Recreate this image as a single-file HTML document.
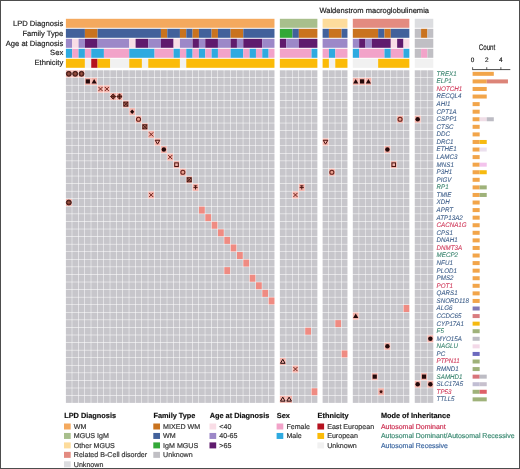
<!DOCTYPE html><html><head><meta charset="utf-8"><style>html,body{margin:0;padding:0;background:#fff;}svg{display:block;will-change:transform;}text{font-family:"Liberation Sans", sans-serif;text-rendering:geometricPrecision;}</style></head><body>
<svg width="520" height="469" viewBox="0 0 520 469">
<rect x="0" y="0" width="520" height="469" fill="#fff"/>
<rect x="65.90" y="18.80" width="208.58" height="9.0" fill="#f4a95e"/>
<rect x="279.85" y="18.80" width="37.53" height="9.0" fill="#a8bf8c"/>
<rect x="322.60" y="18.80" width="24.86" height="9.0" fill="#fddc9c"/>
<rect x="352.80" y="18.80" width="56.54" height="9.0" fill="#e38b80"/>
<rect x="414.75" y="18.80" width="18.53" height="9.0" fill="#dcdde0"/>
<text x="63.2" y="25.8" font-size="7.6" text-anchor="end" fill="#1e1e1e" stroke="#1e1e1e" stroke-width="0.18">LPD Diagnosis</text>
<rect x="65.90" y="28.80" width="19.00" height="9.0" fill="#42619b"/>
<rect x="84.91" y="28.80" width="12.67" height="9.0" fill="#c9731f"/>
<rect x="97.58" y="28.80" width="63.35" height="9.0" fill="#42619b"/>
<rect x="160.93" y="28.80" width="6.33" height="9.0" fill="#c9731f"/>
<rect x="167.26" y="28.80" width="12.67" height="9.0" fill="#42619b"/>
<rect x="179.93" y="28.80" width="6.33" height="9.0" fill="#c9731f"/>
<rect x="186.26" y="28.80" width="6.34" height="9.0" fill="#42619b"/>
<rect x="192.60" y="28.80" width="6.33" height="9.0" fill="#c9731f"/>
<rect x="198.94" y="28.80" width="12.67" height="9.0" fill="#42619b"/>
<rect x="211.61" y="28.80" width="6.33" height="9.0" fill="#c9731f"/>
<rect x="217.94" y="28.80" width="12.67" height="9.0" fill="#42619b"/>
<rect x="230.61" y="28.80" width="12.67" height="9.0" fill="#c9731f"/>
<rect x="243.28" y="28.80" width="31.20" height="9.0" fill="#42619b"/>
<rect x="279.85" y="28.80" width="12.67" height="9.0" fill="#33a838"/>
<rect x="292.52" y="28.80" width="6.33" height="9.0" fill="#42619b"/>
<rect x="298.86" y="28.80" width="18.53" height="9.0" fill="#c9731f"/>
<rect x="322.60" y="28.80" width="6.33" height="9.0" fill="#42619b"/>
<rect x="328.94" y="28.80" width="12.67" height="9.0" fill="#c9731f"/>
<rect x="341.61" y="28.80" width="5.86" height="9.0" fill="#42619b"/>
<rect x="352.80" y="28.80" width="25.34" height="9.0" fill="#c9731f"/>
<rect x="378.14" y="28.80" width="6.34" height="9.0" fill="#42619b"/>
<rect x="384.48" y="28.80" width="6.33" height="9.0" fill="#c9731f"/>
<rect x="390.81" y="28.80" width="18.53" height="9.0" fill="#42619b"/>
<rect x="414.75" y="28.80" width="6.33" height="9.0" fill="#c0bfc4"/>
<rect x="421.08" y="28.80" width="6.34" height="9.0" fill="#c9731f"/>
<rect x="427.42" y="28.80" width="5.86" height="9.0" fill="#c0bfc4"/>
<text x="63.2" y="35.6" font-size="7.6" text-anchor="end" fill="#1e1e1e" stroke="#1e1e1e" stroke-width="0.18">Family Type</text>
<rect x="65.90" y="38.80" width="6.33" height="9.0" fill="#9c88c8"/>
<rect x="72.23" y="38.80" width="6.34" height="9.0" fill="#f9dde6"/>
<rect x="78.57" y="38.80" width="6.33" height="9.0" fill="#9c88c8"/>
<rect x="84.91" y="38.80" width="12.67" height="9.0" fill="#5f1b6d"/>
<rect x="97.58" y="38.80" width="31.67" height="9.0" fill="#9c88c8"/>
<rect x="129.25" y="38.80" width="6.34" height="9.0" fill="#f9dde6"/>
<rect x="135.59" y="38.80" width="12.67" height="9.0" fill="#5f1b6d"/>
<rect x="148.25" y="38.80" width="12.67" height="9.0" fill="#9c88c8"/>
<rect x="160.93" y="38.80" width="12.67" height="9.0" fill="#5f1b6d"/>
<rect x="173.59" y="38.80" width="6.34" height="9.0" fill="#f9dde6"/>
<rect x="179.93" y="38.80" width="12.67" height="9.0" fill="#9c88c8"/>
<rect x="192.60" y="38.80" width="6.33" height="9.0" fill="#5f1b6d"/>
<rect x="198.94" y="38.80" width="6.34" height="9.0" fill="#9c88c8"/>
<rect x="205.27" y="38.80" width="12.67" height="9.0" fill="#5f1b6d"/>
<rect x="217.94" y="38.80" width="12.67" height="9.0" fill="#9c88c8"/>
<rect x="230.61" y="38.80" width="6.33" height="9.0" fill="#5f1b6d"/>
<rect x="236.94" y="38.80" width="6.34" height="9.0" fill="#9c88c8"/>
<rect x="243.28" y="38.80" width="19.00" height="9.0" fill="#5f1b6d"/>
<rect x="262.28" y="38.80" width="12.19" height="9.0" fill="#9c88c8"/>
<rect x="279.85" y="38.80" width="6.33" height="9.0" fill="#5f1b6d"/>
<rect x="286.19" y="38.80" width="12.67" height="9.0" fill="#9c88c8"/>
<rect x="298.86" y="38.80" width="18.53" height="9.0" fill="#5f1b6d"/>
<rect x="322.60" y="38.80" width="24.86" height="9.0" fill="#9c88c8"/>
<rect x="352.80" y="38.80" width="6.33" height="9.0" fill="#9c88c8"/>
<rect x="359.13" y="38.80" width="6.34" height="9.0" fill="#5f1b6d"/>
<rect x="365.47" y="38.80" width="6.33" height="9.0" fill="#9c88c8"/>
<rect x="371.81" y="38.80" width="19.00" height="9.0" fill="#5f1b6d"/>
<rect x="390.81" y="38.80" width="6.33" height="9.0" fill="#f9dde6"/>
<rect x="397.14" y="38.80" width="6.34" height="9.0" fill="#5f1b6d"/>
<rect x="403.48" y="38.80" width="5.86" height="9.0" fill="#f9dde6"/>
<rect x="414.75" y="38.80" width="18.53" height="9.0" fill="#c0bfc4"/>
<text x="63.2" y="45.5" font-size="7.6" text-anchor="end" fill="#1e1e1e" stroke="#1e1e1e" stroke-width="0.18">Age at Diagnosis</text>
<rect x="65.90" y="48.80" width="6.33" height="9.0" fill="#2eaae0"/>
<rect x="72.23" y="48.80" width="6.34" height="9.0" fill="#f2a3c9"/>
<rect x="78.57" y="48.80" width="6.33" height="9.0" fill="#2eaae0"/>
<rect x="84.91" y="48.80" width="6.34" height="9.0" fill="#f2a3c9"/>
<rect x="91.24" y="48.80" width="12.67" height="9.0" fill="#2eaae0"/>
<rect x="103.91" y="48.80" width="25.34" height="9.0" fill="#f2a3c9"/>
<rect x="129.25" y="48.80" width="25.34" height="9.0" fill="#2eaae0"/>
<rect x="154.59" y="48.80" width="19.00" height="9.0" fill="#f2a3c9"/>
<rect x="173.59" y="48.80" width="6.34" height="9.0" fill="#2eaae0"/>
<rect x="179.93" y="48.80" width="6.33" height="9.0" fill="#f2a3c9"/>
<rect x="186.26" y="48.80" width="6.34" height="9.0" fill="#2eaae0"/>
<rect x="192.60" y="48.80" width="6.33" height="9.0" fill="#f2a3c9"/>
<rect x="198.94" y="48.80" width="6.34" height="9.0" fill="#2eaae0"/>
<rect x="205.27" y="48.80" width="6.34" height="9.0" fill="#f2a3c9"/>
<rect x="211.61" y="48.80" width="6.33" height="9.0" fill="#2eaae0"/>
<rect x="217.94" y="48.80" width="12.67" height="9.0" fill="#f2a3c9"/>
<rect x="230.61" y="48.80" width="12.67" height="9.0" fill="#2eaae0"/>
<rect x="243.28" y="48.80" width="6.34" height="9.0" fill="#f2a3c9"/>
<rect x="249.62" y="48.80" width="6.34" height="9.0" fill="#2eaae0"/>
<rect x="255.95" y="48.80" width="6.33" height="9.0" fill="#f2a3c9"/>
<rect x="262.28" y="48.80" width="6.34" height="9.0" fill="#2eaae0"/>
<rect x="268.62" y="48.80" width="5.86" height="9.0" fill="#f2a3c9"/>
<rect x="279.85" y="48.80" width="31.68" height="9.0" fill="#f2a3c9"/>
<rect x="311.53" y="48.80" width="5.86" height="9.0" fill="#2eaae0"/>
<rect x="322.60" y="48.80" width="6.33" height="9.0" fill="#f2a3c9"/>
<rect x="328.94" y="48.80" width="6.34" height="9.0" fill="#2eaae0"/>
<rect x="335.27" y="48.80" width="12.19" height="9.0" fill="#f2a3c9"/>
<rect x="352.80" y="48.80" width="6.33" height="9.0" fill="#2eaae0"/>
<rect x="359.13" y="48.80" width="25.34" height="9.0" fill="#f2a3c9"/>
<rect x="384.48" y="48.80" width="6.33" height="9.0" fill="#2eaae0"/>
<rect x="390.81" y="48.80" width="12.67" height="9.0" fill="#f2a3c9"/>
<rect x="403.48" y="48.80" width="5.86" height="9.0" fill="#2eaae0"/>
<rect x="414.75" y="48.80" width="6.33" height="9.0" fill="#c0bfc4"/>
<rect x="421.08" y="48.80" width="6.34" height="9.0" fill="#f2a3c9"/>
<rect x="427.42" y="48.80" width="5.86" height="9.0" fill="#c0bfc4"/>
<text x="63.2" y="55.4" font-size="7.6" text-anchor="end" fill="#1e1e1e" stroke="#1e1e1e" stroke-width="0.18">Sex</text>
<rect x="65.90" y="58.80" width="19.00" height="9.0" fill="#fbbb08"/>
<rect x="84.91" y="58.80" width="6.34" height="9.0" fill="#f1f1f1"/>
<rect x="91.24" y="58.80" width="6.33" height="9.0" fill="#b5121f"/>
<rect x="97.58" y="58.80" width="12.67" height="9.0" fill="#fbbb08"/>
<rect x="110.25" y="58.80" width="19.00" height="9.0" fill="#f1f1f1"/>
<rect x="129.25" y="58.80" width="12.67" height="9.0" fill="#fbbb08"/>
<rect x="141.92" y="58.80" width="6.33" height="9.0" fill="#f1f1f1"/>
<rect x="148.25" y="58.80" width="31.68" height="9.0" fill="#fbbb08"/>
<rect x="179.93" y="58.80" width="6.33" height="9.0" fill="#f1f1f1"/>
<rect x="186.26" y="58.80" width="88.21" height="9.0" fill="#fbbb08"/>
<rect x="279.85" y="58.80" width="37.53" height="9.0" fill="#fbbb08"/>
<rect x="322.60" y="58.80" width="6.33" height="9.0" fill="#fbbb08"/>
<rect x="328.94" y="58.80" width="6.34" height="9.0" fill="#f1f1f1"/>
<rect x="335.27" y="58.80" width="12.19" height="9.0" fill="#fbbb08"/>
<rect x="352.80" y="58.80" width="25.34" height="9.0" fill="#f1f1f1"/>
<rect x="378.14" y="58.80" width="31.20" height="9.0" fill="#fbbb08"/>
<rect x="414.75" y="58.80" width="18.53" height="9.0" fill="#f1f1f1"/>
<text x="63.2" y="65.2" font-size="7.6" text-anchor="end" fill="#1e1e1e" stroke="#1e1e1e" stroke-width="0.18">Ethnicity</text>
<rect x="65.90" y="70.30" width="5.86" height="7.07" fill="#f2b2aa"/>
<rect x="65.90" y="77.87" width="5.86" height="7.07" fill="#c7c6cb"/>
<rect x="65.90" y="85.44" width="5.86" height="7.07" fill="#c7c6cb"/>
<rect x="65.90" y="93.01" width="5.86" height="7.07" fill="#c7c6cb"/>
<rect x="65.90" y="100.58" width="5.86" height="7.07" fill="#c7c6cb"/>
<rect x="65.90" y="108.15" width="5.86" height="7.07" fill="#c7c6cb"/>
<rect x="65.90" y="115.72" width="5.86" height="7.07" fill="#c7c6cb"/>
<rect x="65.90" y="123.29" width="5.86" height="7.07" fill="#c7c6cb"/>
<rect x="65.90" y="130.86" width="5.86" height="7.07" fill="#c7c6cb"/>
<rect x="65.90" y="138.43" width="5.86" height="7.07" fill="#c7c6cb"/>
<rect x="65.90" y="146.00" width="5.86" height="7.07" fill="#c7c6cb"/>
<rect x="65.90" y="153.57" width="5.86" height="7.07" fill="#c7c6cb"/>
<rect x="65.90" y="161.14" width="5.86" height="7.07" fill="#c7c6cb"/>
<rect x="65.90" y="168.71" width="5.86" height="7.07" fill="#c7c6cb"/>
<rect x="65.90" y="176.28" width="5.86" height="7.07" fill="#c7c6cb"/>
<rect x="65.90" y="183.85" width="5.86" height="7.07" fill="#c7c6cb"/>
<rect x="65.90" y="191.42" width="5.86" height="7.07" fill="#c7c6cb"/>
<rect x="65.90" y="198.99" width="5.86" height="7.07" fill="#f2b2aa"/>
<rect x="65.90" y="206.56" width="5.86" height="7.07" fill="#c7c6cb"/>
<rect x="65.90" y="214.13" width="5.86" height="7.07" fill="#c7c6cb"/>
<rect x="65.90" y="221.70" width="5.86" height="7.07" fill="#c7c6cb"/>
<rect x="65.90" y="229.27" width="5.86" height="7.07" fill="#c7c6cb"/>
<rect x="65.90" y="236.84" width="5.86" height="7.07" fill="#c7c6cb"/>
<rect x="65.90" y="244.41" width="5.86" height="7.07" fill="#c7c6cb"/>
<rect x="65.90" y="251.98" width="5.86" height="7.07" fill="#c7c6cb"/>
<rect x="65.90" y="259.55" width="5.86" height="7.07" fill="#c7c6cb"/>
<rect x="65.90" y="267.12" width="5.86" height="7.07" fill="#c7c6cb"/>
<rect x="65.90" y="274.69" width="5.86" height="7.07" fill="#c7c6cb"/>
<rect x="65.90" y="282.26" width="5.86" height="7.07" fill="#c7c6cb"/>
<rect x="65.90" y="289.83" width="5.86" height="7.07" fill="#c7c6cb"/>
<rect x="65.90" y="297.40" width="5.86" height="7.07" fill="#c7c6cb"/>
<rect x="65.90" y="304.97" width="5.86" height="7.07" fill="#c7c6cb"/>
<rect x="65.90" y="312.54" width="5.86" height="7.07" fill="#c7c6cb"/>
<rect x="65.90" y="320.11" width="5.86" height="7.07" fill="#c7c6cb"/>
<rect x="65.90" y="327.68" width="5.86" height="7.07" fill="#c7c6cb"/>
<rect x="65.90" y="335.25" width="5.86" height="7.07" fill="#c7c6cb"/>
<rect x="65.90" y="342.82" width="5.86" height="7.07" fill="#c7c6cb"/>
<rect x="65.90" y="350.39" width="5.86" height="7.07" fill="#c7c6cb"/>
<rect x="65.90" y="357.96" width="5.86" height="7.07" fill="#c7c6cb"/>
<rect x="65.90" y="365.53" width="5.86" height="7.07" fill="#c7c6cb"/>
<rect x="65.90" y="373.10" width="5.86" height="7.07" fill="#c7c6cb"/>
<rect x="65.90" y="380.67" width="5.86" height="7.07" fill="#c7c6cb"/>
<rect x="65.90" y="388.24" width="5.86" height="7.07" fill="#c7c6cb"/>
<rect x="65.90" y="395.81" width="5.86" height="7.07" fill="#c7c6cb"/>
<rect x="72.23" y="70.30" width="5.86" height="7.07" fill="#f2b2aa"/>
<rect x="72.23" y="77.87" width="5.86" height="7.07" fill="#c7c6cb"/>
<rect x="72.23" y="85.44" width="5.86" height="7.07" fill="#c7c6cb"/>
<rect x="72.23" y="93.01" width="5.86" height="7.07" fill="#c7c6cb"/>
<rect x="72.23" y="100.58" width="5.86" height="7.07" fill="#c7c6cb"/>
<rect x="72.23" y="108.15" width="5.86" height="7.07" fill="#c7c6cb"/>
<rect x="72.23" y="115.72" width="5.86" height="7.07" fill="#c7c6cb"/>
<rect x="72.23" y="123.29" width="5.86" height="7.07" fill="#c7c6cb"/>
<rect x="72.23" y="130.86" width="5.86" height="7.07" fill="#c7c6cb"/>
<rect x="72.23" y="138.43" width="5.86" height="7.07" fill="#c7c6cb"/>
<rect x="72.23" y="146.00" width="5.86" height="7.07" fill="#c7c6cb"/>
<rect x="72.23" y="153.57" width="5.86" height="7.07" fill="#c7c6cb"/>
<rect x="72.23" y="161.14" width="5.86" height="7.07" fill="#c7c6cb"/>
<rect x="72.23" y="168.71" width="5.86" height="7.07" fill="#c7c6cb"/>
<rect x="72.23" y="176.28" width="5.86" height="7.07" fill="#c7c6cb"/>
<rect x="72.23" y="183.85" width="5.86" height="7.07" fill="#c7c6cb"/>
<rect x="72.23" y="191.42" width="5.86" height="7.07" fill="#c7c6cb"/>
<rect x="72.23" y="198.99" width="5.86" height="7.07" fill="#c7c6cb"/>
<rect x="72.23" y="206.56" width="5.86" height="7.07" fill="#c7c6cb"/>
<rect x="72.23" y="214.13" width="5.86" height="7.07" fill="#c7c6cb"/>
<rect x="72.23" y="221.70" width="5.86" height="7.07" fill="#c7c6cb"/>
<rect x="72.23" y="229.27" width="5.86" height="7.07" fill="#c7c6cb"/>
<rect x="72.23" y="236.84" width="5.86" height="7.07" fill="#c7c6cb"/>
<rect x="72.23" y="244.41" width="5.86" height="7.07" fill="#c7c6cb"/>
<rect x="72.23" y="251.98" width="5.86" height="7.07" fill="#c7c6cb"/>
<rect x="72.23" y="259.55" width="5.86" height="7.07" fill="#c7c6cb"/>
<rect x="72.23" y="267.12" width="5.86" height="7.07" fill="#c7c6cb"/>
<rect x="72.23" y="274.69" width="5.86" height="7.07" fill="#c7c6cb"/>
<rect x="72.23" y="282.26" width="5.86" height="7.07" fill="#c7c6cb"/>
<rect x="72.23" y="289.83" width="5.86" height="7.07" fill="#c7c6cb"/>
<rect x="72.23" y="297.40" width="5.86" height="7.07" fill="#c7c6cb"/>
<rect x="72.23" y="304.97" width="5.86" height="7.07" fill="#c7c6cb"/>
<rect x="72.23" y="312.54" width="5.86" height="7.07" fill="#c7c6cb"/>
<rect x="72.23" y="320.11" width="5.86" height="7.07" fill="#c7c6cb"/>
<rect x="72.23" y="327.68" width="5.86" height="7.07" fill="#c7c6cb"/>
<rect x="72.23" y="335.25" width="5.86" height="7.07" fill="#c7c6cb"/>
<rect x="72.23" y="342.82" width="5.86" height="7.07" fill="#c7c6cb"/>
<rect x="72.23" y="350.39" width="5.86" height="7.07" fill="#c7c6cb"/>
<rect x="72.23" y="357.96" width="5.86" height="7.07" fill="#c7c6cb"/>
<rect x="72.23" y="365.53" width="5.86" height="7.07" fill="#c7c6cb"/>
<rect x="72.23" y="373.10" width="5.86" height="7.07" fill="#c7c6cb"/>
<rect x="72.23" y="380.67" width="5.86" height="7.07" fill="#c7c6cb"/>
<rect x="72.23" y="388.24" width="5.86" height="7.07" fill="#c7c6cb"/>
<rect x="72.23" y="395.81" width="5.86" height="7.07" fill="#c7c6cb"/>
<rect x="78.57" y="70.30" width="5.86" height="7.07" fill="#f2b2aa"/>
<rect x="78.57" y="77.87" width="5.86" height="7.07" fill="#c7c6cb"/>
<rect x="78.57" y="85.44" width="5.86" height="7.07" fill="#c7c6cb"/>
<rect x="78.57" y="93.01" width="5.86" height="7.07" fill="#c7c6cb"/>
<rect x="78.57" y="100.58" width="5.86" height="7.07" fill="#c7c6cb"/>
<rect x="78.57" y="108.15" width="5.86" height="7.07" fill="#c7c6cb"/>
<rect x="78.57" y="115.72" width="5.86" height="7.07" fill="#c7c6cb"/>
<rect x="78.57" y="123.29" width="5.86" height="7.07" fill="#c7c6cb"/>
<rect x="78.57" y="130.86" width="5.86" height="7.07" fill="#c7c6cb"/>
<rect x="78.57" y="138.43" width="5.86" height="7.07" fill="#c7c6cb"/>
<rect x="78.57" y="146.00" width="5.86" height="7.07" fill="#c7c6cb"/>
<rect x="78.57" y="153.57" width="5.86" height="7.07" fill="#c7c6cb"/>
<rect x="78.57" y="161.14" width="5.86" height="7.07" fill="#c7c6cb"/>
<rect x="78.57" y="168.71" width="5.86" height="7.07" fill="#c7c6cb"/>
<rect x="78.57" y="176.28" width="5.86" height="7.07" fill="#c7c6cb"/>
<rect x="78.57" y="183.85" width="5.86" height="7.07" fill="#c7c6cb"/>
<rect x="78.57" y="191.42" width="5.86" height="7.07" fill="#c7c6cb"/>
<rect x="78.57" y="198.99" width="5.86" height="7.07" fill="#c7c6cb"/>
<rect x="78.57" y="206.56" width="5.86" height="7.07" fill="#c7c6cb"/>
<rect x="78.57" y="214.13" width="5.86" height="7.07" fill="#c7c6cb"/>
<rect x="78.57" y="221.70" width="5.86" height="7.07" fill="#c7c6cb"/>
<rect x="78.57" y="229.27" width="5.86" height="7.07" fill="#c7c6cb"/>
<rect x="78.57" y="236.84" width="5.86" height="7.07" fill="#c7c6cb"/>
<rect x="78.57" y="244.41" width="5.86" height="7.07" fill="#c7c6cb"/>
<rect x="78.57" y="251.98" width="5.86" height="7.07" fill="#c7c6cb"/>
<rect x="78.57" y="259.55" width="5.86" height="7.07" fill="#c7c6cb"/>
<rect x="78.57" y="267.12" width="5.86" height="7.07" fill="#c7c6cb"/>
<rect x="78.57" y="274.69" width="5.86" height="7.07" fill="#c7c6cb"/>
<rect x="78.57" y="282.26" width="5.86" height="7.07" fill="#c7c6cb"/>
<rect x="78.57" y="289.83" width="5.86" height="7.07" fill="#c7c6cb"/>
<rect x="78.57" y="297.40" width="5.86" height="7.07" fill="#c7c6cb"/>
<rect x="78.57" y="304.97" width="5.86" height="7.07" fill="#c7c6cb"/>
<rect x="78.57" y="312.54" width="5.86" height="7.07" fill="#c7c6cb"/>
<rect x="78.57" y="320.11" width="5.86" height="7.07" fill="#c7c6cb"/>
<rect x="78.57" y="327.68" width="5.86" height="7.07" fill="#c7c6cb"/>
<rect x="78.57" y="335.25" width="5.86" height="7.07" fill="#c7c6cb"/>
<rect x="78.57" y="342.82" width="5.86" height="7.07" fill="#c7c6cb"/>
<rect x="78.57" y="350.39" width="5.86" height="7.07" fill="#c7c6cb"/>
<rect x="78.57" y="357.96" width="5.86" height="7.07" fill="#c7c6cb"/>
<rect x="78.57" y="365.53" width="5.86" height="7.07" fill="#c7c6cb"/>
<rect x="78.57" y="373.10" width="5.86" height="7.07" fill="#c7c6cb"/>
<rect x="78.57" y="380.67" width="5.86" height="7.07" fill="#c7c6cb"/>
<rect x="78.57" y="388.24" width="5.86" height="7.07" fill="#c7c6cb"/>
<rect x="78.57" y="395.81" width="5.86" height="7.07" fill="#c7c6cb"/>
<rect x="84.91" y="70.30" width="5.86" height="7.07" fill="#c7c6cb"/>
<rect x="84.91" y="77.87" width="5.86" height="7.07" fill="#f2b2aa"/>
<rect x="84.91" y="85.44" width="5.86" height="7.07" fill="#c7c6cb"/>
<rect x="84.91" y="93.01" width="5.86" height="7.07" fill="#c7c6cb"/>
<rect x="84.91" y="100.58" width="5.86" height="7.07" fill="#c7c6cb"/>
<rect x="84.91" y="108.15" width="5.86" height="7.07" fill="#c7c6cb"/>
<rect x="84.91" y="115.72" width="5.86" height="7.07" fill="#c7c6cb"/>
<rect x="84.91" y="123.29" width="5.86" height="7.07" fill="#c7c6cb"/>
<rect x="84.91" y="130.86" width="5.86" height="7.07" fill="#c7c6cb"/>
<rect x="84.91" y="138.43" width="5.86" height="7.07" fill="#c7c6cb"/>
<rect x="84.91" y="146.00" width="5.86" height="7.07" fill="#c7c6cb"/>
<rect x="84.91" y="153.57" width="5.86" height="7.07" fill="#c7c6cb"/>
<rect x="84.91" y="161.14" width="5.86" height="7.07" fill="#c7c6cb"/>
<rect x="84.91" y="168.71" width="5.86" height="7.07" fill="#c7c6cb"/>
<rect x="84.91" y="176.28" width="5.86" height="7.07" fill="#c7c6cb"/>
<rect x="84.91" y="183.85" width="5.86" height="7.07" fill="#c7c6cb"/>
<rect x="84.91" y="191.42" width="5.86" height="7.07" fill="#c7c6cb"/>
<rect x="84.91" y="198.99" width="5.86" height="7.07" fill="#c7c6cb"/>
<rect x="84.91" y="206.56" width="5.86" height="7.07" fill="#c7c6cb"/>
<rect x="84.91" y="214.13" width="5.86" height="7.07" fill="#c7c6cb"/>
<rect x="84.91" y="221.70" width="5.86" height="7.07" fill="#c7c6cb"/>
<rect x="84.91" y="229.27" width="5.86" height="7.07" fill="#c7c6cb"/>
<rect x="84.91" y="236.84" width="5.86" height="7.07" fill="#c7c6cb"/>
<rect x="84.91" y="244.41" width="5.86" height="7.07" fill="#c7c6cb"/>
<rect x="84.91" y="251.98" width="5.86" height="7.07" fill="#c7c6cb"/>
<rect x="84.91" y="259.55" width="5.86" height="7.07" fill="#c7c6cb"/>
<rect x="84.91" y="267.12" width="5.86" height="7.07" fill="#c7c6cb"/>
<rect x="84.91" y="274.69" width="5.86" height="7.07" fill="#c7c6cb"/>
<rect x="84.91" y="282.26" width="5.86" height="7.07" fill="#c7c6cb"/>
<rect x="84.91" y="289.83" width="5.86" height="7.07" fill="#c7c6cb"/>
<rect x="84.91" y="297.40" width="5.86" height="7.07" fill="#c7c6cb"/>
<rect x="84.91" y="304.97" width="5.86" height="7.07" fill="#c7c6cb"/>
<rect x="84.91" y="312.54" width="5.86" height="7.07" fill="#c7c6cb"/>
<rect x="84.91" y="320.11" width="5.86" height="7.07" fill="#c7c6cb"/>
<rect x="84.91" y="327.68" width="5.86" height="7.07" fill="#c7c6cb"/>
<rect x="84.91" y="335.25" width="5.86" height="7.07" fill="#c7c6cb"/>
<rect x="84.91" y="342.82" width="5.86" height="7.07" fill="#c7c6cb"/>
<rect x="84.91" y="350.39" width="5.86" height="7.07" fill="#c7c6cb"/>
<rect x="84.91" y="357.96" width="5.86" height="7.07" fill="#c7c6cb"/>
<rect x="84.91" y="365.53" width="5.86" height="7.07" fill="#c7c6cb"/>
<rect x="84.91" y="373.10" width="5.86" height="7.07" fill="#c7c6cb"/>
<rect x="84.91" y="380.67" width="5.86" height="7.07" fill="#c7c6cb"/>
<rect x="84.91" y="388.24" width="5.86" height="7.07" fill="#c7c6cb"/>
<rect x="84.91" y="395.81" width="5.86" height="7.07" fill="#c7c6cb"/>
<rect x="91.24" y="70.30" width="5.86" height="7.07" fill="#c7c6cb"/>
<rect x="91.24" y="77.87" width="5.86" height="7.07" fill="#f2b2aa"/>
<rect x="91.24" y="85.44" width="5.86" height="7.07" fill="#c7c6cb"/>
<rect x="91.24" y="93.01" width="5.86" height="7.07" fill="#c7c6cb"/>
<rect x="91.24" y="100.58" width="5.86" height="7.07" fill="#c7c6cb"/>
<rect x="91.24" y="108.15" width="5.86" height="7.07" fill="#c7c6cb"/>
<rect x="91.24" y="115.72" width="5.86" height="7.07" fill="#c7c6cb"/>
<rect x="91.24" y="123.29" width="5.86" height="7.07" fill="#c7c6cb"/>
<rect x="91.24" y="130.86" width="5.86" height="7.07" fill="#c7c6cb"/>
<rect x="91.24" y="138.43" width="5.86" height="7.07" fill="#c7c6cb"/>
<rect x="91.24" y="146.00" width="5.86" height="7.07" fill="#c7c6cb"/>
<rect x="91.24" y="153.57" width="5.86" height="7.07" fill="#c7c6cb"/>
<rect x="91.24" y="161.14" width="5.86" height="7.07" fill="#c7c6cb"/>
<rect x="91.24" y="168.71" width="5.86" height="7.07" fill="#c7c6cb"/>
<rect x="91.24" y="176.28" width="5.86" height="7.07" fill="#c7c6cb"/>
<rect x="91.24" y="183.85" width="5.86" height="7.07" fill="#c7c6cb"/>
<rect x="91.24" y="191.42" width="5.86" height="7.07" fill="#c7c6cb"/>
<rect x="91.24" y="198.99" width="5.86" height="7.07" fill="#c7c6cb"/>
<rect x="91.24" y="206.56" width="5.86" height="7.07" fill="#c7c6cb"/>
<rect x="91.24" y="214.13" width="5.86" height="7.07" fill="#c7c6cb"/>
<rect x="91.24" y="221.70" width="5.86" height="7.07" fill="#c7c6cb"/>
<rect x="91.24" y="229.27" width="5.86" height="7.07" fill="#c7c6cb"/>
<rect x="91.24" y="236.84" width="5.86" height="7.07" fill="#c7c6cb"/>
<rect x="91.24" y="244.41" width="5.86" height="7.07" fill="#c7c6cb"/>
<rect x="91.24" y="251.98" width="5.86" height="7.07" fill="#c7c6cb"/>
<rect x="91.24" y="259.55" width="5.86" height="7.07" fill="#c7c6cb"/>
<rect x="91.24" y="267.12" width="5.86" height="7.07" fill="#c7c6cb"/>
<rect x="91.24" y="274.69" width="5.86" height="7.07" fill="#c7c6cb"/>
<rect x="91.24" y="282.26" width="5.86" height="7.07" fill="#c7c6cb"/>
<rect x="91.24" y="289.83" width="5.86" height="7.07" fill="#c7c6cb"/>
<rect x="91.24" y="297.40" width="5.86" height="7.07" fill="#c7c6cb"/>
<rect x="91.24" y="304.97" width="5.86" height="7.07" fill="#c7c6cb"/>
<rect x="91.24" y="312.54" width="5.86" height="7.07" fill="#c7c6cb"/>
<rect x="91.24" y="320.11" width="5.86" height="7.07" fill="#c7c6cb"/>
<rect x="91.24" y="327.68" width="5.86" height="7.07" fill="#c7c6cb"/>
<rect x="91.24" y="335.25" width="5.86" height="7.07" fill="#c7c6cb"/>
<rect x="91.24" y="342.82" width="5.86" height="7.07" fill="#c7c6cb"/>
<rect x="91.24" y="350.39" width="5.86" height="7.07" fill="#c7c6cb"/>
<rect x="91.24" y="357.96" width="5.86" height="7.07" fill="#c7c6cb"/>
<rect x="91.24" y="365.53" width="5.86" height="7.07" fill="#c7c6cb"/>
<rect x="91.24" y="373.10" width="5.86" height="7.07" fill="#c7c6cb"/>
<rect x="91.24" y="380.67" width="5.86" height="7.07" fill="#c7c6cb"/>
<rect x="91.24" y="388.24" width="5.86" height="7.07" fill="#c7c6cb"/>
<rect x="91.24" y="395.81" width="5.86" height="7.07" fill="#c7c6cb"/>
<rect x="97.58" y="70.30" width="5.86" height="7.07" fill="#c7c6cb"/>
<rect x="97.58" y="77.87" width="5.86" height="7.07" fill="#c7c6cb"/>
<rect x="97.58" y="85.44" width="5.86" height="7.07" fill="#f2b2aa"/>
<rect x="97.58" y="93.01" width="5.86" height="7.07" fill="#c7c6cb"/>
<rect x="97.58" y="100.58" width="5.86" height="7.07" fill="#c7c6cb"/>
<rect x="97.58" y="108.15" width="5.86" height="7.07" fill="#c7c6cb"/>
<rect x="97.58" y="115.72" width="5.86" height="7.07" fill="#c7c6cb"/>
<rect x="97.58" y="123.29" width="5.86" height="7.07" fill="#c7c6cb"/>
<rect x="97.58" y="130.86" width="5.86" height="7.07" fill="#c7c6cb"/>
<rect x="97.58" y="138.43" width="5.86" height="7.07" fill="#c7c6cb"/>
<rect x="97.58" y="146.00" width="5.86" height="7.07" fill="#c7c6cb"/>
<rect x="97.58" y="153.57" width="5.86" height="7.07" fill="#c7c6cb"/>
<rect x="97.58" y="161.14" width="5.86" height="7.07" fill="#c7c6cb"/>
<rect x="97.58" y="168.71" width="5.86" height="7.07" fill="#c7c6cb"/>
<rect x="97.58" y="176.28" width="5.86" height="7.07" fill="#c7c6cb"/>
<rect x="97.58" y="183.85" width="5.86" height="7.07" fill="#c7c6cb"/>
<rect x="97.58" y="191.42" width="5.86" height="7.07" fill="#c7c6cb"/>
<rect x="97.58" y="198.99" width="5.86" height="7.07" fill="#c7c6cb"/>
<rect x="97.58" y="206.56" width="5.86" height="7.07" fill="#c7c6cb"/>
<rect x="97.58" y="214.13" width="5.86" height="7.07" fill="#c7c6cb"/>
<rect x="97.58" y="221.70" width="5.86" height="7.07" fill="#c7c6cb"/>
<rect x="97.58" y="229.27" width="5.86" height="7.07" fill="#c7c6cb"/>
<rect x="97.58" y="236.84" width="5.86" height="7.07" fill="#c7c6cb"/>
<rect x="97.58" y="244.41" width="5.86" height="7.07" fill="#c7c6cb"/>
<rect x="97.58" y="251.98" width="5.86" height="7.07" fill="#c7c6cb"/>
<rect x="97.58" y="259.55" width="5.86" height="7.07" fill="#c7c6cb"/>
<rect x="97.58" y="267.12" width="5.86" height="7.07" fill="#c7c6cb"/>
<rect x="97.58" y="274.69" width="5.86" height="7.07" fill="#c7c6cb"/>
<rect x="97.58" y="282.26" width="5.86" height="7.07" fill="#c7c6cb"/>
<rect x="97.58" y="289.83" width="5.86" height="7.07" fill="#c7c6cb"/>
<rect x="97.58" y="297.40" width="5.86" height="7.07" fill="#c7c6cb"/>
<rect x="97.58" y="304.97" width="5.86" height="7.07" fill="#c7c6cb"/>
<rect x="97.58" y="312.54" width="5.86" height="7.07" fill="#c7c6cb"/>
<rect x="97.58" y="320.11" width="5.86" height="7.07" fill="#c7c6cb"/>
<rect x="97.58" y="327.68" width="5.86" height="7.07" fill="#c7c6cb"/>
<rect x="97.58" y="335.25" width="5.86" height="7.07" fill="#c7c6cb"/>
<rect x="97.58" y="342.82" width="5.86" height="7.07" fill="#c7c6cb"/>
<rect x="97.58" y="350.39" width="5.86" height="7.07" fill="#c7c6cb"/>
<rect x="97.58" y="357.96" width="5.86" height="7.07" fill="#c7c6cb"/>
<rect x="97.58" y="365.53" width="5.86" height="7.07" fill="#c7c6cb"/>
<rect x="97.58" y="373.10" width="5.86" height="7.07" fill="#c7c6cb"/>
<rect x="97.58" y="380.67" width="5.86" height="7.07" fill="#c7c6cb"/>
<rect x="97.58" y="388.24" width="5.86" height="7.07" fill="#c7c6cb"/>
<rect x="97.58" y="395.81" width="5.86" height="7.07" fill="#c7c6cb"/>
<rect x="103.91" y="70.30" width="5.86" height="7.07" fill="#c7c6cb"/>
<rect x="103.91" y="77.87" width="5.86" height="7.07" fill="#c7c6cb"/>
<rect x="103.91" y="85.44" width="5.86" height="7.07" fill="#f2b2aa"/>
<rect x="103.91" y="93.01" width="5.86" height="7.07" fill="#c7c6cb"/>
<rect x="103.91" y="100.58" width="5.86" height="7.07" fill="#c7c6cb"/>
<rect x="103.91" y="108.15" width="5.86" height="7.07" fill="#c7c6cb"/>
<rect x="103.91" y="115.72" width="5.86" height="7.07" fill="#c7c6cb"/>
<rect x="103.91" y="123.29" width="5.86" height="7.07" fill="#c7c6cb"/>
<rect x="103.91" y="130.86" width="5.86" height="7.07" fill="#c7c6cb"/>
<rect x="103.91" y="138.43" width="5.86" height="7.07" fill="#c7c6cb"/>
<rect x="103.91" y="146.00" width="5.86" height="7.07" fill="#c7c6cb"/>
<rect x="103.91" y="153.57" width="5.86" height="7.07" fill="#c7c6cb"/>
<rect x="103.91" y="161.14" width="5.86" height="7.07" fill="#c7c6cb"/>
<rect x="103.91" y="168.71" width="5.86" height="7.07" fill="#c7c6cb"/>
<rect x="103.91" y="176.28" width="5.86" height="7.07" fill="#c7c6cb"/>
<rect x="103.91" y="183.85" width="5.86" height="7.07" fill="#c7c6cb"/>
<rect x="103.91" y="191.42" width="5.86" height="7.07" fill="#c7c6cb"/>
<rect x="103.91" y="198.99" width="5.86" height="7.07" fill="#c7c6cb"/>
<rect x="103.91" y="206.56" width="5.86" height="7.07" fill="#c7c6cb"/>
<rect x="103.91" y="214.13" width="5.86" height="7.07" fill="#c7c6cb"/>
<rect x="103.91" y="221.70" width="5.86" height="7.07" fill="#c7c6cb"/>
<rect x="103.91" y="229.27" width="5.86" height="7.07" fill="#c7c6cb"/>
<rect x="103.91" y="236.84" width="5.86" height="7.07" fill="#c7c6cb"/>
<rect x="103.91" y="244.41" width="5.86" height="7.07" fill="#c7c6cb"/>
<rect x="103.91" y="251.98" width="5.86" height="7.07" fill="#c7c6cb"/>
<rect x="103.91" y="259.55" width="5.86" height="7.07" fill="#c7c6cb"/>
<rect x="103.91" y="267.12" width="5.86" height="7.07" fill="#c7c6cb"/>
<rect x="103.91" y="274.69" width="5.86" height="7.07" fill="#c7c6cb"/>
<rect x="103.91" y="282.26" width="5.86" height="7.07" fill="#c7c6cb"/>
<rect x="103.91" y="289.83" width="5.86" height="7.07" fill="#c7c6cb"/>
<rect x="103.91" y="297.40" width="5.86" height="7.07" fill="#c7c6cb"/>
<rect x="103.91" y="304.97" width="5.86" height="7.07" fill="#c7c6cb"/>
<rect x="103.91" y="312.54" width="5.86" height="7.07" fill="#c7c6cb"/>
<rect x="103.91" y="320.11" width="5.86" height="7.07" fill="#c7c6cb"/>
<rect x="103.91" y="327.68" width="5.86" height="7.07" fill="#c7c6cb"/>
<rect x="103.91" y="335.25" width="5.86" height="7.07" fill="#c7c6cb"/>
<rect x="103.91" y="342.82" width="5.86" height="7.07" fill="#c7c6cb"/>
<rect x="103.91" y="350.39" width="5.86" height="7.07" fill="#c7c6cb"/>
<rect x="103.91" y="357.96" width="5.86" height="7.07" fill="#c7c6cb"/>
<rect x="103.91" y="365.53" width="5.86" height="7.07" fill="#c7c6cb"/>
<rect x="103.91" y="373.10" width="5.86" height="7.07" fill="#c7c6cb"/>
<rect x="103.91" y="380.67" width="5.86" height="7.07" fill="#c7c6cb"/>
<rect x="103.91" y="388.24" width="5.86" height="7.07" fill="#c7c6cb"/>
<rect x="103.91" y="395.81" width="5.86" height="7.07" fill="#c7c6cb"/>
<rect x="110.25" y="70.30" width="5.86" height="7.07" fill="#c7c6cb"/>
<rect x="110.25" y="77.87" width="5.86" height="7.07" fill="#c7c6cb"/>
<rect x="110.25" y="85.44" width="5.86" height="7.07" fill="#c7c6cb"/>
<rect x="110.25" y="93.01" width="5.86" height="7.07" fill="#f2b2aa"/>
<rect x="110.25" y="100.58" width="5.86" height="7.07" fill="#c7c6cb"/>
<rect x="110.25" y="108.15" width="5.86" height="7.07" fill="#c7c6cb"/>
<rect x="110.25" y="115.72" width="5.86" height="7.07" fill="#c7c6cb"/>
<rect x="110.25" y="123.29" width="5.86" height="7.07" fill="#c7c6cb"/>
<rect x="110.25" y="130.86" width="5.86" height="7.07" fill="#c7c6cb"/>
<rect x="110.25" y="138.43" width="5.86" height="7.07" fill="#c7c6cb"/>
<rect x="110.25" y="146.00" width="5.86" height="7.07" fill="#c7c6cb"/>
<rect x="110.25" y="153.57" width="5.86" height="7.07" fill="#c7c6cb"/>
<rect x="110.25" y="161.14" width="5.86" height="7.07" fill="#c7c6cb"/>
<rect x="110.25" y="168.71" width="5.86" height="7.07" fill="#c7c6cb"/>
<rect x="110.25" y="176.28" width="5.86" height="7.07" fill="#c7c6cb"/>
<rect x="110.25" y="183.85" width="5.86" height="7.07" fill="#c7c6cb"/>
<rect x="110.25" y="191.42" width="5.86" height="7.07" fill="#c7c6cb"/>
<rect x="110.25" y="198.99" width="5.86" height="7.07" fill="#c7c6cb"/>
<rect x="110.25" y="206.56" width="5.86" height="7.07" fill="#c7c6cb"/>
<rect x="110.25" y="214.13" width="5.86" height="7.07" fill="#c7c6cb"/>
<rect x="110.25" y="221.70" width="5.86" height="7.07" fill="#c7c6cb"/>
<rect x="110.25" y="229.27" width="5.86" height="7.07" fill="#c7c6cb"/>
<rect x="110.25" y="236.84" width="5.86" height="7.07" fill="#c7c6cb"/>
<rect x="110.25" y="244.41" width="5.86" height="7.07" fill="#c7c6cb"/>
<rect x="110.25" y="251.98" width="5.86" height="7.07" fill="#c7c6cb"/>
<rect x="110.25" y="259.55" width="5.86" height="7.07" fill="#c7c6cb"/>
<rect x="110.25" y="267.12" width="5.86" height="7.07" fill="#c7c6cb"/>
<rect x="110.25" y="274.69" width="5.86" height="7.07" fill="#c7c6cb"/>
<rect x="110.25" y="282.26" width="5.86" height="7.07" fill="#c7c6cb"/>
<rect x="110.25" y="289.83" width="5.86" height="7.07" fill="#c7c6cb"/>
<rect x="110.25" y="297.40" width="5.86" height="7.07" fill="#c7c6cb"/>
<rect x="110.25" y="304.97" width="5.86" height="7.07" fill="#c7c6cb"/>
<rect x="110.25" y="312.54" width="5.86" height="7.07" fill="#c7c6cb"/>
<rect x="110.25" y="320.11" width="5.86" height="7.07" fill="#c7c6cb"/>
<rect x="110.25" y="327.68" width="5.86" height="7.07" fill="#c7c6cb"/>
<rect x="110.25" y="335.25" width="5.86" height="7.07" fill="#c7c6cb"/>
<rect x="110.25" y="342.82" width="5.86" height="7.07" fill="#c7c6cb"/>
<rect x="110.25" y="350.39" width="5.86" height="7.07" fill="#c7c6cb"/>
<rect x="110.25" y="357.96" width="5.86" height="7.07" fill="#c7c6cb"/>
<rect x="110.25" y="365.53" width="5.86" height="7.07" fill="#c7c6cb"/>
<rect x="110.25" y="373.10" width="5.86" height="7.07" fill="#c7c6cb"/>
<rect x="110.25" y="380.67" width="5.86" height="7.07" fill="#c7c6cb"/>
<rect x="110.25" y="388.24" width="5.86" height="7.07" fill="#c7c6cb"/>
<rect x="110.25" y="395.81" width="5.86" height="7.07" fill="#c7c6cb"/>
<rect x="116.58" y="70.30" width="5.86" height="7.07" fill="#c7c6cb"/>
<rect x="116.58" y="77.87" width="5.86" height="7.07" fill="#c7c6cb"/>
<rect x="116.58" y="85.44" width="5.86" height="7.07" fill="#c7c6cb"/>
<rect x="116.58" y="93.01" width="5.86" height="7.07" fill="#f2b2aa"/>
<rect x="116.58" y="100.58" width="5.86" height="7.07" fill="#c7c6cb"/>
<rect x="116.58" y="108.15" width="5.86" height="7.07" fill="#c7c6cb"/>
<rect x="116.58" y="115.72" width="5.86" height="7.07" fill="#c7c6cb"/>
<rect x="116.58" y="123.29" width="5.86" height="7.07" fill="#c7c6cb"/>
<rect x="116.58" y="130.86" width="5.86" height="7.07" fill="#c7c6cb"/>
<rect x="116.58" y="138.43" width="5.86" height="7.07" fill="#c7c6cb"/>
<rect x="116.58" y="146.00" width="5.86" height="7.07" fill="#c7c6cb"/>
<rect x="116.58" y="153.57" width="5.86" height="7.07" fill="#c7c6cb"/>
<rect x="116.58" y="161.14" width="5.86" height="7.07" fill="#c7c6cb"/>
<rect x="116.58" y="168.71" width="5.86" height="7.07" fill="#c7c6cb"/>
<rect x="116.58" y="176.28" width="5.86" height="7.07" fill="#c7c6cb"/>
<rect x="116.58" y="183.85" width="5.86" height="7.07" fill="#c7c6cb"/>
<rect x="116.58" y="191.42" width="5.86" height="7.07" fill="#c7c6cb"/>
<rect x="116.58" y="198.99" width="5.86" height="7.07" fill="#c7c6cb"/>
<rect x="116.58" y="206.56" width="5.86" height="7.07" fill="#c7c6cb"/>
<rect x="116.58" y="214.13" width="5.86" height="7.07" fill="#c7c6cb"/>
<rect x="116.58" y="221.70" width="5.86" height="7.07" fill="#c7c6cb"/>
<rect x="116.58" y="229.27" width="5.86" height="7.07" fill="#c7c6cb"/>
<rect x="116.58" y="236.84" width="5.86" height="7.07" fill="#c7c6cb"/>
<rect x="116.58" y="244.41" width="5.86" height="7.07" fill="#c7c6cb"/>
<rect x="116.58" y="251.98" width="5.86" height="7.07" fill="#c7c6cb"/>
<rect x="116.58" y="259.55" width="5.86" height="7.07" fill="#c7c6cb"/>
<rect x="116.58" y="267.12" width="5.86" height="7.07" fill="#c7c6cb"/>
<rect x="116.58" y="274.69" width="5.86" height="7.07" fill="#c7c6cb"/>
<rect x="116.58" y="282.26" width="5.86" height="7.07" fill="#c7c6cb"/>
<rect x="116.58" y="289.83" width="5.86" height="7.07" fill="#c7c6cb"/>
<rect x="116.58" y="297.40" width="5.86" height="7.07" fill="#c7c6cb"/>
<rect x="116.58" y="304.97" width="5.86" height="7.07" fill="#c7c6cb"/>
<rect x="116.58" y="312.54" width="5.86" height="7.07" fill="#c7c6cb"/>
<rect x="116.58" y="320.11" width="5.86" height="7.07" fill="#c7c6cb"/>
<rect x="116.58" y="327.68" width="5.86" height="7.07" fill="#c7c6cb"/>
<rect x="116.58" y="335.25" width="5.86" height="7.07" fill="#c7c6cb"/>
<rect x="116.58" y="342.82" width="5.86" height="7.07" fill="#c7c6cb"/>
<rect x="116.58" y="350.39" width="5.86" height="7.07" fill="#c7c6cb"/>
<rect x="116.58" y="357.96" width="5.86" height="7.07" fill="#c7c6cb"/>
<rect x="116.58" y="365.53" width="5.86" height="7.07" fill="#c7c6cb"/>
<rect x="116.58" y="373.10" width="5.86" height="7.07" fill="#c7c6cb"/>
<rect x="116.58" y="380.67" width="5.86" height="7.07" fill="#c7c6cb"/>
<rect x="116.58" y="388.24" width="5.86" height="7.07" fill="#c7c6cb"/>
<rect x="116.58" y="395.81" width="5.86" height="7.07" fill="#c7c6cb"/>
<rect x="122.92" y="70.30" width="5.86" height="7.07" fill="#c7c6cb"/>
<rect x="122.92" y="77.87" width="5.86" height="7.07" fill="#c7c6cb"/>
<rect x="122.92" y="85.44" width="5.86" height="7.07" fill="#c7c6cb"/>
<rect x="122.92" y="93.01" width="5.86" height="7.07" fill="#c7c6cb"/>
<rect x="122.92" y="100.58" width="5.86" height="7.07" fill="#f2b2aa"/>
<rect x="122.92" y="108.15" width="5.86" height="7.07" fill="#c7c6cb"/>
<rect x="122.92" y="115.72" width="5.86" height="7.07" fill="#c7c6cb"/>
<rect x="122.92" y="123.29" width="5.86" height="7.07" fill="#c7c6cb"/>
<rect x="122.92" y="130.86" width="5.86" height="7.07" fill="#c7c6cb"/>
<rect x="122.92" y="138.43" width="5.86" height="7.07" fill="#c7c6cb"/>
<rect x="122.92" y="146.00" width="5.86" height="7.07" fill="#c7c6cb"/>
<rect x="122.92" y="153.57" width="5.86" height="7.07" fill="#c7c6cb"/>
<rect x="122.92" y="161.14" width="5.86" height="7.07" fill="#c7c6cb"/>
<rect x="122.92" y="168.71" width="5.86" height="7.07" fill="#c7c6cb"/>
<rect x="122.92" y="176.28" width="5.86" height="7.07" fill="#c7c6cb"/>
<rect x="122.92" y="183.85" width="5.86" height="7.07" fill="#c7c6cb"/>
<rect x="122.92" y="191.42" width="5.86" height="7.07" fill="#c7c6cb"/>
<rect x="122.92" y="198.99" width="5.86" height="7.07" fill="#c7c6cb"/>
<rect x="122.92" y="206.56" width="5.86" height="7.07" fill="#c7c6cb"/>
<rect x="122.92" y="214.13" width="5.86" height="7.07" fill="#c7c6cb"/>
<rect x="122.92" y="221.70" width="5.86" height="7.07" fill="#c7c6cb"/>
<rect x="122.92" y="229.27" width="5.86" height="7.07" fill="#c7c6cb"/>
<rect x="122.92" y="236.84" width="5.86" height="7.07" fill="#c7c6cb"/>
<rect x="122.92" y="244.41" width="5.86" height="7.07" fill="#c7c6cb"/>
<rect x="122.92" y="251.98" width="5.86" height="7.07" fill="#c7c6cb"/>
<rect x="122.92" y="259.55" width="5.86" height="7.07" fill="#c7c6cb"/>
<rect x="122.92" y="267.12" width="5.86" height="7.07" fill="#c7c6cb"/>
<rect x="122.92" y="274.69" width="5.86" height="7.07" fill="#c7c6cb"/>
<rect x="122.92" y="282.26" width="5.86" height="7.07" fill="#c7c6cb"/>
<rect x="122.92" y="289.83" width="5.86" height="7.07" fill="#c7c6cb"/>
<rect x="122.92" y="297.40" width="5.86" height="7.07" fill="#c7c6cb"/>
<rect x="122.92" y="304.97" width="5.86" height="7.07" fill="#c7c6cb"/>
<rect x="122.92" y="312.54" width="5.86" height="7.07" fill="#c7c6cb"/>
<rect x="122.92" y="320.11" width="5.86" height="7.07" fill="#c7c6cb"/>
<rect x="122.92" y="327.68" width="5.86" height="7.07" fill="#c7c6cb"/>
<rect x="122.92" y="335.25" width="5.86" height="7.07" fill="#c7c6cb"/>
<rect x="122.92" y="342.82" width="5.86" height="7.07" fill="#c7c6cb"/>
<rect x="122.92" y="350.39" width="5.86" height="7.07" fill="#c7c6cb"/>
<rect x="122.92" y="357.96" width="5.86" height="7.07" fill="#c7c6cb"/>
<rect x="122.92" y="365.53" width="5.86" height="7.07" fill="#c7c6cb"/>
<rect x="122.92" y="373.10" width="5.86" height="7.07" fill="#c7c6cb"/>
<rect x="122.92" y="380.67" width="5.86" height="7.07" fill="#c7c6cb"/>
<rect x="122.92" y="388.24" width="5.86" height="7.07" fill="#c7c6cb"/>
<rect x="122.92" y="395.81" width="5.86" height="7.07" fill="#c7c6cb"/>
<rect x="129.25" y="70.30" width="5.86" height="7.07" fill="#c7c6cb"/>
<rect x="129.25" y="77.87" width="5.86" height="7.07" fill="#c7c6cb"/>
<rect x="129.25" y="85.44" width="5.86" height="7.07" fill="#c7c6cb"/>
<rect x="129.25" y="93.01" width="5.86" height="7.07" fill="#c7c6cb"/>
<rect x="129.25" y="100.58" width="5.86" height="7.07" fill="#c7c6cb"/>
<rect x="129.25" y="108.15" width="5.86" height="7.07" fill="#f2b2aa"/>
<rect x="129.25" y="115.72" width="5.86" height="7.07" fill="#c7c6cb"/>
<rect x="129.25" y="123.29" width="5.86" height="7.07" fill="#c7c6cb"/>
<rect x="129.25" y="130.86" width="5.86" height="7.07" fill="#c7c6cb"/>
<rect x="129.25" y="138.43" width="5.86" height="7.07" fill="#c7c6cb"/>
<rect x="129.25" y="146.00" width="5.86" height="7.07" fill="#c7c6cb"/>
<rect x="129.25" y="153.57" width="5.86" height="7.07" fill="#c7c6cb"/>
<rect x="129.25" y="161.14" width="5.86" height="7.07" fill="#c7c6cb"/>
<rect x="129.25" y="168.71" width="5.86" height="7.07" fill="#c7c6cb"/>
<rect x="129.25" y="176.28" width="5.86" height="7.07" fill="#c7c6cb"/>
<rect x="129.25" y="183.85" width="5.86" height="7.07" fill="#c7c6cb"/>
<rect x="129.25" y="191.42" width="5.86" height="7.07" fill="#c7c6cb"/>
<rect x="129.25" y="198.99" width="5.86" height="7.07" fill="#c7c6cb"/>
<rect x="129.25" y="206.56" width="5.86" height="7.07" fill="#c7c6cb"/>
<rect x="129.25" y="214.13" width="5.86" height="7.07" fill="#c7c6cb"/>
<rect x="129.25" y="221.70" width="5.86" height="7.07" fill="#c7c6cb"/>
<rect x="129.25" y="229.27" width="5.86" height="7.07" fill="#c7c6cb"/>
<rect x="129.25" y="236.84" width="5.86" height="7.07" fill="#c7c6cb"/>
<rect x="129.25" y="244.41" width="5.86" height="7.07" fill="#c7c6cb"/>
<rect x="129.25" y="251.98" width="5.86" height="7.07" fill="#c7c6cb"/>
<rect x="129.25" y="259.55" width="5.86" height="7.07" fill="#c7c6cb"/>
<rect x="129.25" y="267.12" width="5.86" height="7.07" fill="#c7c6cb"/>
<rect x="129.25" y="274.69" width="5.86" height="7.07" fill="#c7c6cb"/>
<rect x="129.25" y="282.26" width="5.86" height="7.07" fill="#c7c6cb"/>
<rect x="129.25" y="289.83" width="5.86" height="7.07" fill="#c7c6cb"/>
<rect x="129.25" y="297.40" width="5.86" height="7.07" fill="#c7c6cb"/>
<rect x="129.25" y="304.97" width="5.86" height="7.07" fill="#c7c6cb"/>
<rect x="129.25" y="312.54" width="5.86" height="7.07" fill="#c7c6cb"/>
<rect x="129.25" y="320.11" width="5.86" height="7.07" fill="#c7c6cb"/>
<rect x="129.25" y="327.68" width="5.86" height="7.07" fill="#c7c6cb"/>
<rect x="129.25" y="335.25" width="5.86" height="7.07" fill="#c7c6cb"/>
<rect x="129.25" y="342.82" width="5.86" height="7.07" fill="#c7c6cb"/>
<rect x="129.25" y="350.39" width="5.86" height="7.07" fill="#c7c6cb"/>
<rect x="129.25" y="357.96" width="5.86" height="7.07" fill="#c7c6cb"/>
<rect x="129.25" y="365.53" width="5.86" height="7.07" fill="#c7c6cb"/>
<rect x="129.25" y="373.10" width="5.86" height="7.07" fill="#c7c6cb"/>
<rect x="129.25" y="380.67" width="5.86" height="7.07" fill="#c7c6cb"/>
<rect x="129.25" y="388.24" width="5.86" height="7.07" fill="#c7c6cb"/>
<rect x="129.25" y="395.81" width="5.86" height="7.07" fill="#c7c6cb"/>
<rect x="135.59" y="70.30" width="5.86" height="7.07" fill="#c7c6cb"/>
<rect x="135.59" y="77.87" width="5.86" height="7.07" fill="#c7c6cb"/>
<rect x="135.59" y="85.44" width="5.86" height="7.07" fill="#c7c6cb"/>
<rect x="135.59" y="93.01" width="5.86" height="7.07" fill="#c7c6cb"/>
<rect x="135.59" y="100.58" width="5.86" height="7.07" fill="#c7c6cb"/>
<rect x="135.59" y="108.15" width="5.86" height="7.07" fill="#c7c6cb"/>
<rect x="135.59" y="115.72" width="5.86" height="7.07" fill="#f2b2aa"/>
<rect x="135.59" y="123.29" width="5.86" height="7.07" fill="#c7c6cb"/>
<rect x="135.59" y="130.86" width="5.86" height="7.07" fill="#c7c6cb"/>
<rect x="135.59" y="138.43" width="5.86" height="7.07" fill="#c7c6cb"/>
<rect x="135.59" y="146.00" width="5.86" height="7.07" fill="#c7c6cb"/>
<rect x="135.59" y="153.57" width="5.86" height="7.07" fill="#c7c6cb"/>
<rect x="135.59" y="161.14" width="5.86" height="7.07" fill="#c7c6cb"/>
<rect x="135.59" y="168.71" width="5.86" height="7.07" fill="#c7c6cb"/>
<rect x="135.59" y="176.28" width="5.86" height="7.07" fill="#c7c6cb"/>
<rect x="135.59" y="183.85" width="5.86" height="7.07" fill="#c7c6cb"/>
<rect x="135.59" y="191.42" width="5.86" height="7.07" fill="#c7c6cb"/>
<rect x="135.59" y="198.99" width="5.86" height="7.07" fill="#c7c6cb"/>
<rect x="135.59" y="206.56" width="5.86" height="7.07" fill="#c7c6cb"/>
<rect x="135.59" y="214.13" width="5.86" height="7.07" fill="#c7c6cb"/>
<rect x="135.59" y="221.70" width="5.86" height="7.07" fill="#c7c6cb"/>
<rect x="135.59" y="229.27" width="5.86" height="7.07" fill="#c7c6cb"/>
<rect x="135.59" y="236.84" width="5.86" height="7.07" fill="#c7c6cb"/>
<rect x="135.59" y="244.41" width="5.86" height="7.07" fill="#c7c6cb"/>
<rect x="135.59" y="251.98" width="5.86" height="7.07" fill="#c7c6cb"/>
<rect x="135.59" y="259.55" width="5.86" height="7.07" fill="#c7c6cb"/>
<rect x="135.59" y="267.12" width="5.86" height="7.07" fill="#c7c6cb"/>
<rect x="135.59" y="274.69" width="5.86" height="7.07" fill="#c7c6cb"/>
<rect x="135.59" y="282.26" width="5.86" height="7.07" fill="#c7c6cb"/>
<rect x="135.59" y="289.83" width="5.86" height="7.07" fill="#c7c6cb"/>
<rect x="135.59" y="297.40" width="5.86" height="7.07" fill="#c7c6cb"/>
<rect x="135.59" y="304.97" width="5.86" height="7.07" fill="#c7c6cb"/>
<rect x="135.59" y="312.54" width="5.86" height="7.07" fill="#c7c6cb"/>
<rect x="135.59" y="320.11" width="5.86" height="7.07" fill="#c7c6cb"/>
<rect x="135.59" y="327.68" width="5.86" height="7.07" fill="#c7c6cb"/>
<rect x="135.59" y="335.25" width="5.86" height="7.07" fill="#c7c6cb"/>
<rect x="135.59" y="342.82" width="5.86" height="7.07" fill="#c7c6cb"/>
<rect x="135.59" y="350.39" width="5.86" height="7.07" fill="#c7c6cb"/>
<rect x="135.59" y="357.96" width="5.86" height="7.07" fill="#c7c6cb"/>
<rect x="135.59" y="365.53" width="5.86" height="7.07" fill="#c7c6cb"/>
<rect x="135.59" y="373.10" width="5.86" height="7.07" fill="#c7c6cb"/>
<rect x="135.59" y="380.67" width="5.86" height="7.07" fill="#c7c6cb"/>
<rect x="135.59" y="388.24" width="5.86" height="7.07" fill="#c7c6cb"/>
<rect x="135.59" y="395.81" width="5.86" height="7.07" fill="#c7c6cb"/>
<rect x="141.92" y="70.30" width="5.86" height="7.07" fill="#c7c6cb"/>
<rect x="141.92" y="77.87" width="5.86" height="7.07" fill="#c7c6cb"/>
<rect x="141.92" y="85.44" width="5.86" height="7.07" fill="#c7c6cb"/>
<rect x="141.92" y="93.01" width="5.86" height="7.07" fill="#c7c6cb"/>
<rect x="141.92" y="100.58" width="5.86" height="7.07" fill="#c7c6cb"/>
<rect x="141.92" y="108.15" width="5.86" height="7.07" fill="#c7c6cb"/>
<rect x="141.92" y="115.72" width="5.86" height="7.07" fill="#c7c6cb"/>
<rect x="141.92" y="123.29" width="5.86" height="7.07" fill="#f2b2aa"/>
<rect x="141.92" y="130.86" width="5.86" height="7.07" fill="#c7c6cb"/>
<rect x="141.92" y="138.43" width="5.86" height="7.07" fill="#c7c6cb"/>
<rect x="141.92" y="146.00" width="5.86" height="7.07" fill="#c7c6cb"/>
<rect x="141.92" y="153.57" width="5.86" height="7.07" fill="#c7c6cb"/>
<rect x="141.92" y="161.14" width="5.86" height="7.07" fill="#c7c6cb"/>
<rect x="141.92" y="168.71" width="5.86" height="7.07" fill="#c7c6cb"/>
<rect x="141.92" y="176.28" width="5.86" height="7.07" fill="#c7c6cb"/>
<rect x="141.92" y="183.85" width="5.86" height="7.07" fill="#c7c6cb"/>
<rect x="141.92" y="191.42" width="5.86" height="7.07" fill="#c7c6cb"/>
<rect x="141.92" y="198.99" width="5.86" height="7.07" fill="#c7c6cb"/>
<rect x="141.92" y="206.56" width="5.86" height="7.07" fill="#c7c6cb"/>
<rect x="141.92" y="214.13" width="5.86" height="7.07" fill="#c7c6cb"/>
<rect x="141.92" y="221.70" width="5.86" height="7.07" fill="#c7c6cb"/>
<rect x="141.92" y="229.27" width="5.86" height="7.07" fill="#c7c6cb"/>
<rect x="141.92" y="236.84" width="5.86" height="7.07" fill="#c7c6cb"/>
<rect x="141.92" y="244.41" width="5.86" height="7.07" fill="#c7c6cb"/>
<rect x="141.92" y="251.98" width="5.86" height="7.07" fill="#c7c6cb"/>
<rect x="141.92" y="259.55" width="5.86" height="7.07" fill="#c7c6cb"/>
<rect x="141.92" y="267.12" width="5.86" height="7.07" fill="#c7c6cb"/>
<rect x="141.92" y="274.69" width="5.86" height="7.07" fill="#c7c6cb"/>
<rect x="141.92" y="282.26" width="5.86" height="7.07" fill="#c7c6cb"/>
<rect x="141.92" y="289.83" width="5.86" height="7.07" fill="#c7c6cb"/>
<rect x="141.92" y="297.40" width="5.86" height="7.07" fill="#c7c6cb"/>
<rect x="141.92" y="304.97" width="5.86" height="7.07" fill="#c7c6cb"/>
<rect x="141.92" y="312.54" width="5.86" height="7.07" fill="#c7c6cb"/>
<rect x="141.92" y="320.11" width="5.86" height="7.07" fill="#c7c6cb"/>
<rect x="141.92" y="327.68" width="5.86" height="7.07" fill="#c7c6cb"/>
<rect x="141.92" y="335.25" width="5.86" height="7.07" fill="#c7c6cb"/>
<rect x="141.92" y="342.82" width="5.86" height="7.07" fill="#c7c6cb"/>
<rect x="141.92" y="350.39" width="5.86" height="7.07" fill="#c7c6cb"/>
<rect x="141.92" y="357.96" width="5.86" height="7.07" fill="#c7c6cb"/>
<rect x="141.92" y="365.53" width="5.86" height="7.07" fill="#c7c6cb"/>
<rect x="141.92" y="373.10" width="5.86" height="7.07" fill="#c7c6cb"/>
<rect x="141.92" y="380.67" width="5.86" height="7.07" fill="#c7c6cb"/>
<rect x="141.92" y="388.24" width="5.86" height="7.07" fill="#c7c6cb"/>
<rect x="141.92" y="395.81" width="5.86" height="7.07" fill="#c7c6cb"/>
<rect x="148.25" y="70.30" width="5.86" height="7.07" fill="#c7c6cb"/>
<rect x="148.25" y="77.87" width="5.86" height="7.07" fill="#c7c6cb"/>
<rect x="148.25" y="85.44" width="5.86" height="7.07" fill="#c7c6cb"/>
<rect x="148.25" y="93.01" width="5.86" height="7.07" fill="#c7c6cb"/>
<rect x="148.25" y="100.58" width="5.86" height="7.07" fill="#c7c6cb"/>
<rect x="148.25" y="108.15" width="5.86" height="7.07" fill="#c7c6cb"/>
<rect x="148.25" y="115.72" width="5.86" height="7.07" fill="#c7c6cb"/>
<rect x="148.25" y="123.29" width="5.86" height="7.07" fill="#c7c6cb"/>
<rect x="148.25" y="130.86" width="5.86" height="7.07" fill="#f2b2aa"/>
<rect x="148.25" y="138.43" width="5.86" height="7.07" fill="#c7c6cb"/>
<rect x="148.25" y="146.00" width="5.86" height="7.07" fill="#c7c6cb"/>
<rect x="148.25" y="153.57" width="5.86" height="7.07" fill="#c7c6cb"/>
<rect x="148.25" y="161.14" width="5.86" height="7.07" fill="#c7c6cb"/>
<rect x="148.25" y="168.71" width="5.86" height="7.07" fill="#c7c6cb"/>
<rect x="148.25" y="176.28" width="5.86" height="7.07" fill="#c7c6cb"/>
<rect x="148.25" y="183.85" width="5.86" height="7.07" fill="#c7c6cb"/>
<rect x="148.25" y="191.42" width="5.86" height="7.07" fill="#f2b2aa"/>
<rect x="148.25" y="198.99" width="5.86" height="7.07" fill="#c7c6cb"/>
<rect x="148.25" y="206.56" width="5.86" height="7.07" fill="#c7c6cb"/>
<rect x="148.25" y="214.13" width="5.86" height="7.07" fill="#c7c6cb"/>
<rect x="148.25" y="221.70" width="5.86" height="7.07" fill="#c7c6cb"/>
<rect x="148.25" y="229.27" width="5.86" height="7.07" fill="#c7c6cb"/>
<rect x="148.25" y="236.84" width="5.86" height="7.07" fill="#c7c6cb"/>
<rect x="148.25" y="244.41" width="5.86" height="7.07" fill="#c7c6cb"/>
<rect x="148.25" y="251.98" width="5.86" height="7.07" fill="#c7c6cb"/>
<rect x="148.25" y="259.55" width="5.86" height="7.07" fill="#c7c6cb"/>
<rect x="148.25" y="267.12" width="5.86" height="7.07" fill="#c7c6cb"/>
<rect x="148.25" y="274.69" width="5.86" height="7.07" fill="#c7c6cb"/>
<rect x="148.25" y="282.26" width="5.86" height="7.07" fill="#c7c6cb"/>
<rect x="148.25" y="289.83" width="5.86" height="7.07" fill="#c7c6cb"/>
<rect x="148.25" y="297.40" width="5.86" height="7.07" fill="#c7c6cb"/>
<rect x="148.25" y="304.97" width="5.86" height="7.07" fill="#c7c6cb"/>
<rect x="148.25" y="312.54" width="5.86" height="7.07" fill="#c7c6cb"/>
<rect x="148.25" y="320.11" width="5.86" height="7.07" fill="#c7c6cb"/>
<rect x="148.25" y="327.68" width="5.86" height="7.07" fill="#c7c6cb"/>
<rect x="148.25" y="335.25" width="5.86" height="7.07" fill="#c7c6cb"/>
<rect x="148.25" y="342.82" width="5.86" height="7.07" fill="#c7c6cb"/>
<rect x="148.25" y="350.39" width="5.86" height="7.07" fill="#c7c6cb"/>
<rect x="148.25" y="357.96" width="5.86" height="7.07" fill="#c7c6cb"/>
<rect x="148.25" y="365.53" width="5.86" height="7.07" fill="#c7c6cb"/>
<rect x="148.25" y="373.10" width="5.86" height="7.07" fill="#c7c6cb"/>
<rect x="148.25" y="380.67" width="5.86" height="7.07" fill="#c7c6cb"/>
<rect x="148.25" y="388.24" width="5.86" height="7.07" fill="#c7c6cb"/>
<rect x="148.25" y="395.81" width="5.86" height="7.07" fill="#c7c6cb"/>
<rect x="154.59" y="70.30" width="5.86" height="7.07" fill="#c7c6cb"/>
<rect x="154.59" y="77.87" width="5.86" height="7.07" fill="#c7c6cb"/>
<rect x="154.59" y="85.44" width="5.86" height="7.07" fill="#c7c6cb"/>
<rect x="154.59" y="93.01" width="5.86" height="7.07" fill="#c7c6cb"/>
<rect x="154.59" y="100.58" width="5.86" height="7.07" fill="#c7c6cb"/>
<rect x="154.59" y="108.15" width="5.86" height="7.07" fill="#c7c6cb"/>
<rect x="154.59" y="115.72" width="5.86" height="7.07" fill="#c7c6cb"/>
<rect x="154.59" y="123.29" width="5.86" height="7.07" fill="#c7c6cb"/>
<rect x="154.59" y="130.86" width="5.86" height="7.07" fill="#c7c6cb"/>
<rect x="154.59" y="138.43" width="5.86" height="7.07" fill="#f2b2aa"/>
<rect x="154.59" y="146.00" width="5.86" height="7.07" fill="#c7c6cb"/>
<rect x="154.59" y="153.57" width="5.86" height="7.07" fill="#c7c6cb"/>
<rect x="154.59" y="161.14" width="5.86" height="7.07" fill="#c7c6cb"/>
<rect x="154.59" y="168.71" width="5.86" height="7.07" fill="#c7c6cb"/>
<rect x="154.59" y="176.28" width="5.86" height="7.07" fill="#c7c6cb"/>
<rect x="154.59" y="183.85" width="5.86" height="7.07" fill="#c7c6cb"/>
<rect x="154.59" y="191.42" width="5.86" height="7.07" fill="#c7c6cb"/>
<rect x="154.59" y="198.99" width="5.86" height="7.07" fill="#c7c6cb"/>
<rect x="154.59" y="206.56" width="5.86" height="7.07" fill="#c7c6cb"/>
<rect x="154.59" y="214.13" width="5.86" height="7.07" fill="#c7c6cb"/>
<rect x="154.59" y="221.70" width="5.86" height="7.07" fill="#c7c6cb"/>
<rect x="154.59" y="229.27" width="5.86" height="7.07" fill="#c7c6cb"/>
<rect x="154.59" y="236.84" width="5.86" height="7.07" fill="#c7c6cb"/>
<rect x="154.59" y="244.41" width="5.86" height="7.07" fill="#c7c6cb"/>
<rect x="154.59" y="251.98" width="5.86" height="7.07" fill="#c7c6cb"/>
<rect x="154.59" y="259.55" width="5.86" height="7.07" fill="#c7c6cb"/>
<rect x="154.59" y="267.12" width="5.86" height="7.07" fill="#c7c6cb"/>
<rect x="154.59" y="274.69" width="5.86" height="7.07" fill="#c7c6cb"/>
<rect x="154.59" y="282.26" width="5.86" height="7.07" fill="#c7c6cb"/>
<rect x="154.59" y="289.83" width="5.86" height="7.07" fill="#c7c6cb"/>
<rect x="154.59" y="297.40" width="5.86" height="7.07" fill="#c7c6cb"/>
<rect x="154.59" y="304.97" width="5.86" height="7.07" fill="#c7c6cb"/>
<rect x="154.59" y="312.54" width="5.86" height="7.07" fill="#c7c6cb"/>
<rect x="154.59" y="320.11" width="5.86" height="7.07" fill="#c7c6cb"/>
<rect x="154.59" y="327.68" width="5.86" height="7.07" fill="#c7c6cb"/>
<rect x="154.59" y="335.25" width="5.86" height="7.07" fill="#c7c6cb"/>
<rect x="154.59" y="342.82" width="5.86" height="7.07" fill="#c7c6cb"/>
<rect x="154.59" y="350.39" width="5.86" height="7.07" fill="#c7c6cb"/>
<rect x="154.59" y="357.96" width="5.86" height="7.07" fill="#c7c6cb"/>
<rect x="154.59" y="365.53" width="5.86" height="7.07" fill="#c7c6cb"/>
<rect x="154.59" y="373.10" width="5.86" height="7.07" fill="#c7c6cb"/>
<rect x="154.59" y="380.67" width="5.86" height="7.07" fill="#c7c6cb"/>
<rect x="154.59" y="388.24" width="5.86" height="7.07" fill="#c7c6cb"/>
<rect x="154.59" y="395.81" width="5.86" height="7.07" fill="#c7c6cb"/>
<rect x="160.93" y="70.30" width="5.86" height="7.07" fill="#c7c6cb"/>
<rect x="160.93" y="77.87" width="5.86" height="7.07" fill="#c7c6cb"/>
<rect x="160.93" y="85.44" width="5.86" height="7.07" fill="#c7c6cb"/>
<rect x="160.93" y="93.01" width="5.86" height="7.07" fill="#c7c6cb"/>
<rect x="160.93" y="100.58" width="5.86" height="7.07" fill="#c7c6cb"/>
<rect x="160.93" y="108.15" width="5.86" height="7.07" fill="#c7c6cb"/>
<rect x="160.93" y="115.72" width="5.86" height="7.07" fill="#c7c6cb"/>
<rect x="160.93" y="123.29" width="5.86" height="7.07" fill="#c7c6cb"/>
<rect x="160.93" y="130.86" width="5.86" height="7.07" fill="#c7c6cb"/>
<rect x="160.93" y="138.43" width="5.86" height="7.07" fill="#c7c6cb"/>
<rect x="160.93" y="146.00" width="5.86" height="7.07" fill="#f2b2aa"/>
<rect x="160.93" y="153.57" width="5.86" height="7.07" fill="#c7c6cb"/>
<rect x="160.93" y="161.14" width="5.86" height="7.07" fill="#c7c6cb"/>
<rect x="160.93" y="168.71" width="5.86" height="7.07" fill="#c7c6cb"/>
<rect x="160.93" y="176.28" width="5.86" height="7.07" fill="#c7c6cb"/>
<rect x="160.93" y="183.85" width="5.86" height="7.07" fill="#c7c6cb"/>
<rect x="160.93" y="191.42" width="5.86" height="7.07" fill="#c7c6cb"/>
<rect x="160.93" y="198.99" width="5.86" height="7.07" fill="#c7c6cb"/>
<rect x="160.93" y="206.56" width="5.86" height="7.07" fill="#c7c6cb"/>
<rect x="160.93" y="214.13" width="5.86" height="7.07" fill="#c7c6cb"/>
<rect x="160.93" y="221.70" width="5.86" height="7.07" fill="#c7c6cb"/>
<rect x="160.93" y="229.27" width="5.86" height="7.07" fill="#c7c6cb"/>
<rect x="160.93" y="236.84" width="5.86" height="7.07" fill="#c7c6cb"/>
<rect x="160.93" y="244.41" width="5.86" height="7.07" fill="#c7c6cb"/>
<rect x="160.93" y="251.98" width="5.86" height="7.07" fill="#c7c6cb"/>
<rect x="160.93" y="259.55" width="5.86" height="7.07" fill="#c7c6cb"/>
<rect x="160.93" y="267.12" width="5.86" height="7.07" fill="#c7c6cb"/>
<rect x="160.93" y="274.69" width="5.86" height="7.07" fill="#c7c6cb"/>
<rect x="160.93" y="282.26" width="5.86" height="7.07" fill="#c7c6cb"/>
<rect x="160.93" y="289.83" width="5.86" height="7.07" fill="#c7c6cb"/>
<rect x="160.93" y="297.40" width="5.86" height="7.07" fill="#c7c6cb"/>
<rect x="160.93" y="304.97" width="5.86" height="7.07" fill="#c7c6cb"/>
<rect x="160.93" y="312.54" width="5.86" height="7.07" fill="#c7c6cb"/>
<rect x="160.93" y="320.11" width="5.86" height="7.07" fill="#c7c6cb"/>
<rect x="160.93" y="327.68" width="5.86" height="7.07" fill="#c7c6cb"/>
<rect x="160.93" y="335.25" width="5.86" height="7.07" fill="#c7c6cb"/>
<rect x="160.93" y="342.82" width="5.86" height="7.07" fill="#c7c6cb"/>
<rect x="160.93" y="350.39" width="5.86" height="7.07" fill="#c7c6cb"/>
<rect x="160.93" y="357.96" width="5.86" height="7.07" fill="#c7c6cb"/>
<rect x="160.93" y="365.53" width="5.86" height="7.07" fill="#c7c6cb"/>
<rect x="160.93" y="373.10" width="5.86" height="7.07" fill="#c7c6cb"/>
<rect x="160.93" y="380.67" width="5.86" height="7.07" fill="#c7c6cb"/>
<rect x="160.93" y="388.24" width="5.86" height="7.07" fill="#c7c6cb"/>
<rect x="160.93" y="395.81" width="5.86" height="7.07" fill="#c7c6cb"/>
<rect x="167.26" y="70.30" width="5.86" height="7.07" fill="#c7c6cb"/>
<rect x="167.26" y="77.87" width="5.86" height="7.07" fill="#c7c6cb"/>
<rect x="167.26" y="85.44" width="5.86" height="7.07" fill="#c7c6cb"/>
<rect x="167.26" y="93.01" width="5.86" height="7.07" fill="#c7c6cb"/>
<rect x="167.26" y="100.58" width="5.86" height="7.07" fill="#c7c6cb"/>
<rect x="167.26" y="108.15" width="5.86" height="7.07" fill="#c7c6cb"/>
<rect x="167.26" y="115.72" width="5.86" height="7.07" fill="#c7c6cb"/>
<rect x="167.26" y="123.29" width="5.86" height="7.07" fill="#c7c6cb"/>
<rect x="167.26" y="130.86" width="5.86" height="7.07" fill="#c7c6cb"/>
<rect x="167.26" y="138.43" width="5.86" height="7.07" fill="#c7c6cb"/>
<rect x="167.26" y="146.00" width="5.86" height="7.07" fill="#c7c6cb"/>
<rect x="167.26" y="153.57" width="5.86" height="7.07" fill="#f2b2aa"/>
<rect x="167.26" y="161.14" width="5.86" height="7.07" fill="#c7c6cb"/>
<rect x="167.26" y="168.71" width="5.86" height="7.07" fill="#c7c6cb"/>
<rect x="167.26" y="176.28" width="5.86" height="7.07" fill="#c7c6cb"/>
<rect x="167.26" y="183.85" width="5.86" height="7.07" fill="#c7c6cb"/>
<rect x="167.26" y="191.42" width="5.86" height="7.07" fill="#c7c6cb"/>
<rect x="167.26" y="198.99" width="5.86" height="7.07" fill="#c7c6cb"/>
<rect x="167.26" y="206.56" width="5.86" height="7.07" fill="#c7c6cb"/>
<rect x="167.26" y="214.13" width="5.86" height="7.07" fill="#c7c6cb"/>
<rect x="167.26" y="221.70" width="5.86" height="7.07" fill="#c7c6cb"/>
<rect x="167.26" y="229.27" width="5.86" height="7.07" fill="#c7c6cb"/>
<rect x="167.26" y="236.84" width="5.86" height="7.07" fill="#c7c6cb"/>
<rect x="167.26" y="244.41" width="5.86" height="7.07" fill="#c7c6cb"/>
<rect x="167.26" y="251.98" width="5.86" height="7.07" fill="#c7c6cb"/>
<rect x="167.26" y="259.55" width="5.86" height="7.07" fill="#c7c6cb"/>
<rect x="167.26" y="267.12" width="5.86" height="7.07" fill="#c7c6cb"/>
<rect x="167.26" y="274.69" width="5.86" height="7.07" fill="#c7c6cb"/>
<rect x="167.26" y="282.26" width="5.86" height="7.07" fill="#c7c6cb"/>
<rect x="167.26" y="289.83" width="5.86" height="7.07" fill="#c7c6cb"/>
<rect x="167.26" y="297.40" width="5.86" height="7.07" fill="#c7c6cb"/>
<rect x="167.26" y="304.97" width="5.86" height="7.07" fill="#c7c6cb"/>
<rect x="167.26" y="312.54" width="5.86" height="7.07" fill="#c7c6cb"/>
<rect x="167.26" y="320.11" width="5.86" height="7.07" fill="#c7c6cb"/>
<rect x="167.26" y="327.68" width="5.86" height="7.07" fill="#c7c6cb"/>
<rect x="167.26" y="335.25" width="5.86" height="7.07" fill="#c7c6cb"/>
<rect x="167.26" y="342.82" width="5.86" height="7.07" fill="#c7c6cb"/>
<rect x="167.26" y="350.39" width="5.86" height="7.07" fill="#c7c6cb"/>
<rect x="167.26" y="357.96" width="5.86" height="7.07" fill="#c7c6cb"/>
<rect x="167.26" y="365.53" width="5.86" height="7.07" fill="#c7c6cb"/>
<rect x="167.26" y="373.10" width="5.86" height="7.07" fill="#c7c6cb"/>
<rect x="167.26" y="380.67" width="5.86" height="7.07" fill="#c7c6cb"/>
<rect x="167.26" y="388.24" width="5.86" height="7.07" fill="#c7c6cb"/>
<rect x="167.26" y="395.81" width="5.86" height="7.07" fill="#c7c6cb"/>
<rect x="173.59" y="70.30" width="5.86" height="7.07" fill="#c7c6cb"/>
<rect x="173.59" y="77.87" width="5.86" height="7.07" fill="#c7c6cb"/>
<rect x="173.59" y="85.44" width="5.86" height="7.07" fill="#c7c6cb"/>
<rect x="173.59" y="93.01" width="5.86" height="7.07" fill="#c7c6cb"/>
<rect x="173.59" y="100.58" width="5.86" height="7.07" fill="#c7c6cb"/>
<rect x="173.59" y="108.15" width="5.86" height="7.07" fill="#c7c6cb"/>
<rect x="173.59" y="115.72" width="5.86" height="7.07" fill="#c7c6cb"/>
<rect x="173.59" y="123.29" width="5.86" height="7.07" fill="#c7c6cb"/>
<rect x="173.59" y="130.86" width="5.86" height="7.07" fill="#c7c6cb"/>
<rect x="173.59" y="138.43" width="5.86" height="7.07" fill="#c7c6cb"/>
<rect x="173.59" y="146.00" width="5.86" height="7.07" fill="#c7c6cb"/>
<rect x="173.59" y="153.57" width="5.86" height="7.07" fill="#c7c6cb"/>
<rect x="173.59" y="161.14" width="5.86" height="7.07" fill="#f2b2aa"/>
<rect x="173.59" y="168.71" width="5.86" height="7.07" fill="#c7c6cb"/>
<rect x="173.59" y="176.28" width="5.86" height="7.07" fill="#c7c6cb"/>
<rect x="173.59" y="183.85" width="5.86" height="7.07" fill="#c7c6cb"/>
<rect x="173.59" y="191.42" width="5.86" height="7.07" fill="#c7c6cb"/>
<rect x="173.59" y="198.99" width="5.86" height="7.07" fill="#c7c6cb"/>
<rect x="173.59" y="206.56" width="5.86" height="7.07" fill="#c7c6cb"/>
<rect x="173.59" y="214.13" width="5.86" height="7.07" fill="#c7c6cb"/>
<rect x="173.59" y="221.70" width="5.86" height="7.07" fill="#c7c6cb"/>
<rect x="173.59" y="229.27" width="5.86" height="7.07" fill="#c7c6cb"/>
<rect x="173.59" y="236.84" width="5.86" height="7.07" fill="#c7c6cb"/>
<rect x="173.59" y="244.41" width="5.86" height="7.07" fill="#c7c6cb"/>
<rect x="173.59" y="251.98" width="5.86" height="7.07" fill="#c7c6cb"/>
<rect x="173.59" y="259.55" width="5.86" height="7.07" fill="#c7c6cb"/>
<rect x="173.59" y="267.12" width="5.86" height="7.07" fill="#c7c6cb"/>
<rect x="173.59" y="274.69" width="5.86" height="7.07" fill="#c7c6cb"/>
<rect x="173.59" y="282.26" width="5.86" height="7.07" fill="#c7c6cb"/>
<rect x="173.59" y="289.83" width="5.86" height="7.07" fill="#c7c6cb"/>
<rect x="173.59" y="297.40" width="5.86" height="7.07" fill="#c7c6cb"/>
<rect x="173.59" y="304.97" width="5.86" height="7.07" fill="#c7c6cb"/>
<rect x="173.59" y="312.54" width="5.86" height="7.07" fill="#c7c6cb"/>
<rect x="173.59" y="320.11" width="5.86" height="7.07" fill="#c7c6cb"/>
<rect x="173.59" y="327.68" width="5.86" height="7.07" fill="#c7c6cb"/>
<rect x="173.59" y="335.25" width="5.86" height="7.07" fill="#c7c6cb"/>
<rect x="173.59" y="342.82" width="5.86" height="7.07" fill="#c7c6cb"/>
<rect x="173.59" y="350.39" width="5.86" height="7.07" fill="#c7c6cb"/>
<rect x="173.59" y="357.96" width="5.86" height="7.07" fill="#c7c6cb"/>
<rect x="173.59" y="365.53" width="5.86" height="7.07" fill="#c7c6cb"/>
<rect x="173.59" y="373.10" width="5.86" height="7.07" fill="#c7c6cb"/>
<rect x="173.59" y="380.67" width="5.86" height="7.07" fill="#c7c6cb"/>
<rect x="173.59" y="388.24" width="5.86" height="7.07" fill="#c7c6cb"/>
<rect x="173.59" y="395.81" width="5.86" height="7.07" fill="#c7c6cb"/>
<rect x="179.93" y="70.30" width="5.86" height="7.07" fill="#c7c6cb"/>
<rect x="179.93" y="77.87" width="5.86" height="7.07" fill="#c7c6cb"/>
<rect x="179.93" y="85.44" width="5.86" height="7.07" fill="#c7c6cb"/>
<rect x="179.93" y="93.01" width="5.86" height="7.07" fill="#c7c6cb"/>
<rect x="179.93" y="100.58" width="5.86" height="7.07" fill="#c7c6cb"/>
<rect x="179.93" y="108.15" width="5.86" height="7.07" fill="#c7c6cb"/>
<rect x="179.93" y="115.72" width="5.86" height="7.07" fill="#c7c6cb"/>
<rect x="179.93" y="123.29" width="5.86" height="7.07" fill="#c7c6cb"/>
<rect x="179.93" y="130.86" width="5.86" height="7.07" fill="#c7c6cb"/>
<rect x="179.93" y="138.43" width="5.86" height="7.07" fill="#c7c6cb"/>
<rect x="179.93" y="146.00" width="5.86" height="7.07" fill="#c7c6cb"/>
<rect x="179.93" y="153.57" width="5.86" height="7.07" fill="#c7c6cb"/>
<rect x="179.93" y="161.14" width="5.86" height="7.07" fill="#c7c6cb"/>
<rect x="179.93" y="168.71" width="5.86" height="7.07" fill="#f2b2aa"/>
<rect x="179.93" y="176.28" width="5.86" height="7.07" fill="#c7c6cb"/>
<rect x="179.93" y="183.85" width="5.86" height="7.07" fill="#c7c6cb"/>
<rect x="179.93" y="191.42" width="5.86" height="7.07" fill="#c7c6cb"/>
<rect x="179.93" y="198.99" width="5.86" height="7.07" fill="#c7c6cb"/>
<rect x="179.93" y="206.56" width="5.86" height="7.07" fill="#c7c6cb"/>
<rect x="179.93" y="214.13" width="5.86" height="7.07" fill="#c7c6cb"/>
<rect x="179.93" y="221.70" width="5.86" height="7.07" fill="#c7c6cb"/>
<rect x="179.93" y="229.27" width="5.86" height="7.07" fill="#c7c6cb"/>
<rect x="179.93" y="236.84" width="5.86" height="7.07" fill="#c7c6cb"/>
<rect x="179.93" y="244.41" width="5.86" height="7.07" fill="#c7c6cb"/>
<rect x="179.93" y="251.98" width="5.86" height="7.07" fill="#c7c6cb"/>
<rect x="179.93" y="259.55" width="5.86" height="7.07" fill="#c7c6cb"/>
<rect x="179.93" y="267.12" width="5.86" height="7.07" fill="#c7c6cb"/>
<rect x="179.93" y="274.69" width="5.86" height="7.07" fill="#c7c6cb"/>
<rect x="179.93" y="282.26" width="5.86" height="7.07" fill="#c7c6cb"/>
<rect x="179.93" y="289.83" width="5.86" height="7.07" fill="#c7c6cb"/>
<rect x="179.93" y="297.40" width="5.86" height="7.07" fill="#c7c6cb"/>
<rect x="179.93" y="304.97" width="5.86" height="7.07" fill="#c7c6cb"/>
<rect x="179.93" y="312.54" width="5.86" height="7.07" fill="#c7c6cb"/>
<rect x="179.93" y="320.11" width="5.86" height="7.07" fill="#c7c6cb"/>
<rect x="179.93" y="327.68" width="5.86" height="7.07" fill="#c7c6cb"/>
<rect x="179.93" y="335.25" width="5.86" height="7.07" fill="#c7c6cb"/>
<rect x="179.93" y="342.82" width="5.86" height="7.07" fill="#c7c6cb"/>
<rect x="179.93" y="350.39" width="5.86" height="7.07" fill="#c7c6cb"/>
<rect x="179.93" y="357.96" width="5.86" height="7.07" fill="#c7c6cb"/>
<rect x="179.93" y="365.53" width="5.86" height="7.07" fill="#c7c6cb"/>
<rect x="179.93" y="373.10" width="5.86" height="7.07" fill="#c7c6cb"/>
<rect x="179.93" y="380.67" width="5.86" height="7.07" fill="#c7c6cb"/>
<rect x="179.93" y="388.24" width="5.86" height="7.07" fill="#c7c6cb"/>
<rect x="179.93" y="395.81" width="5.86" height="7.07" fill="#c7c6cb"/>
<rect x="186.26" y="70.30" width="5.86" height="7.07" fill="#c7c6cb"/>
<rect x="186.26" y="77.87" width="5.86" height="7.07" fill="#c7c6cb"/>
<rect x="186.26" y="85.44" width="5.86" height="7.07" fill="#c7c6cb"/>
<rect x="186.26" y="93.01" width="5.86" height="7.07" fill="#c7c6cb"/>
<rect x="186.26" y="100.58" width="5.86" height="7.07" fill="#c7c6cb"/>
<rect x="186.26" y="108.15" width="5.86" height="7.07" fill="#c7c6cb"/>
<rect x="186.26" y="115.72" width="5.86" height="7.07" fill="#c7c6cb"/>
<rect x="186.26" y="123.29" width="5.86" height="7.07" fill="#c7c6cb"/>
<rect x="186.26" y="130.86" width="5.86" height="7.07" fill="#c7c6cb"/>
<rect x="186.26" y="138.43" width="5.86" height="7.07" fill="#c7c6cb"/>
<rect x="186.26" y="146.00" width="5.86" height="7.07" fill="#c7c6cb"/>
<rect x="186.26" y="153.57" width="5.86" height="7.07" fill="#c7c6cb"/>
<rect x="186.26" y="161.14" width="5.86" height="7.07" fill="#c7c6cb"/>
<rect x="186.26" y="168.71" width="5.86" height="7.07" fill="#c7c6cb"/>
<rect x="186.26" y="176.28" width="5.86" height="7.07" fill="#f2b2aa"/>
<rect x="186.26" y="183.85" width="5.86" height="7.07" fill="#c7c6cb"/>
<rect x="186.26" y="191.42" width="5.86" height="7.07" fill="#c7c6cb"/>
<rect x="186.26" y="198.99" width="5.86" height="7.07" fill="#c7c6cb"/>
<rect x="186.26" y="206.56" width="5.86" height="7.07" fill="#c7c6cb"/>
<rect x="186.26" y="214.13" width="5.86" height="7.07" fill="#c7c6cb"/>
<rect x="186.26" y="221.70" width="5.86" height="7.07" fill="#c7c6cb"/>
<rect x="186.26" y="229.27" width="5.86" height="7.07" fill="#c7c6cb"/>
<rect x="186.26" y="236.84" width="5.86" height="7.07" fill="#c7c6cb"/>
<rect x="186.26" y="244.41" width="5.86" height="7.07" fill="#c7c6cb"/>
<rect x="186.26" y="251.98" width="5.86" height="7.07" fill="#c7c6cb"/>
<rect x="186.26" y="259.55" width="5.86" height="7.07" fill="#c7c6cb"/>
<rect x="186.26" y="267.12" width="5.86" height="7.07" fill="#c7c6cb"/>
<rect x="186.26" y="274.69" width="5.86" height="7.07" fill="#c7c6cb"/>
<rect x="186.26" y="282.26" width="5.86" height="7.07" fill="#c7c6cb"/>
<rect x="186.26" y="289.83" width="5.86" height="7.07" fill="#c7c6cb"/>
<rect x="186.26" y="297.40" width="5.86" height="7.07" fill="#c7c6cb"/>
<rect x="186.26" y="304.97" width="5.86" height="7.07" fill="#c7c6cb"/>
<rect x="186.26" y="312.54" width="5.86" height="7.07" fill="#c7c6cb"/>
<rect x="186.26" y="320.11" width="5.86" height="7.07" fill="#c7c6cb"/>
<rect x="186.26" y="327.68" width="5.86" height="7.07" fill="#c7c6cb"/>
<rect x="186.26" y="335.25" width="5.86" height="7.07" fill="#c7c6cb"/>
<rect x="186.26" y="342.82" width="5.86" height="7.07" fill="#c7c6cb"/>
<rect x="186.26" y="350.39" width="5.86" height="7.07" fill="#c7c6cb"/>
<rect x="186.26" y="357.96" width="5.86" height="7.07" fill="#c7c6cb"/>
<rect x="186.26" y="365.53" width="5.86" height="7.07" fill="#c7c6cb"/>
<rect x="186.26" y="373.10" width="5.86" height="7.07" fill="#c7c6cb"/>
<rect x="186.26" y="380.67" width="5.86" height="7.07" fill="#c7c6cb"/>
<rect x="186.26" y="388.24" width="5.86" height="7.07" fill="#c7c6cb"/>
<rect x="186.26" y="395.81" width="5.86" height="7.07" fill="#c7c6cb"/>
<rect x="192.60" y="70.30" width="5.86" height="7.07" fill="#c7c6cb"/>
<rect x="192.60" y="77.87" width="5.86" height="7.07" fill="#c7c6cb"/>
<rect x="192.60" y="85.44" width="5.86" height="7.07" fill="#c7c6cb"/>
<rect x="192.60" y="93.01" width="5.86" height="7.07" fill="#c7c6cb"/>
<rect x="192.60" y="100.58" width="5.86" height="7.07" fill="#c7c6cb"/>
<rect x="192.60" y="108.15" width="5.86" height="7.07" fill="#c7c6cb"/>
<rect x="192.60" y="115.72" width="5.86" height="7.07" fill="#c7c6cb"/>
<rect x="192.60" y="123.29" width="5.86" height="7.07" fill="#c7c6cb"/>
<rect x="192.60" y="130.86" width="5.86" height="7.07" fill="#c7c6cb"/>
<rect x="192.60" y="138.43" width="5.86" height="7.07" fill="#c7c6cb"/>
<rect x="192.60" y="146.00" width="5.86" height="7.07" fill="#c7c6cb"/>
<rect x="192.60" y="153.57" width="5.86" height="7.07" fill="#c7c6cb"/>
<rect x="192.60" y="161.14" width="5.86" height="7.07" fill="#c7c6cb"/>
<rect x="192.60" y="168.71" width="5.86" height="7.07" fill="#c7c6cb"/>
<rect x="192.60" y="176.28" width="5.86" height="7.07" fill="#c7c6cb"/>
<rect x="192.60" y="183.85" width="5.86" height="7.07" fill="#f2b2aa"/>
<rect x="192.60" y="191.42" width="5.86" height="7.07" fill="#c7c6cb"/>
<rect x="192.60" y="198.99" width="5.86" height="7.07" fill="#c7c6cb"/>
<rect x="192.60" y="206.56" width="5.86" height="7.07" fill="#c7c6cb"/>
<rect x="192.60" y="214.13" width="5.86" height="7.07" fill="#c7c6cb"/>
<rect x="192.60" y="221.70" width="5.86" height="7.07" fill="#c7c6cb"/>
<rect x="192.60" y="229.27" width="5.86" height="7.07" fill="#c7c6cb"/>
<rect x="192.60" y="236.84" width="5.86" height="7.07" fill="#c7c6cb"/>
<rect x="192.60" y="244.41" width="5.86" height="7.07" fill="#c7c6cb"/>
<rect x="192.60" y="251.98" width="5.86" height="7.07" fill="#c7c6cb"/>
<rect x="192.60" y="259.55" width="5.86" height="7.07" fill="#c7c6cb"/>
<rect x="192.60" y="267.12" width="5.86" height="7.07" fill="#c7c6cb"/>
<rect x="192.60" y="274.69" width="5.86" height="7.07" fill="#c7c6cb"/>
<rect x="192.60" y="282.26" width="5.86" height="7.07" fill="#c7c6cb"/>
<rect x="192.60" y="289.83" width="5.86" height="7.07" fill="#c7c6cb"/>
<rect x="192.60" y="297.40" width="5.86" height="7.07" fill="#c7c6cb"/>
<rect x="192.60" y="304.97" width="5.86" height="7.07" fill="#c7c6cb"/>
<rect x="192.60" y="312.54" width="5.86" height="7.07" fill="#c7c6cb"/>
<rect x="192.60" y="320.11" width="5.86" height="7.07" fill="#c7c6cb"/>
<rect x="192.60" y="327.68" width="5.86" height="7.07" fill="#c7c6cb"/>
<rect x="192.60" y="335.25" width="5.86" height="7.07" fill="#c7c6cb"/>
<rect x="192.60" y="342.82" width="5.86" height="7.07" fill="#c7c6cb"/>
<rect x="192.60" y="350.39" width="5.86" height="7.07" fill="#c7c6cb"/>
<rect x="192.60" y="357.96" width="5.86" height="7.07" fill="#c7c6cb"/>
<rect x="192.60" y="365.53" width="5.86" height="7.07" fill="#c7c6cb"/>
<rect x="192.60" y="373.10" width="5.86" height="7.07" fill="#c7c6cb"/>
<rect x="192.60" y="380.67" width="5.86" height="7.07" fill="#c7c6cb"/>
<rect x="192.60" y="388.24" width="5.86" height="7.07" fill="#c7c6cb"/>
<rect x="192.60" y="395.81" width="5.86" height="7.07" fill="#c7c6cb"/>
<rect x="198.94" y="70.30" width="5.86" height="7.07" fill="#c7c6cb"/>
<rect x="198.94" y="77.87" width="5.86" height="7.07" fill="#c7c6cb"/>
<rect x="198.94" y="85.44" width="5.86" height="7.07" fill="#c7c6cb"/>
<rect x="198.94" y="93.01" width="5.86" height="7.07" fill="#c7c6cb"/>
<rect x="198.94" y="100.58" width="5.86" height="7.07" fill="#c7c6cb"/>
<rect x="198.94" y="108.15" width="5.86" height="7.07" fill="#c7c6cb"/>
<rect x="198.94" y="115.72" width="5.86" height="7.07" fill="#c7c6cb"/>
<rect x="198.94" y="123.29" width="5.86" height="7.07" fill="#c7c6cb"/>
<rect x="198.94" y="130.86" width="5.86" height="7.07" fill="#c7c6cb"/>
<rect x="198.94" y="138.43" width="5.86" height="7.07" fill="#c7c6cb"/>
<rect x="198.94" y="146.00" width="5.86" height="7.07" fill="#c7c6cb"/>
<rect x="198.94" y="153.57" width="5.86" height="7.07" fill="#c7c6cb"/>
<rect x="198.94" y="161.14" width="5.86" height="7.07" fill="#c7c6cb"/>
<rect x="198.94" y="168.71" width="5.86" height="7.07" fill="#c7c6cb"/>
<rect x="198.94" y="176.28" width="5.86" height="7.07" fill="#c7c6cb"/>
<rect x="198.94" y="183.85" width="5.86" height="7.07" fill="#c7c6cb"/>
<rect x="198.94" y="191.42" width="5.86" height="7.07" fill="#c7c6cb"/>
<rect x="198.94" y="198.99" width="5.86" height="7.07" fill="#c7c6cb"/>
<rect x="198.94" y="206.56" width="5.86" height="7.07" fill="#ef8b82"/>
<rect x="198.94" y="214.13" width="5.86" height="7.07" fill="#c7c6cb"/>
<rect x="198.94" y="221.70" width="5.86" height="7.07" fill="#c7c6cb"/>
<rect x="198.94" y="229.27" width="5.86" height="7.07" fill="#c7c6cb"/>
<rect x="198.94" y="236.84" width="5.86" height="7.07" fill="#c7c6cb"/>
<rect x="198.94" y="244.41" width="5.86" height="7.07" fill="#c7c6cb"/>
<rect x="198.94" y="251.98" width="5.86" height="7.07" fill="#c7c6cb"/>
<rect x="198.94" y="259.55" width="5.86" height="7.07" fill="#c7c6cb"/>
<rect x="198.94" y="267.12" width="5.86" height="7.07" fill="#c7c6cb"/>
<rect x="198.94" y="274.69" width="5.86" height="7.07" fill="#c7c6cb"/>
<rect x="198.94" y="282.26" width="5.86" height="7.07" fill="#c7c6cb"/>
<rect x="198.94" y="289.83" width="5.86" height="7.07" fill="#c7c6cb"/>
<rect x="198.94" y="297.40" width="5.86" height="7.07" fill="#c7c6cb"/>
<rect x="198.94" y="304.97" width="5.86" height="7.07" fill="#c7c6cb"/>
<rect x="198.94" y="312.54" width="5.86" height="7.07" fill="#c7c6cb"/>
<rect x="198.94" y="320.11" width="5.86" height="7.07" fill="#c7c6cb"/>
<rect x="198.94" y="327.68" width="5.86" height="7.07" fill="#c7c6cb"/>
<rect x="198.94" y="335.25" width="5.86" height="7.07" fill="#c7c6cb"/>
<rect x="198.94" y="342.82" width="5.86" height="7.07" fill="#c7c6cb"/>
<rect x="198.94" y="350.39" width="5.86" height="7.07" fill="#c7c6cb"/>
<rect x="198.94" y="357.96" width="5.86" height="7.07" fill="#c7c6cb"/>
<rect x="198.94" y="365.53" width="5.86" height="7.07" fill="#c7c6cb"/>
<rect x="198.94" y="373.10" width="5.86" height="7.07" fill="#c7c6cb"/>
<rect x="198.94" y="380.67" width="5.86" height="7.07" fill="#c7c6cb"/>
<rect x="198.94" y="388.24" width="5.86" height="7.07" fill="#c7c6cb"/>
<rect x="198.94" y="395.81" width="5.86" height="7.07" fill="#c7c6cb"/>
<rect x="205.27" y="70.30" width="5.86" height="7.07" fill="#c7c6cb"/>
<rect x="205.27" y="77.87" width="5.86" height="7.07" fill="#c7c6cb"/>
<rect x="205.27" y="85.44" width="5.86" height="7.07" fill="#c7c6cb"/>
<rect x="205.27" y="93.01" width="5.86" height="7.07" fill="#c7c6cb"/>
<rect x="205.27" y="100.58" width="5.86" height="7.07" fill="#c7c6cb"/>
<rect x="205.27" y="108.15" width="5.86" height="7.07" fill="#c7c6cb"/>
<rect x="205.27" y="115.72" width="5.86" height="7.07" fill="#c7c6cb"/>
<rect x="205.27" y="123.29" width="5.86" height="7.07" fill="#c7c6cb"/>
<rect x="205.27" y="130.86" width="5.86" height="7.07" fill="#c7c6cb"/>
<rect x="205.27" y="138.43" width="5.86" height="7.07" fill="#c7c6cb"/>
<rect x="205.27" y="146.00" width="5.86" height="7.07" fill="#c7c6cb"/>
<rect x="205.27" y="153.57" width="5.86" height="7.07" fill="#c7c6cb"/>
<rect x="205.27" y="161.14" width="5.86" height="7.07" fill="#c7c6cb"/>
<rect x="205.27" y="168.71" width="5.86" height="7.07" fill="#c7c6cb"/>
<rect x="205.27" y="176.28" width="5.86" height="7.07" fill="#c7c6cb"/>
<rect x="205.27" y="183.85" width="5.86" height="7.07" fill="#c7c6cb"/>
<rect x="205.27" y="191.42" width="5.86" height="7.07" fill="#c7c6cb"/>
<rect x="205.27" y="198.99" width="5.86" height="7.07" fill="#c7c6cb"/>
<rect x="205.27" y="206.56" width="5.86" height="7.07" fill="#c7c6cb"/>
<rect x="205.27" y="214.13" width="5.86" height="7.07" fill="#ef8b82"/>
<rect x="205.27" y="221.70" width="5.86" height="7.07" fill="#c7c6cb"/>
<rect x="205.27" y="229.27" width="5.86" height="7.07" fill="#c7c6cb"/>
<rect x="205.27" y="236.84" width="5.86" height="7.07" fill="#c7c6cb"/>
<rect x="205.27" y="244.41" width="5.86" height="7.07" fill="#c7c6cb"/>
<rect x="205.27" y="251.98" width="5.86" height="7.07" fill="#c7c6cb"/>
<rect x="205.27" y="259.55" width="5.86" height="7.07" fill="#c7c6cb"/>
<rect x="205.27" y="267.12" width="5.86" height="7.07" fill="#c7c6cb"/>
<rect x="205.27" y="274.69" width="5.86" height="7.07" fill="#c7c6cb"/>
<rect x="205.27" y="282.26" width="5.86" height="7.07" fill="#c7c6cb"/>
<rect x="205.27" y="289.83" width="5.86" height="7.07" fill="#c7c6cb"/>
<rect x="205.27" y="297.40" width="5.86" height="7.07" fill="#c7c6cb"/>
<rect x="205.27" y="304.97" width="5.86" height="7.07" fill="#c7c6cb"/>
<rect x="205.27" y="312.54" width="5.86" height="7.07" fill="#c7c6cb"/>
<rect x="205.27" y="320.11" width="5.86" height="7.07" fill="#c7c6cb"/>
<rect x="205.27" y="327.68" width="5.86" height="7.07" fill="#c7c6cb"/>
<rect x="205.27" y="335.25" width="5.86" height="7.07" fill="#c7c6cb"/>
<rect x="205.27" y="342.82" width="5.86" height="7.07" fill="#c7c6cb"/>
<rect x="205.27" y="350.39" width="5.86" height="7.07" fill="#c7c6cb"/>
<rect x="205.27" y="357.96" width="5.86" height="7.07" fill="#c7c6cb"/>
<rect x="205.27" y="365.53" width="5.86" height="7.07" fill="#c7c6cb"/>
<rect x="205.27" y="373.10" width="5.86" height="7.07" fill="#c7c6cb"/>
<rect x="205.27" y="380.67" width="5.86" height="7.07" fill="#c7c6cb"/>
<rect x="205.27" y="388.24" width="5.86" height="7.07" fill="#c7c6cb"/>
<rect x="205.27" y="395.81" width="5.86" height="7.07" fill="#c7c6cb"/>
<rect x="211.61" y="70.30" width="5.86" height="7.07" fill="#c7c6cb"/>
<rect x="211.61" y="77.87" width="5.86" height="7.07" fill="#c7c6cb"/>
<rect x="211.61" y="85.44" width="5.86" height="7.07" fill="#c7c6cb"/>
<rect x="211.61" y="93.01" width="5.86" height="7.07" fill="#c7c6cb"/>
<rect x="211.61" y="100.58" width="5.86" height="7.07" fill="#c7c6cb"/>
<rect x="211.61" y="108.15" width="5.86" height="7.07" fill="#c7c6cb"/>
<rect x="211.61" y="115.72" width="5.86" height="7.07" fill="#c7c6cb"/>
<rect x="211.61" y="123.29" width="5.86" height="7.07" fill="#c7c6cb"/>
<rect x="211.61" y="130.86" width="5.86" height="7.07" fill="#c7c6cb"/>
<rect x="211.61" y="138.43" width="5.86" height="7.07" fill="#c7c6cb"/>
<rect x="211.61" y="146.00" width="5.86" height="7.07" fill="#c7c6cb"/>
<rect x="211.61" y="153.57" width="5.86" height="7.07" fill="#c7c6cb"/>
<rect x="211.61" y="161.14" width="5.86" height="7.07" fill="#c7c6cb"/>
<rect x="211.61" y="168.71" width="5.86" height="7.07" fill="#c7c6cb"/>
<rect x="211.61" y="176.28" width="5.86" height="7.07" fill="#c7c6cb"/>
<rect x="211.61" y="183.85" width="5.86" height="7.07" fill="#c7c6cb"/>
<rect x="211.61" y="191.42" width="5.86" height="7.07" fill="#c7c6cb"/>
<rect x="211.61" y="198.99" width="5.86" height="7.07" fill="#c7c6cb"/>
<rect x="211.61" y="206.56" width="5.86" height="7.07" fill="#c7c6cb"/>
<rect x="211.61" y="214.13" width="5.86" height="7.07" fill="#c7c6cb"/>
<rect x="211.61" y="221.70" width="5.86" height="7.07" fill="#ef8b82"/>
<rect x="211.61" y="229.27" width="5.86" height="7.07" fill="#c7c6cb"/>
<rect x="211.61" y="236.84" width="5.86" height="7.07" fill="#c7c6cb"/>
<rect x="211.61" y="244.41" width="5.86" height="7.07" fill="#c7c6cb"/>
<rect x="211.61" y="251.98" width="5.86" height="7.07" fill="#c7c6cb"/>
<rect x="211.61" y="259.55" width="5.86" height="7.07" fill="#c7c6cb"/>
<rect x="211.61" y="267.12" width="5.86" height="7.07" fill="#c7c6cb"/>
<rect x="211.61" y="274.69" width="5.86" height="7.07" fill="#c7c6cb"/>
<rect x="211.61" y="282.26" width="5.86" height="7.07" fill="#c7c6cb"/>
<rect x="211.61" y="289.83" width="5.86" height="7.07" fill="#c7c6cb"/>
<rect x="211.61" y="297.40" width="5.86" height="7.07" fill="#c7c6cb"/>
<rect x="211.61" y="304.97" width="5.86" height="7.07" fill="#c7c6cb"/>
<rect x="211.61" y="312.54" width="5.86" height="7.07" fill="#c7c6cb"/>
<rect x="211.61" y="320.11" width="5.86" height="7.07" fill="#c7c6cb"/>
<rect x="211.61" y="327.68" width="5.86" height="7.07" fill="#c7c6cb"/>
<rect x="211.61" y="335.25" width="5.86" height="7.07" fill="#c7c6cb"/>
<rect x="211.61" y="342.82" width="5.86" height="7.07" fill="#c7c6cb"/>
<rect x="211.61" y="350.39" width="5.86" height="7.07" fill="#c7c6cb"/>
<rect x="211.61" y="357.96" width="5.86" height="7.07" fill="#c7c6cb"/>
<rect x="211.61" y="365.53" width="5.86" height="7.07" fill="#c7c6cb"/>
<rect x="211.61" y="373.10" width="5.86" height="7.07" fill="#c7c6cb"/>
<rect x="211.61" y="380.67" width="5.86" height="7.07" fill="#c7c6cb"/>
<rect x="211.61" y="388.24" width="5.86" height="7.07" fill="#c7c6cb"/>
<rect x="211.61" y="395.81" width="5.86" height="7.07" fill="#c7c6cb"/>
<rect x="217.94" y="70.30" width="5.86" height="7.07" fill="#c7c6cb"/>
<rect x="217.94" y="77.87" width="5.86" height="7.07" fill="#c7c6cb"/>
<rect x="217.94" y="85.44" width="5.86" height="7.07" fill="#c7c6cb"/>
<rect x="217.94" y="93.01" width="5.86" height="7.07" fill="#c7c6cb"/>
<rect x="217.94" y="100.58" width="5.86" height="7.07" fill="#c7c6cb"/>
<rect x="217.94" y="108.15" width="5.86" height="7.07" fill="#c7c6cb"/>
<rect x="217.94" y="115.72" width="5.86" height="7.07" fill="#c7c6cb"/>
<rect x="217.94" y="123.29" width="5.86" height="7.07" fill="#c7c6cb"/>
<rect x="217.94" y="130.86" width="5.86" height="7.07" fill="#c7c6cb"/>
<rect x="217.94" y="138.43" width="5.86" height="7.07" fill="#c7c6cb"/>
<rect x="217.94" y="146.00" width="5.86" height="7.07" fill="#c7c6cb"/>
<rect x="217.94" y="153.57" width="5.86" height="7.07" fill="#c7c6cb"/>
<rect x="217.94" y="161.14" width="5.86" height="7.07" fill="#c7c6cb"/>
<rect x="217.94" y="168.71" width="5.86" height="7.07" fill="#c7c6cb"/>
<rect x="217.94" y="176.28" width="5.86" height="7.07" fill="#c7c6cb"/>
<rect x="217.94" y="183.85" width="5.86" height="7.07" fill="#c7c6cb"/>
<rect x="217.94" y="191.42" width="5.86" height="7.07" fill="#c7c6cb"/>
<rect x="217.94" y="198.99" width="5.86" height="7.07" fill="#c7c6cb"/>
<rect x="217.94" y="206.56" width="5.86" height="7.07" fill="#c7c6cb"/>
<rect x="217.94" y="214.13" width="5.86" height="7.07" fill="#c7c6cb"/>
<rect x="217.94" y="221.70" width="5.86" height="7.07" fill="#c7c6cb"/>
<rect x="217.94" y="229.27" width="5.86" height="7.07" fill="#ef8b82"/>
<rect x="217.94" y="236.84" width="5.86" height="7.07" fill="#c7c6cb"/>
<rect x="217.94" y="244.41" width="5.86" height="7.07" fill="#c7c6cb"/>
<rect x="217.94" y="251.98" width="5.86" height="7.07" fill="#c7c6cb"/>
<rect x="217.94" y="259.55" width="5.86" height="7.07" fill="#c7c6cb"/>
<rect x="217.94" y="267.12" width="5.86" height="7.07" fill="#c7c6cb"/>
<rect x="217.94" y="274.69" width="5.86" height="7.07" fill="#c7c6cb"/>
<rect x="217.94" y="282.26" width="5.86" height="7.07" fill="#c7c6cb"/>
<rect x="217.94" y="289.83" width="5.86" height="7.07" fill="#c7c6cb"/>
<rect x="217.94" y="297.40" width="5.86" height="7.07" fill="#c7c6cb"/>
<rect x="217.94" y="304.97" width="5.86" height="7.07" fill="#c7c6cb"/>
<rect x="217.94" y="312.54" width="5.86" height="7.07" fill="#c7c6cb"/>
<rect x="217.94" y="320.11" width="5.86" height="7.07" fill="#c7c6cb"/>
<rect x="217.94" y="327.68" width="5.86" height="7.07" fill="#c7c6cb"/>
<rect x="217.94" y="335.25" width="5.86" height="7.07" fill="#c7c6cb"/>
<rect x="217.94" y="342.82" width="5.86" height="7.07" fill="#c7c6cb"/>
<rect x="217.94" y="350.39" width="5.86" height="7.07" fill="#c7c6cb"/>
<rect x="217.94" y="357.96" width="5.86" height="7.07" fill="#c7c6cb"/>
<rect x="217.94" y="365.53" width="5.86" height="7.07" fill="#c7c6cb"/>
<rect x="217.94" y="373.10" width="5.86" height="7.07" fill="#c7c6cb"/>
<rect x="217.94" y="380.67" width="5.86" height="7.07" fill="#c7c6cb"/>
<rect x="217.94" y="388.24" width="5.86" height="7.07" fill="#c7c6cb"/>
<rect x="217.94" y="395.81" width="5.86" height="7.07" fill="#c7c6cb"/>
<rect x="224.28" y="70.30" width="5.86" height="7.07" fill="#c7c6cb"/>
<rect x="224.28" y="77.87" width="5.86" height="7.07" fill="#c7c6cb"/>
<rect x="224.28" y="85.44" width="5.86" height="7.07" fill="#c7c6cb"/>
<rect x="224.28" y="93.01" width="5.86" height="7.07" fill="#c7c6cb"/>
<rect x="224.28" y="100.58" width="5.86" height="7.07" fill="#c7c6cb"/>
<rect x="224.28" y="108.15" width="5.86" height="7.07" fill="#c7c6cb"/>
<rect x="224.28" y="115.72" width="5.86" height="7.07" fill="#c7c6cb"/>
<rect x="224.28" y="123.29" width="5.86" height="7.07" fill="#c7c6cb"/>
<rect x="224.28" y="130.86" width="5.86" height="7.07" fill="#c7c6cb"/>
<rect x="224.28" y="138.43" width="5.86" height="7.07" fill="#c7c6cb"/>
<rect x="224.28" y="146.00" width="5.86" height="7.07" fill="#c7c6cb"/>
<rect x="224.28" y="153.57" width="5.86" height="7.07" fill="#c7c6cb"/>
<rect x="224.28" y="161.14" width="5.86" height="7.07" fill="#c7c6cb"/>
<rect x="224.28" y="168.71" width="5.86" height="7.07" fill="#c7c6cb"/>
<rect x="224.28" y="176.28" width="5.86" height="7.07" fill="#c7c6cb"/>
<rect x="224.28" y="183.85" width="5.86" height="7.07" fill="#c7c6cb"/>
<rect x="224.28" y="191.42" width="5.86" height="7.07" fill="#c7c6cb"/>
<rect x="224.28" y="198.99" width="5.86" height="7.07" fill="#c7c6cb"/>
<rect x="224.28" y="206.56" width="5.86" height="7.07" fill="#c7c6cb"/>
<rect x="224.28" y="214.13" width="5.86" height="7.07" fill="#c7c6cb"/>
<rect x="224.28" y="221.70" width="5.86" height="7.07" fill="#c7c6cb"/>
<rect x="224.28" y="229.27" width="5.86" height="7.07" fill="#c7c6cb"/>
<rect x="224.28" y="236.84" width="5.86" height="7.07" fill="#ef8b82"/>
<rect x="224.28" y="244.41" width="5.86" height="7.07" fill="#c7c6cb"/>
<rect x="224.28" y="251.98" width="5.86" height="7.07" fill="#c7c6cb"/>
<rect x="224.28" y="259.55" width="5.86" height="7.07" fill="#c7c6cb"/>
<rect x="224.28" y="267.12" width="5.86" height="7.07" fill="#ef8b82"/>
<rect x="224.28" y="274.69" width="5.86" height="7.07" fill="#c7c6cb"/>
<rect x="224.28" y="282.26" width="5.86" height="7.07" fill="#c7c6cb"/>
<rect x="224.28" y="289.83" width="5.86" height="7.07" fill="#c7c6cb"/>
<rect x="224.28" y="297.40" width="5.86" height="7.07" fill="#c7c6cb"/>
<rect x="224.28" y="304.97" width="5.86" height="7.07" fill="#c7c6cb"/>
<rect x="224.28" y="312.54" width="5.86" height="7.07" fill="#c7c6cb"/>
<rect x="224.28" y="320.11" width="5.86" height="7.07" fill="#c7c6cb"/>
<rect x="224.28" y="327.68" width="5.86" height="7.07" fill="#c7c6cb"/>
<rect x="224.28" y="335.25" width="5.86" height="7.07" fill="#c7c6cb"/>
<rect x="224.28" y="342.82" width="5.86" height="7.07" fill="#c7c6cb"/>
<rect x="224.28" y="350.39" width="5.86" height="7.07" fill="#c7c6cb"/>
<rect x="224.28" y="357.96" width="5.86" height="7.07" fill="#c7c6cb"/>
<rect x="224.28" y="365.53" width="5.86" height="7.07" fill="#c7c6cb"/>
<rect x="224.28" y="373.10" width="5.86" height="7.07" fill="#c7c6cb"/>
<rect x="224.28" y="380.67" width="5.86" height="7.07" fill="#c7c6cb"/>
<rect x="224.28" y="388.24" width="5.86" height="7.07" fill="#c7c6cb"/>
<rect x="224.28" y="395.81" width="5.86" height="7.07" fill="#c7c6cb"/>
<rect x="230.61" y="70.30" width="5.86" height="7.07" fill="#c7c6cb"/>
<rect x="230.61" y="77.87" width="5.86" height="7.07" fill="#c7c6cb"/>
<rect x="230.61" y="85.44" width="5.86" height="7.07" fill="#c7c6cb"/>
<rect x="230.61" y="93.01" width="5.86" height="7.07" fill="#c7c6cb"/>
<rect x="230.61" y="100.58" width="5.86" height="7.07" fill="#c7c6cb"/>
<rect x="230.61" y="108.15" width="5.86" height="7.07" fill="#c7c6cb"/>
<rect x="230.61" y="115.72" width="5.86" height="7.07" fill="#c7c6cb"/>
<rect x="230.61" y="123.29" width="5.86" height="7.07" fill="#c7c6cb"/>
<rect x="230.61" y="130.86" width="5.86" height="7.07" fill="#c7c6cb"/>
<rect x="230.61" y="138.43" width="5.86" height="7.07" fill="#c7c6cb"/>
<rect x="230.61" y="146.00" width="5.86" height="7.07" fill="#c7c6cb"/>
<rect x="230.61" y="153.57" width="5.86" height="7.07" fill="#c7c6cb"/>
<rect x="230.61" y="161.14" width="5.86" height="7.07" fill="#c7c6cb"/>
<rect x="230.61" y="168.71" width="5.86" height="7.07" fill="#c7c6cb"/>
<rect x="230.61" y="176.28" width="5.86" height="7.07" fill="#c7c6cb"/>
<rect x="230.61" y="183.85" width="5.86" height="7.07" fill="#c7c6cb"/>
<rect x="230.61" y="191.42" width="5.86" height="7.07" fill="#c7c6cb"/>
<rect x="230.61" y="198.99" width="5.86" height="7.07" fill="#c7c6cb"/>
<rect x="230.61" y="206.56" width="5.86" height="7.07" fill="#c7c6cb"/>
<rect x="230.61" y="214.13" width="5.86" height="7.07" fill="#c7c6cb"/>
<rect x="230.61" y="221.70" width="5.86" height="7.07" fill="#c7c6cb"/>
<rect x="230.61" y="229.27" width="5.86" height="7.07" fill="#c7c6cb"/>
<rect x="230.61" y="236.84" width="5.86" height="7.07" fill="#c7c6cb"/>
<rect x="230.61" y="244.41" width="5.86" height="7.07" fill="#ef8b82"/>
<rect x="230.61" y="251.98" width="5.86" height="7.07" fill="#c7c6cb"/>
<rect x="230.61" y="259.55" width="5.86" height="7.07" fill="#c7c6cb"/>
<rect x="230.61" y="267.12" width="5.86" height="7.07" fill="#c7c6cb"/>
<rect x="230.61" y="274.69" width="5.86" height="7.07" fill="#c7c6cb"/>
<rect x="230.61" y="282.26" width="5.86" height="7.07" fill="#c7c6cb"/>
<rect x="230.61" y="289.83" width="5.86" height="7.07" fill="#c7c6cb"/>
<rect x="230.61" y="297.40" width="5.86" height="7.07" fill="#c7c6cb"/>
<rect x="230.61" y="304.97" width="5.86" height="7.07" fill="#c7c6cb"/>
<rect x="230.61" y="312.54" width="5.86" height="7.07" fill="#c7c6cb"/>
<rect x="230.61" y="320.11" width="5.86" height="7.07" fill="#c7c6cb"/>
<rect x="230.61" y="327.68" width="5.86" height="7.07" fill="#c7c6cb"/>
<rect x="230.61" y="335.25" width="5.86" height="7.07" fill="#c7c6cb"/>
<rect x="230.61" y="342.82" width="5.86" height="7.07" fill="#c7c6cb"/>
<rect x="230.61" y="350.39" width="5.86" height="7.07" fill="#c7c6cb"/>
<rect x="230.61" y="357.96" width="5.86" height="7.07" fill="#c7c6cb"/>
<rect x="230.61" y="365.53" width="5.86" height="7.07" fill="#c7c6cb"/>
<rect x="230.61" y="373.10" width="5.86" height="7.07" fill="#c7c6cb"/>
<rect x="230.61" y="380.67" width="5.86" height="7.07" fill="#c7c6cb"/>
<rect x="230.61" y="388.24" width="5.86" height="7.07" fill="#c7c6cb"/>
<rect x="230.61" y="395.81" width="5.86" height="7.07" fill="#c7c6cb"/>
<rect x="236.94" y="70.30" width="5.86" height="7.07" fill="#c7c6cb"/>
<rect x="236.94" y="77.87" width="5.86" height="7.07" fill="#c7c6cb"/>
<rect x="236.94" y="85.44" width="5.86" height="7.07" fill="#c7c6cb"/>
<rect x="236.94" y="93.01" width="5.86" height="7.07" fill="#c7c6cb"/>
<rect x="236.94" y="100.58" width="5.86" height="7.07" fill="#c7c6cb"/>
<rect x="236.94" y="108.15" width="5.86" height="7.07" fill="#c7c6cb"/>
<rect x="236.94" y="115.72" width="5.86" height="7.07" fill="#c7c6cb"/>
<rect x="236.94" y="123.29" width="5.86" height="7.07" fill="#c7c6cb"/>
<rect x="236.94" y="130.86" width="5.86" height="7.07" fill="#c7c6cb"/>
<rect x="236.94" y="138.43" width="5.86" height="7.07" fill="#c7c6cb"/>
<rect x="236.94" y="146.00" width="5.86" height="7.07" fill="#c7c6cb"/>
<rect x="236.94" y="153.57" width="5.86" height="7.07" fill="#c7c6cb"/>
<rect x="236.94" y="161.14" width="5.86" height="7.07" fill="#c7c6cb"/>
<rect x="236.94" y="168.71" width="5.86" height="7.07" fill="#c7c6cb"/>
<rect x="236.94" y="176.28" width="5.86" height="7.07" fill="#c7c6cb"/>
<rect x="236.94" y="183.85" width="5.86" height="7.07" fill="#c7c6cb"/>
<rect x="236.94" y="191.42" width="5.86" height="7.07" fill="#c7c6cb"/>
<rect x="236.94" y="198.99" width="5.86" height="7.07" fill="#c7c6cb"/>
<rect x="236.94" y="206.56" width="5.86" height="7.07" fill="#c7c6cb"/>
<rect x="236.94" y="214.13" width="5.86" height="7.07" fill="#c7c6cb"/>
<rect x="236.94" y="221.70" width="5.86" height="7.07" fill="#c7c6cb"/>
<rect x="236.94" y="229.27" width="5.86" height="7.07" fill="#c7c6cb"/>
<rect x="236.94" y="236.84" width="5.86" height="7.07" fill="#c7c6cb"/>
<rect x="236.94" y="244.41" width="5.86" height="7.07" fill="#c7c6cb"/>
<rect x="236.94" y="251.98" width="5.86" height="7.07" fill="#ef8b82"/>
<rect x="236.94" y="259.55" width="5.86" height="7.07" fill="#c7c6cb"/>
<rect x="236.94" y="267.12" width="5.86" height="7.07" fill="#c7c6cb"/>
<rect x="236.94" y="274.69" width="5.86" height="7.07" fill="#c7c6cb"/>
<rect x="236.94" y="282.26" width="5.86" height="7.07" fill="#c7c6cb"/>
<rect x="236.94" y="289.83" width="5.86" height="7.07" fill="#c7c6cb"/>
<rect x="236.94" y="297.40" width="5.86" height="7.07" fill="#c7c6cb"/>
<rect x="236.94" y="304.97" width="5.86" height="7.07" fill="#c7c6cb"/>
<rect x="236.94" y="312.54" width="5.86" height="7.07" fill="#c7c6cb"/>
<rect x="236.94" y="320.11" width="5.86" height="7.07" fill="#c7c6cb"/>
<rect x="236.94" y="327.68" width="5.86" height="7.07" fill="#c7c6cb"/>
<rect x="236.94" y="335.25" width="5.86" height="7.07" fill="#c7c6cb"/>
<rect x="236.94" y="342.82" width="5.86" height="7.07" fill="#c7c6cb"/>
<rect x="236.94" y="350.39" width="5.86" height="7.07" fill="#c7c6cb"/>
<rect x="236.94" y="357.96" width="5.86" height="7.07" fill="#c7c6cb"/>
<rect x="236.94" y="365.53" width="5.86" height="7.07" fill="#c7c6cb"/>
<rect x="236.94" y="373.10" width="5.86" height="7.07" fill="#c7c6cb"/>
<rect x="236.94" y="380.67" width="5.86" height="7.07" fill="#c7c6cb"/>
<rect x="236.94" y="388.24" width="5.86" height="7.07" fill="#c7c6cb"/>
<rect x="236.94" y="395.81" width="5.86" height="7.07" fill="#c7c6cb"/>
<rect x="243.28" y="70.30" width="5.86" height="7.07" fill="#c7c6cb"/>
<rect x="243.28" y="77.87" width="5.86" height="7.07" fill="#c7c6cb"/>
<rect x="243.28" y="85.44" width="5.86" height="7.07" fill="#c7c6cb"/>
<rect x="243.28" y="93.01" width="5.86" height="7.07" fill="#c7c6cb"/>
<rect x="243.28" y="100.58" width="5.86" height="7.07" fill="#c7c6cb"/>
<rect x="243.28" y="108.15" width="5.86" height="7.07" fill="#c7c6cb"/>
<rect x="243.28" y="115.72" width="5.86" height="7.07" fill="#c7c6cb"/>
<rect x="243.28" y="123.29" width="5.86" height="7.07" fill="#c7c6cb"/>
<rect x="243.28" y="130.86" width="5.86" height="7.07" fill="#c7c6cb"/>
<rect x="243.28" y="138.43" width="5.86" height="7.07" fill="#c7c6cb"/>
<rect x="243.28" y="146.00" width="5.86" height="7.07" fill="#c7c6cb"/>
<rect x="243.28" y="153.57" width="5.86" height="7.07" fill="#c7c6cb"/>
<rect x="243.28" y="161.14" width="5.86" height="7.07" fill="#c7c6cb"/>
<rect x="243.28" y="168.71" width="5.86" height="7.07" fill="#c7c6cb"/>
<rect x="243.28" y="176.28" width="5.86" height="7.07" fill="#c7c6cb"/>
<rect x="243.28" y="183.85" width="5.86" height="7.07" fill="#c7c6cb"/>
<rect x="243.28" y="191.42" width="5.86" height="7.07" fill="#c7c6cb"/>
<rect x="243.28" y="198.99" width="5.86" height="7.07" fill="#c7c6cb"/>
<rect x="243.28" y="206.56" width="5.86" height="7.07" fill="#c7c6cb"/>
<rect x="243.28" y="214.13" width="5.86" height="7.07" fill="#c7c6cb"/>
<rect x="243.28" y="221.70" width="5.86" height="7.07" fill="#c7c6cb"/>
<rect x="243.28" y="229.27" width="5.86" height="7.07" fill="#c7c6cb"/>
<rect x="243.28" y="236.84" width="5.86" height="7.07" fill="#c7c6cb"/>
<rect x="243.28" y="244.41" width="5.86" height="7.07" fill="#c7c6cb"/>
<rect x="243.28" y="251.98" width="5.86" height="7.07" fill="#c7c6cb"/>
<rect x="243.28" y="259.55" width="5.86" height="7.07" fill="#ef8b82"/>
<rect x="243.28" y="267.12" width="5.86" height="7.07" fill="#c7c6cb"/>
<rect x="243.28" y="274.69" width="5.86" height="7.07" fill="#c7c6cb"/>
<rect x="243.28" y="282.26" width="5.86" height="7.07" fill="#c7c6cb"/>
<rect x="243.28" y="289.83" width="5.86" height="7.07" fill="#c7c6cb"/>
<rect x="243.28" y="297.40" width="5.86" height="7.07" fill="#c7c6cb"/>
<rect x="243.28" y="304.97" width="5.86" height="7.07" fill="#c7c6cb"/>
<rect x="243.28" y="312.54" width="5.86" height="7.07" fill="#c7c6cb"/>
<rect x="243.28" y="320.11" width="5.86" height="7.07" fill="#c7c6cb"/>
<rect x="243.28" y="327.68" width="5.86" height="7.07" fill="#c7c6cb"/>
<rect x="243.28" y="335.25" width="5.86" height="7.07" fill="#c7c6cb"/>
<rect x="243.28" y="342.82" width="5.86" height="7.07" fill="#c7c6cb"/>
<rect x="243.28" y="350.39" width="5.86" height="7.07" fill="#c7c6cb"/>
<rect x="243.28" y="357.96" width="5.86" height="7.07" fill="#c7c6cb"/>
<rect x="243.28" y="365.53" width="5.86" height="7.07" fill="#c7c6cb"/>
<rect x="243.28" y="373.10" width="5.86" height="7.07" fill="#c7c6cb"/>
<rect x="243.28" y="380.67" width="5.86" height="7.07" fill="#c7c6cb"/>
<rect x="243.28" y="388.24" width="5.86" height="7.07" fill="#c7c6cb"/>
<rect x="243.28" y="395.81" width="5.86" height="7.07" fill="#c7c6cb"/>
<rect x="249.62" y="70.30" width="5.86" height="7.07" fill="#c7c6cb"/>
<rect x="249.62" y="77.87" width="5.86" height="7.07" fill="#c7c6cb"/>
<rect x="249.62" y="85.44" width="5.86" height="7.07" fill="#c7c6cb"/>
<rect x="249.62" y="93.01" width="5.86" height="7.07" fill="#c7c6cb"/>
<rect x="249.62" y="100.58" width="5.86" height="7.07" fill="#c7c6cb"/>
<rect x="249.62" y="108.15" width="5.86" height="7.07" fill="#c7c6cb"/>
<rect x="249.62" y="115.72" width="5.86" height="7.07" fill="#c7c6cb"/>
<rect x="249.62" y="123.29" width="5.86" height="7.07" fill="#c7c6cb"/>
<rect x="249.62" y="130.86" width="5.86" height="7.07" fill="#c7c6cb"/>
<rect x="249.62" y="138.43" width="5.86" height="7.07" fill="#c7c6cb"/>
<rect x="249.62" y="146.00" width="5.86" height="7.07" fill="#c7c6cb"/>
<rect x="249.62" y="153.57" width="5.86" height="7.07" fill="#c7c6cb"/>
<rect x="249.62" y="161.14" width="5.86" height="7.07" fill="#c7c6cb"/>
<rect x="249.62" y="168.71" width="5.86" height="7.07" fill="#c7c6cb"/>
<rect x="249.62" y="176.28" width="5.86" height="7.07" fill="#c7c6cb"/>
<rect x="249.62" y="183.85" width="5.86" height="7.07" fill="#c7c6cb"/>
<rect x="249.62" y="191.42" width="5.86" height="7.07" fill="#c7c6cb"/>
<rect x="249.62" y="198.99" width="5.86" height="7.07" fill="#c7c6cb"/>
<rect x="249.62" y="206.56" width="5.86" height="7.07" fill="#c7c6cb"/>
<rect x="249.62" y="214.13" width="5.86" height="7.07" fill="#c7c6cb"/>
<rect x="249.62" y="221.70" width="5.86" height="7.07" fill="#c7c6cb"/>
<rect x="249.62" y="229.27" width="5.86" height="7.07" fill="#c7c6cb"/>
<rect x="249.62" y="236.84" width="5.86" height="7.07" fill="#c7c6cb"/>
<rect x="249.62" y="244.41" width="5.86" height="7.07" fill="#c7c6cb"/>
<rect x="249.62" y="251.98" width="5.86" height="7.07" fill="#c7c6cb"/>
<rect x="249.62" y="259.55" width="5.86" height="7.07" fill="#c7c6cb"/>
<rect x="249.62" y="267.12" width="5.86" height="7.07" fill="#c7c6cb"/>
<rect x="249.62" y="274.69" width="5.86" height="7.07" fill="#ef8b82"/>
<rect x="249.62" y="282.26" width="5.86" height="7.07" fill="#c7c6cb"/>
<rect x="249.62" y="289.83" width="5.86" height="7.07" fill="#c7c6cb"/>
<rect x="249.62" y="297.40" width="5.86" height="7.07" fill="#c7c6cb"/>
<rect x="249.62" y="304.97" width="5.86" height="7.07" fill="#c7c6cb"/>
<rect x="249.62" y="312.54" width="5.86" height="7.07" fill="#c7c6cb"/>
<rect x="249.62" y="320.11" width="5.86" height="7.07" fill="#c7c6cb"/>
<rect x="249.62" y="327.68" width="5.86" height="7.07" fill="#c7c6cb"/>
<rect x="249.62" y="335.25" width="5.86" height="7.07" fill="#c7c6cb"/>
<rect x="249.62" y="342.82" width="5.86" height="7.07" fill="#c7c6cb"/>
<rect x="249.62" y="350.39" width="5.86" height="7.07" fill="#c7c6cb"/>
<rect x="249.62" y="357.96" width="5.86" height="7.07" fill="#c7c6cb"/>
<rect x="249.62" y="365.53" width="5.86" height="7.07" fill="#c7c6cb"/>
<rect x="249.62" y="373.10" width="5.86" height="7.07" fill="#c7c6cb"/>
<rect x="249.62" y="380.67" width="5.86" height="7.07" fill="#c7c6cb"/>
<rect x="249.62" y="388.24" width="5.86" height="7.07" fill="#c7c6cb"/>
<rect x="249.62" y="395.81" width="5.86" height="7.07" fill="#c7c6cb"/>
<rect x="255.95" y="70.30" width="5.86" height="7.07" fill="#c7c6cb"/>
<rect x="255.95" y="77.87" width="5.86" height="7.07" fill="#c7c6cb"/>
<rect x="255.95" y="85.44" width="5.86" height="7.07" fill="#c7c6cb"/>
<rect x="255.95" y="93.01" width="5.86" height="7.07" fill="#c7c6cb"/>
<rect x="255.95" y="100.58" width="5.86" height="7.07" fill="#c7c6cb"/>
<rect x="255.95" y="108.15" width="5.86" height="7.07" fill="#c7c6cb"/>
<rect x="255.95" y="115.72" width="5.86" height="7.07" fill="#c7c6cb"/>
<rect x="255.95" y="123.29" width="5.86" height="7.07" fill="#c7c6cb"/>
<rect x="255.95" y="130.86" width="5.86" height="7.07" fill="#c7c6cb"/>
<rect x="255.95" y="138.43" width="5.86" height="7.07" fill="#c7c6cb"/>
<rect x="255.95" y="146.00" width="5.86" height="7.07" fill="#c7c6cb"/>
<rect x="255.95" y="153.57" width="5.86" height="7.07" fill="#c7c6cb"/>
<rect x="255.95" y="161.14" width="5.86" height="7.07" fill="#c7c6cb"/>
<rect x="255.95" y="168.71" width="5.86" height="7.07" fill="#c7c6cb"/>
<rect x="255.95" y="176.28" width="5.86" height="7.07" fill="#c7c6cb"/>
<rect x="255.95" y="183.85" width="5.86" height="7.07" fill="#c7c6cb"/>
<rect x="255.95" y="191.42" width="5.86" height="7.07" fill="#c7c6cb"/>
<rect x="255.95" y="198.99" width="5.86" height="7.07" fill="#c7c6cb"/>
<rect x="255.95" y="206.56" width="5.86" height="7.07" fill="#c7c6cb"/>
<rect x="255.95" y="214.13" width="5.86" height="7.07" fill="#c7c6cb"/>
<rect x="255.95" y="221.70" width="5.86" height="7.07" fill="#c7c6cb"/>
<rect x="255.95" y="229.27" width="5.86" height="7.07" fill="#c7c6cb"/>
<rect x="255.95" y="236.84" width="5.86" height="7.07" fill="#c7c6cb"/>
<rect x="255.95" y="244.41" width="5.86" height="7.07" fill="#c7c6cb"/>
<rect x="255.95" y="251.98" width="5.86" height="7.07" fill="#c7c6cb"/>
<rect x="255.95" y="259.55" width="5.86" height="7.07" fill="#c7c6cb"/>
<rect x="255.95" y="267.12" width="5.86" height="7.07" fill="#c7c6cb"/>
<rect x="255.95" y="274.69" width="5.86" height="7.07" fill="#c7c6cb"/>
<rect x="255.95" y="282.26" width="5.86" height="7.07" fill="#ef8b82"/>
<rect x="255.95" y="289.83" width="5.86" height="7.07" fill="#c7c6cb"/>
<rect x="255.95" y="297.40" width="5.86" height="7.07" fill="#c7c6cb"/>
<rect x="255.95" y="304.97" width="5.86" height="7.07" fill="#c7c6cb"/>
<rect x="255.95" y="312.54" width="5.86" height="7.07" fill="#c7c6cb"/>
<rect x="255.95" y="320.11" width="5.86" height="7.07" fill="#c7c6cb"/>
<rect x="255.95" y="327.68" width="5.86" height="7.07" fill="#c7c6cb"/>
<rect x="255.95" y="335.25" width="5.86" height="7.07" fill="#c7c6cb"/>
<rect x="255.95" y="342.82" width="5.86" height="7.07" fill="#c7c6cb"/>
<rect x="255.95" y="350.39" width="5.86" height="7.07" fill="#c7c6cb"/>
<rect x="255.95" y="357.96" width="5.86" height="7.07" fill="#c7c6cb"/>
<rect x="255.95" y="365.53" width="5.86" height="7.07" fill="#c7c6cb"/>
<rect x="255.95" y="373.10" width="5.86" height="7.07" fill="#c7c6cb"/>
<rect x="255.95" y="380.67" width="5.86" height="7.07" fill="#c7c6cb"/>
<rect x="255.95" y="388.24" width="5.86" height="7.07" fill="#c7c6cb"/>
<rect x="255.95" y="395.81" width="5.86" height="7.07" fill="#c7c6cb"/>
<rect x="262.28" y="70.30" width="5.86" height="7.07" fill="#c7c6cb"/>
<rect x="262.28" y="77.87" width="5.86" height="7.07" fill="#c7c6cb"/>
<rect x="262.28" y="85.44" width="5.86" height="7.07" fill="#c7c6cb"/>
<rect x="262.28" y="93.01" width="5.86" height="7.07" fill="#c7c6cb"/>
<rect x="262.28" y="100.58" width="5.86" height="7.07" fill="#c7c6cb"/>
<rect x="262.28" y="108.15" width="5.86" height="7.07" fill="#c7c6cb"/>
<rect x="262.28" y="115.72" width="5.86" height="7.07" fill="#c7c6cb"/>
<rect x="262.28" y="123.29" width="5.86" height="7.07" fill="#c7c6cb"/>
<rect x="262.28" y="130.86" width="5.86" height="7.07" fill="#c7c6cb"/>
<rect x="262.28" y="138.43" width="5.86" height="7.07" fill="#c7c6cb"/>
<rect x="262.28" y="146.00" width="5.86" height="7.07" fill="#c7c6cb"/>
<rect x="262.28" y="153.57" width="5.86" height="7.07" fill="#c7c6cb"/>
<rect x="262.28" y="161.14" width="5.86" height="7.07" fill="#c7c6cb"/>
<rect x="262.28" y="168.71" width="5.86" height="7.07" fill="#c7c6cb"/>
<rect x="262.28" y="176.28" width="5.86" height="7.07" fill="#c7c6cb"/>
<rect x="262.28" y="183.85" width="5.86" height="7.07" fill="#c7c6cb"/>
<rect x="262.28" y="191.42" width="5.86" height="7.07" fill="#c7c6cb"/>
<rect x="262.28" y="198.99" width="5.86" height="7.07" fill="#c7c6cb"/>
<rect x="262.28" y="206.56" width="5.86" height="7.07" fill="#c7c6cb"/>
<rect x="262.28" y="214.13" width="5.86" height="7.07" fill="#c7c6cb"/>
<rect x="262.28" y="221.70" width="5.86" height="7.07" fill="#c7c6cb"/>
<rect x="262.28" y="229.27" width="5.86" height="7.07" fill="#c7c6cb"/>
<rect x="262.28" y="236.84" width="5.86" height="7.07" fill="#c7c6cb"/>
<rect x="262.28" y="244.41" width="5.86" height="7.07" fill="#c7c6cb"/>
<rect x="262.28" y="251.98" width="5.86" height="7.07" fill="#c7c6cb"/>
<rect x="262.28" y="259.55" width="5.86" height="7.07" fill="#c7c6cb"/>
<rect x="262.28" y="267.12" width="5.86" height="7.07" fill="#c7c6cb"/>
<rect x="262.28" y="274.69" width="5.86" height="7.07" fill="#c7c6cb"/>
<rect x="262.28" y="282.26" width="5.86" height="7.07" fill="#c7c6cb"/>
<rect x="262.28" y="289.83" width="5.86" height="7.07" fill="#ef8b82"/>
<rect x="262.28" y="297.40" width="5.86" height="7.07" fill="#c7c6cb"/>
<rect x="262.28" y="304.97" width="5.86" height="7.07" fill="#c7c6cb"/>
<rect x="262.28" y="312.54" width="5.86" height="7.07" fill="#c7c6cb"/>
<rect x="262.28" y="320.11" width="5.86" height="7.07" fill="#c7c6cb"/>
<rect x="262.28" y="327.68" width="5.86" height="7.07" fill="#c7c6cb"/>
<rect x="262.28" y="335.25" width="5.86" height="7.07" fill="#c7c6cb"/>
<rect x="262.28" y="342.82" width="5.86" height="7.07" fill="#c7c6cb"/>
<rect x="262.28" y="350.39" width="5.86" height="7.07" fill="#c7c6cb"/>
<rect x="262.28" y="357.96" width="5.86" height="7.07" fill="#c7c6cb"/>
<rect x="262.28" y="365.53" width="5.86" height="7.07" fill="#c7c6cb"/>
<rect x="262.28" y="373.10" width="5.86" height="7.07" fill="#c7c6cb"/>
<rect x="262.28" y="380.67" width="5.86" height="7.07" fill="#c7c6cb"/>
<rect x="262.28" y="388.24" width="5.86" height="7.07" fill="#c7c6cb"/>
<rect x="262.28" y="395.81" width="5.86" height="7.07" fill="#c7c6cb"/>
<rect x="268.62" y="70.30" width="5.86" height="7.07" fill="#c7c6cb"/>
<rect x="268.62" y="77.87" width="5.86" height="7.07" fill="#c7c6cb"/>
<rect x="268.62" y="85.44" width="5.86" height="7.07" fill="#c7c6cb"/>
<rect x="268.62" y="93.01" width="5.86" height="7.07" fill="#c7c6cb"/>
<rect x="268.62" y="100.58" width="5.86" height="7.07" fill="#c7c6cb"/>
<rect x="268.62" y="108.15" width="5.86" height="7.07" fill="#c7c6cb"/>
<rect x="268.62" y="115.72" width="5.86" height="7.07" fill="#c7c6cb"/>
<rect x="268.62" y="123.29" width="5.86" height="7.07" fill="#c7c6cb"/>
<rect x="268.62" y="130.86" width="5.86" height="7.07" fill="#c7c6cb"/>
<rect x="268.62" y="138.43" width="5.86" height="7.07" fill="#c7c6cb"/>
<rect x="268.62" y="146.00" width="5.86" height="7.07" fill="#c7c6cb"/>
<rect x="268.62" y="153.57" width="5.86" height="7.07" fill="#c7c6cb"/>
<rect x="268.62" y="161.14" width="5.86" height="7.07" fill="#c7c6cb"/>
<rect x="268.62" y="168.71" width="5.86" height="7.07" fill="#c7c6cb"/>
<rect x="268.62" y="176.28" width="5.86" height="7.07" fill="#c7c6cb"/>
<rect x="268.62" y="183.85" width="5.86" height="7.07" fill="#c7c6cb"/>
<rect x="268.62" y="191.42" width="5.86" height="7.07" fill="#c7c6cb"/>
<rect x="268.62" y="198.99" width="5.86" height="7.07" fill="#c7c6cb"/>
<rect x="268.62" y="206.56" width="5.86" height="7.07" fill="#c7c6cb"/>
<rect x="268.62" y="214.13" width="5.86" height="7.07" fill="#c7c6cb"/>
<rect x="268.62" y="221.70" width="5.86" height="7.07" fill="#c7c6cb"/>
<rect x="268.62" y="229.27" width="5.86" height="7.07" fill="#c7c6cb"/>
<rect x="268.62" y="236.84" width="5.86" height="7.07" fill="#c7c6cb"/>
<rect x="268.62" y="244.41" width="5.86" height="7.07" fill="#c7c6cb"/>
<rect x="268.62" y="251.98" width="5.86" height="7.07" fill="#c7c6cb"/>
<rect x="268.62" y="259.55" width="5.86" height="7.07" fill="#c7c6cb"/>
<rect x="268.62" y="267.12" width="5.86" height="7.07" fill="#c7c6cb"/>
<rect x="268.62" y="274.69" width="5.86" height="7.07" fill="#c7c6cb"/>
<rect x="268.62" y="282.26" width="5.86" height="7.07" fill="#c7c6cb"/>
<rect x="268.62" y="289.83" width="5.86" height="7.07" fill="#c7c6cb"/>
<rect x="268.62" y="297.40" width="5.86" height="7.07" fill="#ef8b82"/>
<rect x="268.62" y="304.97" width="5.86" height="7.07" fill="#c7c6cb"/>
<rect x="268.62" y="312.54" width="5.86" height="7.07" fill="#c7c6cb"/>
<rect x="268.62" y="320.11" width="5.86" height="7.07" fill="#c7c6cb"/>
<rect x="268.62" y="327.68" width="5.86" height="7.07" fill="#c7c6cb"/>
<rect x="268.62" y="335.25" width="5.86" height="7.07" fill="#c7c6cb"/>
<rect x="268.62" y="342.82" width="5.86" height="7.07" fill="#c7c6cb"/>
<rect x="268.62" y="350.39" width="5.86" height="7.07" fill="#c7c6cb"/>
<rect x="268.62" y="357.96" width="5.86" height="7.07" fill="#c7c6cb"/>
<rect x="268.62" y="365.53" width="5.86" height="7.07" fill="#c7c6cb"/>
<rect x="268.62" y="373.10" width="5.86" height="7.07" fill="#c7c6cb"/>
<rect x="268.62" y="380.67" width="5.86" height="7.07" fill="#c7c6cb"/>
<rect x="268.62" y="388.24" width="5.86" height="7.07" fill="#c7c6cb"/>
<rect x="268.62" y="395.81" width="5.86" height="7.07" fill="#c7c6cb"/>
<rect x="279.85" y="70.30" width="5.86" height="7.07" fill="#c7c6cb"/>
<rect x="279.85" y="77.87" width="5.86" height="7.07" fill="#c7c6cb"/>
<rect x="279.85" y="85.44" width="5.86" height="7.07" fill="#c7c6cb"/>
<rect x="279.85" y="93.01" width="5.86" height="7.07" fill="#c7c6cb"/>
<rect x="279.85" y="100.58" width="5.86" height="7.07" fill="#c7c6cb"/>
<rect x="279.85" y="108.15" width="5.86" height="7.07" fill="#c7c6cb"/>
<rect x="279.85" y="115.72" width="5.86" height="7.07" fill="#c7c6cb"/>
<rect x="279.85" y="123.29" width="5.86" height="7.07" fill="#c7c6cb"/>
<rect x="279.85" y="130.86" width="5.86" height="7.07" fill="#c7c6cb"/>
<rect x="279.85" y="138.43" width="5.86" height="7.07" fill="#c7c6cb"/>
<rect x="279.85" y="146.00" width="5.86" height="7.07" fill="#c7c6cb"/>
<rect x="279.85" y="153.57" width="5.86" height="7.07" fill="#c7c6cb"/>
<rect x="279.85" y="161.14" width="5.86" height="7.07" fill="#c7c6cb"/>
<rect x="279.85" y="168.71" width="5.86" height="7.07" fill="#c7c6cb"/>
<rect x="279.85" y="176.28" width="5.86" height="7.07" fill="#c7c6cb"/>
<rect x="279.85" y="183.85" width="5.86" height="7.07" fill="#c7c6cb"/>
<rect x="279.85" y="191.42" width="5.86" height="7.07" fill="#c7c6cb"/>
<rect x="279.85" y="198.99" width="5.86" height="7.07" fill="#c7c6cb"/>
<rect x="279.85" y="206.56" width="5.86" height="7.07" fill="#c7c6cb"/>
<rect x="279.85" y="214.13" width="5.86" height="7.07" fill="#c7c6cb"/>
<rect x="279.85" y="221.70" width="5.86" height="7.07" fill="#c7c6cb"/>
<rect x="279.85" y="229.27" width="5.86" height="7.07" fill="#c7c6cb"/>
<rect x="279.85" y="236.84" width="5.86" height="7.07" fill="#c7c6cb"/>
<rect x="279.85" y="244.41" width="5.86" height="7.07" fill="#c7c6cb"/>
<rect x="279.85" y="251.98" width="5.86" height="7.07" fill="#c7c6cb"/>
<rect x="279.85" y="259.55" width="5.86" height="7.07" fill="#c7c6cb"/>
<rect x="279.85" y="267.12" width="5.86" height="7.07" fill="#c7c6cb"/>
<rect x="279.85" y="274.69" width="5.86" height="7.07" fill="#c7c6cb"/>
<rect x="279.85" y="282.26" width="5.86" height="7.07" fill="#c7c6cb"/>
<rect x="279.85" y="289.83" width="5.86" height="7.07" fill="#c7c6cb"/>
<rect x="279.85" y="297.40" width="5.86" height="7.07" fill="#c7c6cb"/>
<rect x="279.85" y="304.97" width="5.86" height="7.07" fill="#c7c6cb"/>
<rect x="279.85" y="312.54" width="5.86" height="7.07" fill="#c7c6cb"/>
<rect x="279.85" y="320.11" width="5.86" height="7.07" fill="#c7c6cb"/>
<rect x="279.85" y="327.68" width="5.86" height="7.07" fill="#c7c6cb"/>
<rect x="279.85" y="335.25" width="5.86" height="7.07" fill="#c7c6cb"/>
<rect x="279.85" y="342.82" width="5.86" height="7.07" fill="#c7c6cb"/>
<rect x="279.85" y="350.39" width="5.86" height="7.07" fill="#c7c6cb"/>
<rect x="279.85" y="357.96" width="5.86" height="7.07" fill="#f2b2aa"/>
<rect x="279.85" y="365.53" width="5.86" height="7.07" fill="#c7c6cb"/>
<rect x="279.85" y="373.10" width="5.86" height="7.07" fill="#c7c6cb"/>
<rect x="279.85" y="380.67" width="5.86" height="7.07" fill="#c7c6cb"/>
<rect x="279.85" y="388.24" width="5.86" height="7.07" fill="#c7c6cb"/>
<rect x="279.85" y="395.81" width="5.86" height="7.07" fill="#f2b2aa"/>
<rect x="286.19" y="70.30" width="5.86" height="7.07" fill="#c7c6cb"/>
<rect x="286.19" y="77.87" width="5.86" height="7.07" fill="#c7c6cb"/>
<rect x="286.19" y="85.44" width="5.86" height="7.07" fill="#c7c6cb"/>
<rect x="286.19" y="93.01" width="5.86" height="7.07" fill="#c7c6cb"/>
<rect x="286.19" y="100.58" width="5.86" height="7.07" fill="#c7c6cb"/>
<rect x="286.19" y="108.15" width="5.86" height="7.07" fill="#c7c6cb"/>
<rect x="286.19" y="115.72" width="5.86" height="7.07" fill="#c7c6cb"/>
<rect x="286.19" y="123.29" width="5.86" height="7.07" fill="#c7c6cb"/>
<rect x="286.19" y="130.86" width="5.86" height="7.07" fill="#c7c6cb"/>
<rect x="286.19" y="138.43" width="5.86" height="7.07" fill="#c7c6cb"/>
<rect x="286.19" y="146.00" width="5.86" height="7.07" fill="#c7c6cb"/>
<rect x="286.19" y="153.57" width="5.86" height="7.07" fill="#c7c6cb"/>
<rect x="286.19" y="161.14" width="5.86" height="7.07" fill="#c7c6cb"/>
<rect x="286.19" y="168.71" width="5.86" height="7.07" fill="#c7c6cb"/>
<rect x="286.19" y="176.28" width="5.86" height="7.07" fill="#c7c6cb"/>
<rect x="286.19" y="183.85" width="5.86" height="7.07" fill="#c7c6cb"/>
<rect x="286.19" y="191.42" width="5.86" height="7.07" fill="#c7c6cb"/>
<rect x="286.19" y="198.99" width="5.86" height="7.07" fill="#c7c6cb"/>
<rect x="286.19" y="206.56" width="5.86" height="7.07" fill="#c7c6cb"/>
<rect x="286.19" y="214.13" width="5.86" height="7.07" fill="#c7c6cb"/>
<rect x="286.19" y="221.70" width="5.86" height="7.07" fill="#c7c6cb"/>
<rect x="286.19" y="229.27" width="5.86" height="7.07" fill="#c7c6cb"/>
<rect x="286.19" y="236.84" width="5.86" height="7.07" fill="#c7c6cb"/>
<rect x="286.19" y="244.41" width="5.86" height="7.07" fill="#c7c6cb"/>
<rect x="286.19" y="251.98" width="5.86" height="7.07" fill="#c7c6cb"/>
<rect x="286.19" y="259.55" width="5.86" height="7.07" fill="#c7c6cb"/>
<rect x="286.19" y="267.12" width="5.86" height="7.07" fill="#c7c6cb"/>
<rect x="286.19" y="274.69" width="5.86" height="7.07" fill="#c7c6cb"/>
<rect x="286.19" y="282.26" width="5.86" height="7.07" fill="#c7c6cb"/>
<rect x="286.19" y="289.83" width="5.86" height="7.07" fill="#c7c6cb"/>
<rect x="286.19" y="297.40" width="5.86" height="7.07" fill="#c7c6cb"/>
<rect x="286.19" y="304.97" width="5.86" height="7.07" fill="#c7c6cb"/>
<rect x="286.19" y="312.54" width="5.86" height="7.07" fill="#c7c6cb"/>
<rect x="286.19" y="320.11" width="5.86" height="7.07" fill="#c7c6cb"/>
<rect x="286.19" y="327.68" width="5.86" height="7.07" fill="#c7c6cb"/>
<rect x="286.19" y="335.25" width="5.86" height="7.07" fill="#c7c6cb"/>
<rect x="286.19" y="342.82" width="5.86" height="7.07" fill="#c7c6cb"/>
<rect x="286.19" y="350.39" width="5.86" height="7.07" fill="#c7c6cb"/>
<rect x="286.19" y="357.96" width="5.86" height="7.07" fill="#c7c6cb"/>
<rect x="286.19" y="365.53" width="5.86" height="7.07" fill="#c7c6cb"/>
<rect x="286.19" y="373.10" width="5.86" height="7.07" fill="#c7c6cb"/>
<rect x="286.19" y="380.67" width="5.86" height="7.07" fill="#c7c6cb"/>
<rect x="286.19" y="388.24" width="5.86" height="7.07" fill="#c7c6cb"/>
<rect x="286.19" y="395.81" width="5.86" height="7.07" fill="#f2b2aa"/>
<rect x="292.52" y="70.30" width="5.86" height="7.07" fill="#c7c6cb"/>
<rect x="292.52" y="77.87" width="5.86" height="7.07" fill="#c7c6cb"/>
<rect x="292.52" y="85.44" width="5.86" height="7.07" fill="#c7c6cb"/>
<rect x="292.52" y="93.01" width="5.86" height="7.07" fill="#c7c6cb"/>
<rect x="292.52" y="100.58" width="5.86" height="7.07" fill="#c7c6cb"/>
<rect x="292.52" y="108.15" width="5.86" height="7.07" fill="#c7c6cb"/>
<rect x="292.52" y="115.72" width="5.86" height="7.07" fill="#c7c6cb"/>
<rect x="292.52" y="123.29" width="5.86" height="7.07" fill="#c7c6cb"/>
<rect x="292.52" y="130.86" width="5.86" height="7.07" fill="#c7c6cb"/>
<rect x="292.52" y="138.43" width="5.86" height="7.07" fill="#c7c6cb"/>
<rect x="292.52" y="146.00" width="5.86" height="7.07" fill="#c7c6cb"/>
<rect x="292.52" y="153.57" width="5.86" height="7.07" fill="#c7c6cb"/>
<rect x="292.52" y="161.14" width="5.86" height="7.07" fill="#c7c6cb"/>
<rect x="292.52" y="168.71" width="5.86" height="7.07" fill="#c7c6cb"/>
<rect x="292.52" y="176.28" width="5.86" height="7.07" fill="#c7c6cb"/>
<rect x="292.52" y="183.85" width="5.86" height="7.07" fill="#c7c6cb"/>
<rect x="292.52" y="191.42" width="5.86" height="7.07" fill="#f2b2aa"/>
<rect x="292.52" y="198.99" width="5.86" height="7.07" fill="#c7c6cb"/>
<rect x="292.52" y="206.56" width="5.86" height="7.07" fill="#c7c6cb"/>
<rect x="292.52" y="214.13" width="5.86" height="7.07" fill="#c7c6cb"/>
<rect x="292.52" y="221.70" width="5.86" height="7.07" fill="#c7c6cb"/>
<rect x="292.52" y="229.27" width="5.86" height="7.07" fill="#c7c6cb"/>
<rect x="292.52" y="236.84" width="5.86" height="7.07" fill="#c7c6cb"/>
<rect x="292.52" y="244.41" width="5.86" height="7.07" fill="#c7c6cb"/>
<rect x="292.52" y="251.98" width="5.86" height="7.07" fill="#c7c6cb"/>
<rect x="292.52" y="259.55" width="5.86" height="7.07" fill="#c7c6cb"/>
<rect x="292.52" y="267.12" width="5.86" height="7.07" fill="#c7c6cb"/>
<rect x="292.52" y="274.69" width="5.86" height="7.07" fill="#c7c6cb"/>
<rect x="292.52" y="282.26" width="5.86" height="7.07" fill="#c7c6cb"/>
<rect x="292.52" y="289.83" width="5.86" height="7.07" fill="#c7c6cb"/>
<rect x="292.52" y="297.40" width="5.86" height="7.07" fill="#c7c6cb"/>
<rect x="292.52" y="304.97" width="5.86" height="7.07" fill="#c7c6cb"/>
<rect x="292.52" y="312.54" width="5.86" height="7.07" fill="#c7c6cb"/>
<rect x="292.52" y="320.11" width="5.86" height="7.07" fill="#c7c6cb"/>
<rect x="292.52" y="327.68" width="5.86" height="7.07" fill="#c7c6cb"/>
<rect x="292.52" y="335.25" width="5.86" height="7.07" fill="#c7c6cb"/>
<rect x="292.52" y="342.82" width="5.86" height="7.07" fill="#c7c6cb"/>
<rect x="292.52" y="350.39" width="5.86" height="7.07" fill="#c7c6cb"/>
<rect x="292.52" y="357.96" width="5.86" height="7.07" fill="#c7c6cb"/>
<rect x="292.52" y="365.53" width="5.86" height="7.07" fill="#f2b2aa"/>
<rect x="292.52" y="373.10" width="5.86" height="7.07" fill="#c7c6cb"/>
<rect x="292.52" y="380.67" width="5.86" height="7.07" fill="#c7c6cb"/>
<rect x="292.52" y="388.24" width="5.86" height="7.07" fill="#c7c6cb"/>
<rect x="292.52" y="395.81" width="5.86" height="7.07" fill="#c7c6cb"/>
<rect x="298.86" y="70.30" width="5.86" height="7.07" fill="#c7c6cb"/>
<rect x="298.86" y="77.87" width="5.86" height="7.07" fill="#c7c6cb"/>
<rect x="298.86" y="85.44" width="5.86" height="7.07" fill="#c7c6cb"/>
<rect x="298.86" y="93.01" width="5.86" height="7.07" fill="#c7c6cb"/>
<rect x="298.86" y="100.58" width="5.86" height="7.07" fill="#c7c6cb"/>
<rect x="298.86" y="108.15" width="5.86" height="7.07" fill="#c7c6cb"/>
<rect x="298.86" y="115.72" width="5.86" height="7.07" fill="#c7c6cb"/>
<rect x="298.86" y="123.29" width="5.86" height="7.07" fill="#c7c6cb"/>
<rect x="298.86" y="130.86" width="5.86" height="7.07" fill="#c7c6cb"/>
<rect x="298.86" y="138.43" width="5.86" height="7.07" fill="#c7c6cb"/>
<rect x="298.86" y="146.00" width="5.86" height="7.07" fill="#c7c6cb"/>
<rect x="298.86" y="153.57" width="5.86" height="7.07" fill="#c7c6cb"/>
<rect x="298.86" y="161.14" width="5.86" height="7.07" fill="#c7c6cb"/>
<rect x="298.86" y="168.71" width="5.86" height="7.07" fill="#c7c6cb"/>
<rect x="298.86" y="176.28" width="5.86" height="7.07" fill="#c7c6cb"/>
<rect x="298.86" y="183.85" width="5.86" height="7.07" fill="#f2b2aa"/>
<rect x="298.86" y="191.42" width="5.86" height="7.07" fill="#c7c6cb"/>
<rect x="298.86" y="198.99" width="5.86" height="7.07" fill="#c7c6cb"/>
<rect x="298.86" y="206.56" width="5.86" height="7.07" fill="#c7c6cb"/>
<rect x="298.86" y="214.13" width="5.86" height="7.07" fill="#c7c6cb"/>
<rect x="298.86" y="221.70" width="5.86" height="7.07" fill="#c7c6cb"/>
<rect x="298.86" y="229.27" width="5.86" height="7.07" fill="#c7c6cb"/>
<rect x="298.86" y="236.84" width="5.86" height="7.07" fill="#c7c6cb"/>
<rect x="298.86" y="244.41" width="5.86" height="7.07" fill="#c7c6cb"/>
<rect x="298.86" y="251.98" width="5.86" height="7.07" fill="#c7c6cb"/>
<rect x="298.86" y="259.55" width="5.86" height="7.07" fill="#c7c6cb"/>
<rect x="298.86" y="267.12" width="5.86" height="7.07" fill="#c7c6cb"/>
<rect x="298.86" y="274.69" width="5.86" height="7.07" fill="#c7c6cb"/>
<rect x="298.86" y="282.26" width="5.86" height="7.07" fill="#c7c6cb"/>
<rect x="298.86" y="289.83" width="5.86" height="7.07" fill="#c7c6cb"/>
<rect x="298.86" y="297.40" width="5.86" height="7.07" fill="#c7c6cb"/>
<rect x="298.86" y="304.97" width="5.86" height="7.07" fill="#c7c6cb"/>
<rect x="298.86" y="312.54" width="5.86" height="7.07" fill="#c7c6cb"/>
<rect x="298.86" y="320.11" width="5.86" height="7.07" fill="#c7c6cb"/>
<rect x="298.86" y="327.68" width="5.86" height="7.07" fill="#c7c6cb"/>
<rect x="298.86" y="335.25" width="5.86" height="7.07" fill="#c7c6cb"/>
<rect x="298.86" y="342.82" width="5.86" height="7.07" fill="#c7c6cb"/>
<rect x="298.86" y="350.39" width="5.86" height="7.07" fill="#c7c6cb"/>
<rect x="298.86" y="357.96" width="5.86" height="7.07" fill="#c7c6cb"/>
<rect x="298.86" y="365.53" width="5.86" height="7.07" fill="#c7c6cb"/>
<rect x="298.86" y="373.10" width="5.86" height="7.07" fill="#c7c6cb"/>
<rect x="298.86" y="380.67" width="5.86" height="7.07" fill="#c7c6cb"/>
<rect x="298.86" y="388.24" width="5.86" height="7.07" fill="#c7c6cb"/>
<rect x="298.86" y="395.81" width="5.86" height="7.07" fill="#c7c6cb"/>
<rect x="305.19" y="70.30" width="5.86" height="7.07" fill="#c7c6cb"/>
<rect x="305.19" y="77.87" width="5.86" height="7.07" fill="#c7c6cb"/>
<rect x="305.19" y="85.44" width="5.86" height="7.07" fill="#c7c6cb"/>
<rect x="305.19" y="93.01" width="5.86" height="7.07" fill="#c7c6cb"/>
<rect x="305.19" y="100.58" width="5.86" height="7.07" fill="#c7c6cb"/>
<rect x="305.19" y="108.15" width="5.86" height="7.07" fill="#c7c6cb"/>
<rect x="305.19" y="115.72" width="5.86" height="7.07" fill="#c7c6cb"/>
<rect x="305.19" y="123.29" width="5.86" height="7.07" fill="#c7c6cb"/>
<rect x="305.19" y="130.86" width="5.86" height="7.07" fill="#c7c6cb"/>
<rect x="305.19" y="138.43" width="5.86" height="7.07" fill="#c7c6cb"/>
<rect x="305.19" y="146.00" width="5.86" height="7.07" fill="#c7c6cb"/>
<rect x="305.19" y="153.57" width="5.86" height="7.07" fill="#c7c6cb"/>
<rect x="305.19" y="161.14" width="5.86" height="7.07" fill="#c7c6cb"/>
<rect x="305.19" y="168.71" width="5.86" height="7.07" fill="#c7c6cb"/>
<rect x="305.19" y="176.28" width="5.86" height="7.07" fill="#c7c6cb"/>
<rect x="305.19" y="183.85" width="5.86" height="7.07" fill="#c7c6cb"/>
<rect x="305.19" y="191.42" width="5.86" height="7.07" fill="#c7c6cb"/>
<rect x="305.19" y="198.99" width="5.86" height="7.07" fill="#c7c6cb"/>
<rect x="305.19" y="206.56" width="5.86" height="7.07" fill="#c7c6cb"/>
<rect x="305.19" y="214.13" width="5.86" height="7.07" fill="#c7c6cb"/>
<rect x="305.19" y="221.70" width="5.86" height="7.07" fill="#c7c6cb"/>
<rect x="305.19" y="229.27" width="5.86" height="7.07" fill="#c7c6cb"/>
<rect x="305.19" y="236.84" width="5.86" height="7.07" fill="#c7c6cb"/>
<rect x="305.19" y="244.41" width="5.86" height="7.07" fill="#c7c6cb"/>
<rect x="305.19" y="251.98" width="5.86" height="7.07" fill="#c7c6cb"/>
<rect x="305.19" y="259.55" width="5.86" height="7.07" fill="#c7c6cb"/>
<rect x="305.19" y="267.12" width="5.86" height="7.07" fill="#c7c6cb"/>
<rect x="305.19" y="274.69" width="5.86" height="7.07" fill="#c7c6cb"/>
<rect x="305.19" y="282.26" width="5.86" height="7.07" fill="#c7c6cb"/>
<rect x="305.19" y="289.83" width="5.86" height="7.07" fill="#c7c6cb"/>
<rect x="305.19" y="297.40" width="5.86" height="7.07" fill="#c7c6cb"/>
<rect x="305.19" y="304.97" width="5.86" height="7.07" fill="#c7c6cb"/>
<rect x="305.19" y="312.54" width="5.86" height="7.07" fill="#c7c6cb"/>
<rect x="305.19" y="320.11" width="5.86" height="7.07" fill="#c7c6cb"/>
<rect x="305.19" y="327.68" width="5.86" height="7.07" fill="#ef8b82"/>
<rect x="305.19" y="335.25" width="5.86" height="7.07" fill="#c7c6cb"/>
<rect x="305.19" y="342.82" width="5.86" height="7.07" fill="#c7c6cb"/>
<rect x="305.19" y="350.39" width="5.86" height="7.07" fill="#c7c6cb"/>
<rect x="305.19" y="357.96" width="5.86" height="7.07" fill="#c7c6cb"/>
<rect x="305.19" y="365.53" width="5.86" height="7.07" fill="#c7c6cb"/>
<rect x="305.19" y="373.10" width="5.86" height="7.07" fill="#c7c6cb"/>
<rect x="305.19" y="380.67" width="5.86" height="7.07" fill="#c7c6cb"/>
<rect x="305.19" y="388.24" width="5.86" height="7.07" fill="#c7c6cb"/>
<rect x="305.19" y="395.81" width="5.86" height="7.07" fill="#c7c6cb"/>
<rect x="311.53" y="70.30" width="5.86" height="7.07" fill="#c7c6cb"/>
<rect x="311.53" y="77.87" width="5.86" height="7.07" fill="#c7c6cb"/>
<rect x="311.53" y="85.44" width="5.86" height="7.07" fill="#c7c6cb"/>
<rect x="311.53" y="93.01" width="5.86" height="7.07" fill="#c7c6cb"/>
<rect x="311.53" y="100.58" width="5.86" height="7.07" fill="#c7c6cb"/>
<rect x="311.53" y="108.15" width="5.86" height="7.07" fill="#c7c6cb"/>
<rect x="311.53" y="115.72" width="5.86" height="7.07" fill="#c7c6cb"/>
<rect x="311.53" y="123.29" width="5.86" height="7.07" fill="#c7c6cb"/>
<rect x="311.53" y="130.86" width="5.86" height="7.07" fill="#c7c6cb"/>
<rect x="311.53" y="138.43" width="5.86" height="7.07" fill="#c7c6cb"/>
<rect x="311.53" y="146.00" width="5.86" height="7.07" fill="#c7c6cb"/>
<rect x="311.53" y="153.57" width="5.86" height="7.07" fill="#c7c6cb"/>
<rect x="311.53" y="161.14" width="5.86" height="7.07" fill="#c7c6cb"/>
<rect x="311.53" y="168.71" width="5.86" height="7.07" fill="#c7c6cb"/>
<rect x="311.53" y="176.28" width="5.86" height="7.07" fill="#c7c6cb"/>
<rect x="311.53" y="183.85" width="5.86" height="7.07" fill="#c7c6cb"/>
<rect x="311.53" y="191.42" width="5.86" height="7.07" fill="#c7c6cb"/>
<rect x="311.53" y="198.99" width="5.86" height="7.07" fill="#c7c6cb"/>
<rect x="311.53" y="206.56" width="5.86" height="7.07" fill="#c7c6cb"/>
<rect x="311.53" y="214.13" width="5.86" height="7.07" fill="#c7c6cb"/>
<rect x="311.53" y="221.70" width="5.86" height="7.07" fill="#c7c6cb"/>
<rect x="311.53" y="229.27" width="5.86" height="7.07" fill="#c7c6cb"/>
<rect x="311.53" y="236.84" width="5.86" height="7.07" fill="#c7c6cb"/>
<rect x="311.53" y="244.41" width="5.86" height="7.07" fill="#c7c6cb"/>
<rect x="311.53" y="251.98" width="5.86" height="7.07" fill="#c7c6cb"/>
<rect x="311.53" y="259.55" width="5.86" height="7.07" fill="#c7c6cb"/>
<rect x="311.53" y="267.12" width="5.86" height="7.07" fill="#c7c6cb"/>
<rect x="311.53" y="274.69" width="5.86" height="7.07" fill="#c7c6cb"/>
<rect x="311.53" y="282.26" width="5.86" height="7.07" fill="#c7c6cb"/>
<rect x="311.53" y="289.83" width="5.86" height="7.07" fill="#c7c6cb"/>
<rect x="311.53" y="297.40" width="5.86" height="7.07" fill="#c7c6cb"/>
<rect x="311.53" y="304.97" width="5.86" height="7.07" fill="#c7c6cb"/>
<rect x="311.53" y="312.54" width="5.86" height="7.07" fill="#c7c6cb"/>
<rect x="311.53" y="320.11" width="5.86" height="7.07" fill="#c7c6cb"/>
<rect x="311.53" y="327.68" width="5.86" height="7.07" fill="#c7c6cb"/>
<rect x="311.53" y="335.25" width="5.86" height="7.07" fill="#c7c6cb"/>
<rect x="311.53" y="342.82" width="5.86" height="7.07" fill="#c7c6cb"/>
<rect x="311.53" y="350.39" width="5.86" height="7.07" fill="#c7c6cb"/>
<rect x="311.53" y="357.96" width="5.86" height="7.07" fill="#c7c6cb"/>
<rect x="311.53" y="365.53" width="5.86" height="7.07" fill="#c7c6cb"/>
<rect x="311.53" y="373.10" width="5.86" height="7.07" fill="#c7c6cb"/>
<rect x="311.53" y="380.67" width="5.86" height="7.07" fill="#c7c6cb"/>
<rect x="311.53" y="388.24" width="5.86" height="7.07" fill="#ef8b82"/>
<rect x="311.53" y="395.81" width="5.86" height="7.07" fill="#c7c6cb"/>
<rect x="322.60" y="70.30" width="5.86" height="7.07" fill="#c7c6cb"/>
<rect x="322.60" y="77.87" width="5.86" height="7.07" fill="#c7c6cb"/>
<rect x="322.60" y="85.44" width="5.86" height="7.07" fill="#c7c6cb"/>
<rect x="322.60" y="93.01" width="5.86" height="7.07" fill="#c7c6cb"/>
<rect x="322.60" y="100.58" width="5.86" height="7.07" fill="#c7c6cb"/>
<rect x="322.60" y="108.15" width="5.86" height="7.07" fill="#c7c6cb"/>
<rect x="322.60" y="115.72" width="5.86" height="7.07" fill="#c7c6cb"/>
<rect x="322.60" y="123.29" width="5.86" height="7.07" fill="#c7c6cb"/>
<rect x="322.60" y="130.86" width="5.86" height="7.07" fill="#c7c6cb"/>
<rect x="322.60" y="138.43" width="5.86" height="7.07" fill="#f2b2aa"/>
<rect x="322.60" y="146.00" width="5.86" height="7.07" fill="#c7c6cb"/>
<rect x="322.60" y="153.57" width="5.86" height="7.07" fill="#c7c6cb"/>
<rect x="322.60" y="161.14" width="5.86" height="7.07" fill="#c7c6cb"/>
<rect x="322.60" y="168.71" width="5.86" height="7.07" fill="#c7c6cb"/>
<rect x="322.60" y="176.28" width="5.86" height="7.07" fill="#c7c6cb"/>
<rect x="322.60" y="183.85" width="5.86" height="7.07" fill="#c7c6cb"/>
<rect x="322.60" y="191.42" width="5.86" height="7.07" fill="#c7c6cb"/>
<rect x="322.60" y="198.99" width="5.86" height="7.07" fill="#c7c6cb"/>
<rect x="322.60" y="206.56" width="5.86" height="7.07" fill="#c7c6cb"/>
<rect x="322.60" y="214.13" width="5.86" height="7.07" fill="#c7c6cb"/>
<rect x="322.60" y="221.70" width="5.86" height="7.07" fill="#c7c6cb"/>
<rect x="322.60" y="229.27" width="5.86" height="7.07" fill="#c7c6cb"/>
<rect x="322.60" y="236.84" width="5.86" height="7.07" fill="#c7c6cb"/>
<rect x="322.60" y="244.41" width="5.86" height="7.07" fill="#c7c6cb"/>
<rect x="322.60" y="251.98" width="5.86" height="7.07" fill="#c7c6cb"/>
<rect x="322.60" y="259.55" width="5.86" height="7.07" fill="#c7c6cb"/>
<rect x="322.60" y="267.12" width="5.86" height="7.07" fill="#c7c6cb"/>
<rect x="322.60" y="274.69" width="5.86" height="7.07" fill="#c7c6cb"/>
<rect x="322.60" y="282.26" width="5.86" height="7.07" fill="#c7c6cb"/>
<rect x="322.60" y="289.83" width="5.86" height="7.07" fill="#c7c6cb"/>
<rect x="322.60" y="297.40" width="5.86" height="7.07" fill="#c7c6cb"/>
<rect x="322.60" y="304.97" width="5.86" height="7.07" fill="#c7c6cb"/>
<rect x="322.60" y="312.54" width="5.86" height="7.07" fill="#c7c6cb"/>
<rect x="322.60" y="320.11" width="5.86" height="7.07" fill="#c7c6cb"/>
<rect x="322.60" y="327.68" width="5.86" height="7.07" fill="#c7c6cb"/>
<rect x="322.60" y="335.25" width="5.86" height="7.07" fill="#c7c6cb"/>
<rect x="322.60" y="342.82" width="5.86" height="7.07" fill="#c7c6cb"/>
<rect x="322.60" y="350.39" width="5.86" height="7.07" fill="#c7c6cb"/>
<rect x="322.60" y="357.96" width="5.86" height="7.07" fill="#c7c6cb"/>
<rect x="322.60" y="365.53" width="5.86" height="7.07" fill="#c7c6cb"/>
<rect x="322.60" y="373.10" width="5.86" height="7.07" fill="#c7c6cb"/>
<rect x="322.60" y="380.67" width="5.86" height="7.07" fill="#c7c6cb"/>
<rect x="322.60" y="388.24" width="5.86" height="7.07" fill="#c7c6cb"/>
<rect x="322.60" y="395.81" width="5.86" height="7.07" fill="#c7c6cb"/>
<rect x="328.94" y="70.30" width="5.86" height="7.07" fill="#c7c6cb"/>
<rect x="328.94" y="77.87" width="5.86" height="7.07" fill="#c7c6cb"/>
<rect x="328.94" y="85.44" width="5.86" height="7.07" fill="#c7c6cb"/>
<rect x="328.94" y="93.01" width="5.86" height="7.07" fill="#c7c6cb"/>
<rect x="328.94" y="100.58" width="5.86" height="7.07" fill="#c7c6cb"/>
<rect x="328.94" y="108.15" width="5.86" height="7.07" fill="#c7c6cb"/>
<rect x="328.94" y="115.72" width="5.86" height="7.07" fill="#c7c6cb"/>
<rect x="328.94" y="123.29" width="5.86" height="7.07" fill="#c7c6cb"/>
<rect x="328.94" y="130.86" width="5.86" height="7.07" fill="#c7c6cb"/>
<rect x="328.94" y="138.43" width="5.86" height="7.07" fill="#c7c6cb"/>
<rect x="328.94" y="146.00" width="5.86" height="7.07" fill="#c7c6cb"/>
<rect x="328.94" y="153.57" width="5.86" height="7.07" fill="#c7c6cb"/>
<rect x="328.94" y="161.14" width="5.86" height="7.07" fill="#c7c6cb"/>
<rect x="328.94" y="168.71" width="5.86" height="7.07" fill="#f2b2aa"/>
<rect x="328.94" y="176.28" width="5.86" height="7.07" fill="#c7c6cb"/>
<rect x="328.94" y="183.85" width="5.86" height="7.07" fill="#c7c6cb"/>
<rect x="328.94" y="191.42" width="5.86" height="7.07" fill="#c7c6cb"/>
<rect x="328.94" y="198.99" width="5.86" height="7.07" fill="#c7c6cb"/>
<rect x="328.94" y="206.56" width="5.86" height="7.07" fill="#c7c6cb"/>
<rect x="328.94" y="214.13" width="5.86" height="7.07" fill="#c7c6cb"/>
<rect x="328.94" y="221.70" width="5.86" height="7.07" fill="#c7c6cb"/>
<rect x="328.94" y="229.27" width="5.86" height="7.07" fill="#c7c6cb"/>
<rect x="328.94" y="236.84" width="5.86" height="7.07" fill="#c7c6cb"/>
<rect x="328.94" y="244.41" width="5.86" height="7.07" fill="#c7c6cb"/>
<rect x="328.94" y="251.98" width="5.86" height="7.07" fill="#c7c6cb"/>
<rect x="328.94" y="259.55" width="5.86" height="7.07" fill="#c7c6cb"/>
<rect x="328.94" y="267.12" width="5.86" height="7.07" fill="#c7c6cb"/>
<rect x="328.94" y="274.69" width="5.86" height="7.07" fill="#c7c6cb"/>
<rect x="328.94" y="282.26" width="5.86" height="7.07" fill="#c7c6cb"/>
<rect x="328.94" y="289.83" width="5.86" height="7.07" fill="#c7c6cb"/>
<rect x="328.94" y="297.40" width="5.86" height="7.07" fill="#c7c6cb"/>
<rect x="328.94" y="304.97" width="5.86" height="7.07" fill="#c7c6cb"/>
<rect x="328.94" y="312.54" width="5.86" height="7.07" fill="#c7c6cb"/>
<rect x="328.94" y="320.11" width="5.86" height="7.07" fill="#c7c6cb"/>
<rect x="328.94" y="327.68" width="5.86" height="7.07" fill="#c7c6cb"/>
<rect x="328.94" y="335.25" width="5.86" height="7.07" fill="#c7c6cb"/>
<rect x="328.94" y="342.82" width="5.86" height="7.07" fill="#c7c6cb"/>
<rect x="328.94" y="350.39" width="5.86" height="7.07" fill="#c7c6cb"/>
<rect x="328.94" y="357.96" width="5.86" height="7.07" fill="#c7c6cb"/>
<rect x="328.94" y="365.53" width="5.86" height="7.07" fill="#c7c6cb"/>
<rect x="328.94" y="373.10" width="5.86" height="7.07" fill="#c7c6cb"/>
<rect x="328.94" y="380.67" width="5.86" height="7.07" fill="#c7c6cb"/>
<rect x="328.94" y="388.24" width="5.86" height="7.07" fill="#c7c6cb"/>
<rect x="328.94" y="395.81" width="5.86" height="7.07" fill="#c7c6cb"/>
<rect x="335.27" y="70.30" width="5.86" height="7.07" fill="#c7c6cb"/>
<rect x="335.27" y="77.87" width="5.86" height="7.07" fill="#c7c6cb"/>
<rect x="335.27" y="85.44" width="5.86" height="7.07" fill="#c7c6cb"/>
<rect x="335.27" y="93.01" width="5.86" height="7.07" fill="#c7c6cb"/>
<rect x="335.27" y="100.58" width="5.86" height="7.07" fill="#c7c6cb"/>
<rect x="335.27" y="108.15" width="5.86" height="7.07" fill="#c7c6cb"/>
<rect x="335.27" y="115.72" width="5.86" height="7.07" fill="#c7c6cb"/>
<rect x="335.27" y="123.29" width="5.86" height="7.07" fill="#c7c6cb"/>
<rect x="335.27" y="130.86" width="5.86" height="7.07" fill="#c7c6cb"/>
<rect x="335.27" y="138.43" width="5.86" height="7.07" fill="#c7c6cb"/>
<rect x="335.27" y="146.00" width="5.86" height="7.07" fill="#c7c6cb"/>
<rect x="335.27" y="153.57" width="5.86" height="7.07" fill="#c7c6cb"/>
<rect x="335.27" y="161.14" width="5.86" height="7.07" fill="#c7c6cb"/>
<rect x="335.27" y="168.71" width="5.86" height="7.07" fill="#c7c6cb"/>
<rect x="335.27" y="176.28" width="5.86" height="7.07" fill="#c7c6cb"/>
<rect x="335.27" y="183.85" width="5.86" height="7.07" fill="#c7c6cb"/>
<rect x="335.27" y="191.42" width="5.86" height="7.07" fill="#c7c6cb"/>
<rect x="335.27" y="198.99" width="5.86" height="7.07" fill="#c7c6cb"/>
<rect x="335.27" y="206.56" width="5.86" height="7.07" fill="#c7c6cb"/>
<rect x="335.27" y="214.13" width="5.86" height="7.07" fill="#c7c6cb"/>
<rect x="335.27" y="221.70" width="5.86" height="7.07" fill="#c7c6cb"/>
<rect x="335.27" y="229.27" width="5.86" height="7.07" fill="#c7c6cb"/>
<rect x="335.27" y="236.84" width="5.86" height="7.07" fill="#c7c6cb"/>
<rect x="335.27" y="244.41" width="5.86" height="7.07" fill="#c7c6cb"/>
<rect x="335.27" y="251.98" width="5.86" height="7.07" fill="#c7c6cb"/>
<rect x="335.27" y="259.55" width="5.86" height="7.07" fill="#c7c6cb"/>
<rect x="335.27" y="267.12" width="5.86" height="7.07" fill="#c7c6cb"/>
<rect x="335.27" y="274.69" width="5.86" height="7.07" fill="#c7c6cb"/>
<rect x="335.27" y="282.26" width="5.86" height="7.07" fill="#c7c6cb"/>
<rect x="335.27" y="289.83" width="5.86" height="7.07" fill="#c7c6cb"/>
<rect x="335.27" y="297.40" width="5.86" height="7.07" fill="#c7c6cb"/>
<rect x="335.27" y="304.97" width="5.86" height="7.07" fill="#c7c6cb"/>
<rect x="335.27" y="312.54" width="5.86" height="7.07" fill="#c7c6cb"/>
<rect x="335.27" y="320.11" width="5.86" height="7.07" fill="#ef8b82"/>
<rect x="335.27" y="327.68" width="5.86" height="7.07" fill="#c7c6cb"/>
<rect x="335.27" y="335.25" width="5.86" height="7.07" fill="#c7c6cb"/>
<rect x="335.27" y="342.82" width="5.86" height="7.07" fill="#c7c6cb"/>
<rect x="335.27" y="350.39" width="5.86" height="7.07" fill="#c7c6cb"/>
<rect x="335.27" y="357.96" width="5.86" height="7.07" fill="#c7c6cb"/>
<rect x="335.27" y="365.53" width="5.86" height="7.07" fill="#c7c6cb"/>
<rect x="335.27" y="373.10" width="5.86" height="7.07" fill="#c7c6cb"/>
<rect x="335.27" y="380.67" width="5.86" height="7.07" fill="#c7c6cb"/>
<rect x="335.27" y="388.24" width="5.86" height="7.07" fill="#c7c6cb"/>
<rect x="335.27" y="395.81" width="5.86" height="7.07" fill="#c7c6cb"/>
<rect x="341.61" y="70.30" width="5.86" height="7.07" fill="#c7c6cb"/>
<rect x="341.61" y="77.87" width="5.86" height="7.07" fill="#c7c6cb"/>
<rect x="341.61" y="85.44" width="5.86" height="7.07" fill="#c7c6cb"/>
<rect x="341.61" y="93.01" width="5.86" height="7.07" fill="#c7c6cb"/>
<rect x="341.61" y="100.58" width="5.86" height="7.07" fill="#c7c6cb"/>
<rect x="341.61" y="108.15" width="5.86" height="7.07" fill="#c7c6cb"/>
<rect x="341.61" y="115.72" width="5.86" height="7.07" fill="#c7c6cb"/>
<rect x="341.61" y="123.29" width="5.86" height="7.07" fill="#c7c6cb"/>
<rect x="341.61" y="130.86" width="5.86" height="7.07" fill="#c7c6cb"/>
<rect x="341.61" y="138.43" width="5.86" height="7.07" fill="#c7c6cb"/>
<rect x="341.61" y="146.00" width="5.86" height="7.07" fill="#c7c6cb"/>
<rect x="341.61" y="153.57" width="5.86" height="7.07" fill="#c7c6cb"/>
<rect x="341.61" y="161.14" width="5.86" height="7.07" fill="#c7c6cb"/>
<rect x="341.61" y="168.71" width="5.86" height="7.07" fill="#c7c6cb"/>
<rect x="341.61" y="176.28" width="5.86" height="7.07" fill="#c7c6cb"/>
<rect x="341.61" y="183.85" width="5.86" height="7.07" fill="#c7c6cb"/>
<rect x="341.61" y="191.42" width="5.86" height="7.07" fill="#c7c6cb"/>
<rect x="341.61" y="198.99" width="5.86" height="7.07" fill="#c7c6cb"/>
<rect x="341.61" y="206.56" width="5.86" height="7.07" fill="#c7c6cb"/>
<rect x="341.61" y="214.13" width="5.86" height="7.07" fill="#c7c6cb"/>
<rect x="341.61" y="221.70" width="5.86" height="7.07" fill="#c7c6cb"/>
<rect x="341.61" y="229.27" width="5.86" height="7.07" fill="#c7c6cb"/>
<rect x="341.61" y="236.84" width="5.86" height="7.07" fill="#c7c6cb"/>
<rect x="341.61" y="244.41" width="5.86" height="7.07" fill="#c7c6cb"/>
<rect x="341.61" y="251.98" width="5.86" height="7.07" fill="#c7c6cb"/>
<rect x="341.61" y="259.55" width="5.86" height="7.07" fill="#c7c6cb"/>
<rect x="341.61" y="267.12" width="5.86" height="7.07" fill="#c7c6cb"/>
<rect x="341.61" y="274.69" width="5.86" height="7.07" fill="#c7c6cb"/>
<rect x="341.61" y="282.26" width="5.86" height="7.07" fill="#c7c6cb"/>
<rect x="341.61" y="289.83" width="5.86" height="7.07" fill="#c7c6cb"/>
<rect x="341.61" y="297.40" width="5.86" height="7.07" fill="#c7c6cb"/>
<rect x="341.61" y="304.97" width="5.86" height="7.07" fill="#c7c6cb"/>
<rect x="341.61" y="312.54" width="5.86" height="7.07" fill="#c7c6cb"/>
<rect x="341.61" y="320.11" width="5.86" height="7.07" fill="#c7c6cb"/>
<rect x="341.61" y="327.68" width="5.86" height="7.07" fill="#c7c6cb"/>
<rect x="341.61" y="335.25" width="5.86" height="7.07" fill="#c7c6cb"/>
<rect x="341.61" y="342.82" width="5.86" height="7.07" fill="#c7c6cb"/>
<rect x="341.61" y="350.39" width="5.86" height="7.07" fill="#ef8b82"/>
<rect x="341.61" y="357.96" width="5.86" height="7.07" fill="#c7c6cb"/>
<rect x="341.61" y="365.53" width="5.86" height="7.07" fill="#c7c6cb"/>
<rect x="341.61" y="373.10" width="5.86" height="7.07" fill="#c7c6cb"/>
<rect x="341.61" y="380.67" width="5.86" height="7.07" fill="#c7c6cb"/>
<rect x="341.61" y="388.24" width="5.86" height="7.07" fill="#c7c6cb"/>
<rect x="341.61" y="395.81" width="5.86" height="7.07" fill="#c7c6cb"/>
<rect x="352.80" y="70.30" width="5.86" height="7.07" fill="#c7c6cb"/>
<rect x="352.80" y="77.87" width="5.86" height="7.07" fill="#f2b2aa"/>
<rect x="352.80" y="85.44" width="5.86" height="7.07" fill="#c7c6cb"/>
<rect x="352.80" y="93.01" width="5.86" height="7.07" fill="#c7c6cb"/>
<rect x="352.80" y="100.58" width="5.86" height="7.07" fill="#c7c6cb"/>
<rect x="352.80" y="108.15" width="5.86" height="7.07" fill="#c7c6cb"/>
<rect x="352.80" y="115.72" width="5.86" height="7.07" fill="#c7c6cb"/>
<rect x="352.80" y="123.29" width="5.86" height="7.07" fill="#c7c6cb"/>
<rect x="352.80" y="130.86" width="5.86" height="7.07" fill="#c7c6cb"/>
<rect x="352.80" y="138.43" width="5.86" height="7.07" fill="#c7c6cb"/>
<rect x="352.80" y="146.00" width="5.86" height="7.07" fill="#c7c6cb"/>
<rect x="352.80" y="153.57" width="5.86" height="7.07" fill="#c7c6cb"/>
<rect x="352.80" y="161.14" width="5.86" height="7.07" fill="#c7c6cb"/>
<rect x="352.80" y="168.71" width="5.86" height="7.07" fill="#c7c6cb"/>
<rect x="352.80" y="176.28" width="5.86" height="7.07" fill="#c7c6cb"/>
<rect x="352.80" y="183.85" width="5.86" height="7.07" fill="#c7c6cb"/>
<rect x="352.80" y="191.42" width="5.86" height="7.07" fill="#c7c6cb"/>
<rect x="352.80" y="198.99" width="5.86" height="7.07" fill="#c7c6cb"/>
<rect x="352.80" y="206.56" width="5.86" height="7.07" fill="#c7c6cb"/>
<rect x="352.80" y="214.13" width="5.86" height="7.07" fill="#c7c6cb"/>
<rect x="352.80" y="221.70" width="5.86" height="7.07" fill="#c7c6cb"/>
<rect x="352.80" y="229.27" width="5.86" height="7.07" fill="#c7c6cb"/>
<rect x="352.80" y="236.84" width="5.86" height="7.07" fill="#c7c6cb"/>
<rect x="352.80" y="244.41" width="5.86" height="7.07" fill="#c7c6cb"/>
<rect x="352.80" y="251.98" width="5.86" height="7.07" fill="#c7c6cb"/>
<rect x="352.80" y="259.55" width="5.86" height="7.07" fill="#c7c6cb"/>
<rect x="352.80" y="267.12" width="5.86" height="7.07" fill="#c7c6cb"/>
<rect x="352.80" y="274.69" width="5.86" height="7.07" fill="#c7c6cb"/>
<rect x="352.80" y="282.26" width="5.86" height="7.07" fill="#c7c6cb"/>
<rect x="352.80" y="289.83" width="5.86" height="7.07" fill="#c7c6cb"/>
<rect x="352.80" y="297.40" width="5.86" height="7.07" fill="#c7c6cb"/>
<rect x="352.80" y="304.97" width="5.86" height="7.07" fill="#c7c6cb"/>
<rect x="352.80" y="312.54" width="5.86" height="7.07" fill="#f2b2aa"/>
<rect x="352.80" y="320.11" width="5.86" height="7.07" fill="#c7c6cb"/>
<rect x="352.80" y="327.68" width="5.86" height="7.07" fill="#c7c6cb"/>
<rect x="352.80" y="335.25" width="5.86" height="7.07" fill="#c7c6cb"/>
<rect x="352.80" y="342.82" width="5.86" height="7.07" fill="#c7c6cb"/>
<rect x="352.80" y="350.39" width="5.86" height="7.07" fill="#c7c6cb"/>
<rect x="352.80" y="357.96" width="5.86" height="7.07" fill="#c7c6cb"/>
<rect x="352.80" y="365.53" width="5.86" height="7.07" fill="#c7c6cb"/>
<rect x="352.80" y="373.10" width="5.86" height="7.07" fill="#c7c6cb"/>
<rect x="352.80" y="380.67" width="5.86" height="7.07" fill="#c7c6cb"/>
<rect x="352.80" y="388.24" width="5.86" height="7.07" fill="#c7c6cb"/>
<rect x="352.80" y="395.81" width="5.86" height="7.07" fill="#c7c6cb"/>
<rect x="359.13" y="70.30" width="5.86" height="7.07" fill="#c7c6cb"/>
<rect x="359.13" y="77.87" width="5.86" height="7.07" fill="#f2b2aa"/>
<rect x="359.13" y="85.44" width="5.86" height="7.07" fill="#c7c6cb"/>
<rect x="359.13" y="93.01" width="5.86" height="7.07" fill="#c7c6cb"/>
<rect x="359.13" y="100.58" width="5.86" height="7.07" fill="#c7c6cb"/>
<rect x="359.13" y="108.15" width="5.86" height="7.07" fill="#c7c6cb"/>
<rect x="359.13" y="115.72" width="5.86" height="7.07" fill="#c7c6cb"/>
<rect x="359.13" y="123.29" width="5.86" height="7.07" fill="#c7c6cb"/>
<rect x="359.13" y="130.86" width="5.86" height="7.07" fill="#c7c6cb"/>
<rect x="359.13" y="138.43" width="5.86" height="7.07" fill="#c7c6cb"/>
<rect x="359.13" y="146.00" width="5.86" height="7.07" fill="#c7c6cb"/>
<rect x="359.13" y="153.57" width="5.86" height="7.07" fill="#c7c6cb"/>
<rect x="359.13" y="161.14" width="5.86" height="7.07" fill="#c7c6cb"/>
<rect x="359.13" y="168.71" width="5.86" height="7.07" fill="#c7c6cb"/>
<rect x="359.13" y="176.28" width="5.86" height="7.07" fill="#c7c6cb"/>
<rect x="359.13" y="183.85" width="5.86" height="7.07" fill="#c7c6cb"/>
<rect x="359.13" y="191.42" width="5.86" height="7.07" fill="#c7c6cb"/>
<rect x="359.13" y="198.99" width="5.86" height="7.07" fill="#c7c6cb"/>
<rect x="359.13" y="206.56" width="5.86" height="7.07" fill="#c7c6cb"/>
<rect x="359.13" y="214.13" width="5.86" height="7.07" fill="#c7c6cb"/>
<rect x="359.13" y="221.70" width="5.86" height="7.07" fill="#c7c6cb"/>
<rect x="359.13" y="229.27" width="5.86" height="7.07" fill="#c7c6cb"/>
<rect x="359.13" y="236.84" width="5.86" height="7.07" fill="#c7c6cb"/>
<rect x="359.13" y="244.41" width="5.86" height="7.07" fill="#c7c6cb"/>
<rect x="359.13" y="251.98" width="5.86" height="7.07" fill="#c7c6cb"/>
<rect x="359.13" y="259.55" width="5.86" height="7.07" fill="#c7c6cb"/>
<rect x="359.13" y="267.12" width="5.86" height="7.07" fill="#c7c6cb"/>
<rect x="359.13" y="274.69" width="5.86" height="7.07" fill="#c7c6cb"/>
<rect x="359.13" y="282.26" width="5.86" height="7.07" fill="#c7c6cb"/>
<rect x="359.13" y="289.83" width="5.86" height="7.07" fill="#c7c6cb"/>
<rect x="359.13" y="297.40" width="5.86" height="7.07" fill="#c7c6cb"/>
<rect x="359.13" y="304.97" width="5.86" height="7.07" fill="#c7c6cb"/>
<rect x="359.13" y="312.54" width="5.86" height="7.07" fill="#c7c6cb"/>
<rect x="359.13" y="320.11" width="5.86" height="7.07" fill="#c7c6cb"/>
<rect x="359.13" y="327.68" width="5.86" height="7.07" fill="#c7c6cb"/>
<rect x="359.13" y="335.25" width="5.86" height="7.07" fill="#c7c6cb"/>
<rect x="359.13" y="342.82" width="5.86" height="7.07" fill="#c7c6cb"/>
<rect x="359.13" y="350.39" width="5.86" height="7.07" fill="#c7c6cb"/>
<rect x="359.13" y="357.96" width="5.86" height="7.07" fill="#c7c6cb"/>
<rect x="359.13" y="365.53" width="5.86" height="7.07" fill="#c7c6cb"/>
<rect x="359.13" y="373.10" width="5.86" height="7.07" fill="#c7c6cb"/>
<rect x="359.13" y="380.67" width="5.86" height="7.07" fill="#c7c6cb"/>
<rect x="359.13" y="388.24" width="5.86" height="7.07" fill="#c7c6cb"/>
<rect x="359.13" y="395.81" width="5.86" height="7.07" fill="#c7c6cb"/>
<rect x="365.47" y="70.30" width="5.86" height="7.07" fill="#c7c6cb"/>
<rect x="365.47" y="77.87" width="5.86" height="7.07" fill="#f2b2aa"/>
<rect x="365.47" y="85.44" width="5.86" height="7.07" fill="#c7c6cb"/>
<rect x="365.47" y="93.01" width="5.86" height="7.07" fill="#c7c6cb"/>
<rect x="365.47" y="100.58" width="5.86" height="7.07" fill="#c7c6cb"/>
<rect x="365.47" y="108.15" width="5.86" height="7.07" fill="#c7c6cb"/>
<rect x="365.47" y="115.72" width="5.86" height="7.07" fill="#c7c6cb"/>
<rect x="365.47" y="123.29" width="5.86" height="7.07" fill="#c7c6cb"/>
<rect x="365.47" y="130.86" width="5.86" height="7.07" fill="#c7c6cb"/>
<rect x="365.47" y="138.43" width="5.86" height="7.07" fill="#c7c6cb"/>
<rect x="365.47" y="146.00" width="5.86" height="7.07" fill="#c7c6cb"/>
<rect x="365.47" y="153.57" width="5.86" height="7.07" fill="#c7c6cb"/>
<rect x="365.47" y="161.14" width="5.86" height="7.07" fill="#c7c6cb"/>
<rect x="365.47" y="168.71" width="5.86" height="7.07" fill="#c7c6cb"/>
<rect x="365.47" y="176.28" width="5.86" height="7.07" fill="#c7c6cb"/>
<rect x="365.47" y="183.85" width="5.86" height="7.07" fill="#c7c6cb"/>
<rect x="365.47" y="191.42" width="5.86" height="7.07" fill="#c7c6cb"/>
<rect x="365.47" y="198.99" width="5.86" height="7.07" fill="#c7c6cb"/>
<rect x="365.47" y="206.56" width="5.86" height="7.07" fill="#c7c6cb"/>
<rect x="365.47" y="214.13" width="5.86" height="7.07" fill="#c7c6cb"/>
<rect x="365.47" y="221.70" width="5.86" height="7.07" fill="#c7c6cb"/>
<rect x="365.47" y="229.27" width="5.86" height="7.07" fill="#c7c6cb"/>
<rect x="365.47" y="236.84" width="5.86" height="7.07" fill="#c7c6cb"/>
<rect x="365.47" y="244.41" width="5.86" height="7.07" fill="#c7c6cb"/>
<rect x="365.47" y="251.98" width="5.86" height="7.07" fill="#c7c6cb"/>
<rect x="365.47" y="259.55" width="5.86" height="7.07" fill="#c7c6cb"/>
<rect x="365.47" y="267.12" width="5.86" height="7.07" fill="#c7c6cb"/>
<rect x="365.47" y="274.69" width="5.86" height="7.07" fill="#c7c6cb"/>
<rect x="365.47" y="282.26" width="5.86" height="7.07" fill="#c7c6cb"/>
<rect x="365.47" y="289.83" width="5.86" height="7.07" fill="#c7c6cb"/>
<rect x="365.47" y="297.40" width="5.86" height="7.07" fill="#c7c6cb"/>
<rect x="365.47" y="304.97" width="5.86" height="7.07" fill="#c7c6cb"/>
<rect x="365.47" y="312.54" width="5.86" height="7.07" fill="#c7c6cb"/>
<rect x="365.47" y="320.11" width="5.86" height="7.07" fill="#c7c6cb"/>
<rect x="365.47" y="327.68" width="5.86" height="7.07" fill="#c7c6cb"/>
<rect x="365.47" y="335.25" width="5.86" height="7.07" fill="#c7c6cb"/>
<rect x="365.47" y="342.82" width="5.86" height="7.07" fill="#c7c6cb"/>
<rect x="365.47" y="350.39" width="5.86" height="7.07" fill="#c7c6cb"/>
<rect x="365.47" y="357.96" width="5.86" height="7.07" fill="#c7c6cb"/>
<rect x="365.47" y="365.53" width="5.86" height="7.07" fill="#c7c6cb"/>
<rect x="365.47" y="373.10" width="5.86" height="7.07" fill="#c7c6cb"/>
<rect x="365.47" y="380.67" width="5.86" height="7.07" fill="#c7c6cb"/>
<rect x="365.47" y="388.24" width="5.86" height="7.07" fill="#c7c6cb"/>
<rect x="365.47" y="395.81" width="5.86" height="7.07" fill="#c7c6cb"/>
<rect x="371.81" y="70.30" width="5.86" height="7.07" fill="#c7c6cb"/>
<rect x="371.81" y="77.87" width="5.86" height="7.07" fill="#c7c6cb"/>
<rect x="371.81" y="85.44" width="5.86" height="7.07" fill="#c7c6cb"/>
<rect x="371.81" y="93.01" width="5.86" height="7.07" fill="#c7c6cb"/>
<rect x="371.81" y="100.58" width="5.86" height="7.07" fill="#c7c6cb"/>
<rect x="371.81" y="108.15" width="5.86" height="7.07" fill="#c7c6cb"/>
<rect x="371.81" y="115.72" width="5.86" height="7.07" fill="#c7c6cb"/>
<rect x="371.81" y="123.29" width="5.86" height="7.07" fill="#c7c6cb"/>
<rect x="371.81" y="130.86" width="5.86" height="7.07" fill="#c7c6cb"/>
<rect x="371.81" y="138.43" width="5.86" height="7.07" fill="#c7c6cb"/>
<rect x="371.81" y="146.00" width="5.86" height="7.07" fill="#c7c6cb"/>
<rect x="371.81" y="153.57" width="5.86" height="7.07" fill="#c7c6cb"/>
<rect x="371.81" y="161.14" width="5.86" height="7.07" fill="#c7c6cb"/>
<rect x="371.81" y="168.71" width="5.86" height="7.07" fill="#c7c6cb"/>
<rect x="371.81" y="176.28" width="5.86" height="7.07" fill="#c7c6cb"/>
<rect x="371.81" y="183.85" width="5.86" height="7.07" fill="#c7c6cb"/>
<rect x="371.81" y="191.42" width="5.86" height="7.07" fill="#c7c6cb"/>
<rect x="371.81" y="198.99" width="5.86" height="7.07" fill="#c7c6cb"/>
<rect x="371.81" y="206.56" width="5.86" height="7.07" fill="#c7c6cb"/>
<rect x="371.81" y="214.13" width="5.86" height="7.07" fill="#c7c6cb"/>
<rect x="371.81" y="221.70" width="5.86" height="7.07" fill="#c7c6cb"/>
<rect x="371.81" y="229.27" width="5.86" height="7.07" fill="#c7c6cb"/>
<rect x="371.81" y="236.84" width="5.86" height="7.07" fill="#c7c6cb"/>
<rect x="371.81" y="244.41" width="5.86" height="7.07" fill="#c7c6cb"/>
<rect x="371.81" y="251.98" width="5.86" height="7.07" fill="#c7c6cb"/>
<rect x="371.81" y="259.55" width="5.86" height="7.07" fill="#c7c6cb"/>
<rect x="371.81" y="267.12" width="5.86" height="7.07" fill="#c7c6cb"/>
<rect x="371.81" y="274.69" width="5.86" height="7.07" fill="#c7c6cb"/>
<rect x="371.81" y="282.26" width="5.86" height="7.07" fill="#c7c6cb"/>
<rect x="371.81" y="289.83" width="5.86" height="7.07" fill="#c7c6cb"/>
<rect x="371.81" y="297.40" width="5.86" height="7.07" fill="#c7c6cb"/>
<rect x="371.81" y="304.97" width="5.86" height="7.07" fill="#c7c6cb"/>
<rect x="371.81" y="312.54" width="5.86" height="7.07" fill="#c7c6cb"/>
<rect x="371.81" y="320.11" width="5.86" height="7.07" fill="#c7c6cb"/>
<rect x="371.81" y="327.68" width="5.86" height="7.07" fill="#c7c6cb"/>
<rect x="371.81" y="335.25" width="5.86" height="7.07" fill="#c7c6cb"/>
<rect x="371.81" y="342.82" width="5.86" height="7.07" fill="#c7c6cb"/>
<rect x="371.81" y="350.39" width="5.86" height="7.07" fill="#c7c6cb"/>
<rect x="371.81" y="357.96" width="5.86" height="7.07" fill="#c7c6cb"/>
<rect x="371.81" y="365.53" width="5.86" height="7.07" fill="#c7c6cb"/>
<rect x="371.81" y="373.10" width="5.86" height="7.07" fill="#f2b2aa"/>
<rect x="371.81" y="380.67" width="5.86" height="7.07" fill="#c7c6cb"/>
<rect x="371.81" y="388.24" width="5.86" height="7.07" fill="#c7c6cb"/>
<rect x="371.81" y="395.81" width="5.86" height="7.07" fill="#c7c6cb"/>
<rect x="378.14" y="70.30" width="5.86" height="7.07" fill="#c7c6cb"/>
<rect x="378.14" y="77.87" width="5.86" height="7.07" fill="#c7c6cb"/>
<rect x="378.14" y="85.44" width="5.86" height="7.07" fill="#c7c6cb"/>
<rect x="378.14" y="93.01" width="5.86" height="7.07" fill="#c7c6cb"/>
<rect x="378.14" y="100.58" width="5.86" height="7.07" fill="#c7c6cb"/>
<rect x="378.14" y="108.15" width="5.86" height="7.07" fill="#c7c6cb"/>
<rect x="378.14" y="115.72" width="5.86" height="7.07" fill="#c7c6cb"/>
<rect x="378.14" y="123.29" width="5.86" height="7.07" fill="#c7c6cb"/>
<rect x="378.14" y="130.86" width="5.86" height="7.07" fill="#c7c6cb"/>
<rect x="378.14" y="138.43" width="5.86" height="7.07" fill="#c7c6cb"/>
<rect x="378.14" y="146.00" width="5.86" height="7.07" fill="#c7c6cb"/>
<rect x="378.14" y="153.57" width="5.86" height="7.07" fill="#c7c6cb"/>
<rect x="378.14" y="161.14" width="5.86" height="7.07" fill="#c7c6cb"/>
<rect x="378.14" y="168.71" width="5.86" height="7.07" fill="#c7c6cb"/>
<rect x="378.14" y="176.28" width="5.86" height="7.07" fill="#c7c6cb"/>
<rect x="378.14" y="183.85" width="5.86" height="7.07" fill="#c7c6cb"/>
<rect x="378.14" y="191.42" width="5.86" height="7.07" fill="#c7c6cb"/>
<rect x="378.14" y="198.99" width="5.86" height="7.07" fill="#c7c6cb"/>
<rect x="378.14" y="206.56" width="5.86" height="7.07" fill="#c7c6cb"/>
<rect x="378.14" y="214.13" width="5.86" height="7.07" fill="#c7c6cb"/>
<rect x="378.14" y="221.70" width="5.86" height="7.07" fill="#c7c6cb"/>
<rect x="378.14" y="229.27" width="5.86" height="7.07" fill="#c7c6cb"/>
<rect x="378.14" y="236.84" width="5.86" height="7.07" fill="#c7c6cb"/>
<rect x="378.14" y="244.41" width="5.86" height="7.07" fill="#c7c6cb"/>
<rect x="378.14" y="251.98" width="5.86" height="7.07" fill="#c7c6cb"/>
<rect x="378.14" y="259.55" width="5.86" height="7.07" fill="#c7c6cb"/>
<rect x="378.14" y="267.12" width="5.86" height="7.07" fill="#c7c6cb"/>
<rect x="378.14" y="274.69" width="5.86" height="7.07" fill="#c7c6cb"/>
<rect x="378.14" y="282.26" width="5.86" height="7.07" fill="#c7c6cb"/>
<rect x="378.14" y="289.83" width="5.86" height="7.07" fill="#c7c6cb"/>
<rect x="378.14" y="297.40" width="5.86" height="7.07" fill="#c7c6cb"/>
<rect x="378.14" y="304.97" width="5.86" height="7.07" fill="#c7c6cb"/>
<rect x="378.14" y="312.54" width="5.86" height="7.07" fill="#c7c6cb"/>
<rect x="378.14" y="320.11" width="5.86" height="7.07" fill="#c7c6cb"/>
<rect x="378.14" y="327.68" width="5.86" height="7.07" fill="#c7c6cb"/>
<rect x="378.14" y="335.25" width="5.86" height="7.07" fill="#c7c6cb"/>
<rect x="378.14" y="342.82" width="5.86" height="7.07" fill="#c7c6cb"/>
<rect x="378.14" y="350.39" width="5.86" height="7.07" fill="#c7c6cb"/>
<rect x="378.14" y="357.96" width="5.86" height="7.07" fill="#c7c6cb"/>
<rect x="378.14" y="365.53" width="5.86" height="7.07" fill="#c7c6cb"/>
<rect x="378.14" y="373.10" width="5.86" height="7.07" fill="#c7c6cb"/>
<rect x="378.14" y="380.67" width="5.86" height="7.07" fill="#c7c6cb"/>
<rect x="378.14" y="388.24" width="5.86" height="7.07" fill="#f2b2aa"/>
<rect x="378.14" y="395.81" width="5.86" height="7.07" fill="#c7c6cb"/>
<rect x="384.48" y="70.30" width="5.86" height="7.07" fill="#c7c6cb"/>
<rect x="384.48" y="77.87" width="5.86" height="7.07" fill="#c7c6cb"/>
<rect x="384.48" y="85.44" width="5.86" height="7.07" fill="#c7c6cb"/>
<rect x="384.48" y="93.01" width="5.86" height="7.07" fill="#c7c6cb"/>
<rect x="384.48" y="100.58" width="5.86" height="7.07" fill="#c7c6cb"/>
<rect x="384.48" y="108.15" width="5.86" height="7.07" fill="#c7c6cb"/>
<rect x="384.48" y="115.72" width="5.86" height="7.07" fill="#c7c6cb"/>
<rect x="384.48" y="123.29" width="5.86" height="7.07" fill="#c7c6cb"/>
<rect x="384.48" y="130.86" width="5.86" height="7.07" fill="#c7c6cb"/>
<rect x="384.48" y="138.43" width="5.86" height="7.07" fill="#c7c6cb"/>
<rect x="384.48" y="146.00" width="5.86" height="7.07" fill="#f2b2aa"/>
<rect x="384.48" y="153.57" width="5.86" height="7.07" fill="#c7c6cb"/>
<rect x="384.48" y="161.14" width="5.86" height="7.07" fill="#c7c6cb"/>
<rect x="384.48" y="168.71" width="5.86" height="7.07" fill="#c7c6cb"/>
<rect x="384.48" y="176.28" width="5.86" height="7.07" fill="#c7c6cb"/>
<rect x="384.48" y="183.85" width="5.86" height="7.07" fill="#c7c6cb"/>
<rect x="384.48" y="191.42" width="5.86" height="7.07" fill="#c7c6cb"/>
<rect x="384.48" y="198.99" width="5.86" height="7.07" fill="#c7c6cb"/>
<rect x="384.48" y="206.56" width="5.86" height="7.07" fill="#c7c6cb"/>
<rect x="384.48" y="214.13" width="5.86" height="7.07" fill="#c7c6cb"/>
<rect x="384.48" y="221.70" width="5.86" height="7.07" fill="#c7c6cb"/>
<rect x="384.48" y="229.27" width="5.86" height="7.07" fill="#c7c6cb"/>
<rect x="384.48" y="236.84" width="5.86" height="7.07" fill="#c7c6cb"/>
<rect x="384.48" y="244.41" width="5.86" height="7.07" fill="#c7c6cb"/>
<rect x="384.48" y="251.98" width="5.86" height="7.07" fill="#c7c6cb"/>
<rect x="384.48" y="259.55" width="5.86" height="7.07" fill="#c7c6cb"/>
<rect x="384.48" y="267.12" width="5.86" height="7.07" fill="#c7c6cb"/>
<rect x="384.48" y="274.69" width="5.86" height="7.07" fill="#c7c6cb"/>
<rect x="384.48" y="282.26" width="5.86" height="7.07" fill="#c7c6cb"/>
<rect x="384.48" y="289.83" width="5.86" height="7.07" fill="#c7c6cb"/>
<rect x="384.48" y="297.40" width="5.86" height="7.07" fill="#c7c6cb"/>
<rect x="384.48" y="304.97" width="5.86" height="7.07" fill="#c7c6cb"/>
<rect x="384.48" y="312.54" width="5.86" height="7.07" fill="#c7c6cb"/>
<rect x="384.48" y="320.11" width="5.86" height="7.07" fill="#c7c6cb"/>
<rect x="384.48" y="327.68" width="5.86" height="7.07" fill="#c7c6cb"/>
<rect x="384.48" y="335.25" width="5.86" height="7.07" fill="#c7c6cb"/>
<rect x="384.48" y="342.82" width="5.86" height="7.07" fill="#f2b2aa"/>
<rect x="384.48" y="350.39" width="5.86" height="7.07" fill="#c7c6cb"/>
<rect x="384.48" y="357.96" width="5.86" height="7.07" fill="#c7c6cb"/>
<rect x="384.48" y="365.53" width="5.86" height="7.07" fill="#c7c6cb"/>
<rect x="384.48" y="373.10" width="5.86" height="7.07" fill="#c7c6cb"/>
<rect x="384.48" y="380.67" width="5.86" height="7.07" fill="#c7c6cb"/>
<rect x="384.48" y="388.24" width="5.86" height="7.07" fill="#c7c6cb"/>
<rect x="384.48" y="395.81" width="5.86" height="7.07" fill="#c7c6cb"/>
<rect x="390.81" y="70.30" width="5.86" height="7.07" fill="#c7c6cb"/>
<rect x="390.81" y="77.87" width="5.86" height="7.07" fill="#c7c6cb"/>
<rect x="390.81" y="85.44" width="5.86" height="7.07" fill="#c7c6cb"/>
<rect x="390.81" y="93.01" width="5.86" height="7.07" fill="#c7c6cb"/>
<rect x="390.81" y="100.58" width="5.86" height="7.07" fill="#c7c6cb"/>
<rect x="390.81" y="108.15" width="5.86" height="7.07" fill="#c7c6cb"/>
<rect x="390.81" y="115.72" width="5.86" height="7.07" fill="#c7c6cb"/>
<rect x="390.81" y="123.29" width="5.86" height="7.07" fill="#c7c6cb"/>
<rect x="390.81" y="130.86" width="5.86" height="7.07" fill="#c7c6cb"/>
<rect x="390.81" y="138.43" width="5.86" height="7.07" fill="#c7c6cb"/>
<rect x="390.81" y="146.00" width="5.86" height="7.07" fill="#c7c6cb"/>
<rect x="390.81" y="153.57" width="5.86" height="7.07" fill="#c7c6cb"/>
<rect x="390.81" y="161.14" width="5.86" height="7.07" fill="#f2b2aa"/>
<rect x="390.81" y="168.71" width="5.86" height="7.07" fill="#c7c6cb"/>
<rect x="390.81" y="176.28" width="5.86" height="7.07" fill="#c7c6cb"/>
<rect x="390.81" y="183.85" width="5.86" height="7.07" fill="#c7c6cb"/>
<rect x="390.81" y="191.42" width="5.86" height="7.07" fill="#c7c6cb"/>
<rect x="390.81" y="198.99" width="5.86" height="7.07" fill="#c7c6cb"/>
<rect x="390.81" y="206.56" width="5.86" height="7.07" fill="#c7c6cb"/>
<rect x="390.81" y="214.13" width="5.86" height="7.07" fill="#c7c6cb"/>
<rect x="390.81" y="221.70" width="5.86" height="7.07" fill="#c7c6cb"/>
<rect x="390.81" y="229.27" width="5.86" height="7.07" fill="#c7c6cb"/>
<rect x="390.81" y="236.84" width="5.86" height="7.07" fill="#c7c6cb"/>
<rect x="390.81" y="244.41" width="5.86" height="7.07" fill="#c7c6cb"/>
<rect x="390.81" y="251.98" width="5.86" height="7.07" fill="#c7c6cb"/>
<rect x="390.81" y="259.55" width="5.86" height="7.07" fill="#c7c6cb"/>
<rect x="390.81" y="267.12" width="5.86" height="7.07" fill="#c7c6cb"/>
<rect x="390.81" y="274.69" width="5.86" height="7.07" fill="#c7c6cb"/>
<rect x="390.81" y="282.26" width="5.86" height="7.07" fill="#c7c6cb"/>
<rect x="390.81" y="289.83" width="5.86" height="7.07" fill="#c7c6cb"/>
<rect x="390.81" y="297.40" width="5.86" height="7.07" fill="#c7c6cb"/>
<rect x="390.81" y="304.97" width="5.86" height="7.07" fill="#c7c6cb"/>
<rect x="390.81" y="312.54" width="5.86" height="7.07" fill="#c7c6cb"/>
<rect x="390.81" y="320.11" width="5.86" height="7.07" fill="#c7c6cb"/>
<rect x="390.81" y="327.68" width="5.86" height="7.07" fill="#c7c6cb"/>
<rect x="390.81" y="335.25" width="5.86" height="7.07" fill="#c7c6cb"/>
<rect x="390.81" y="342.82" width="5.86" height="7.07" fill="#c7c6cb"/>
<rect x="390.81" y="350.39" width="5.86" height="7.07" fill="#c7c6cb"/>
<rect x="390.81" y="357.96" width="5.86" height="7.07" fill="#c7c6cb"/>
<rect x="390.81" y="365.53" width="5.86" height="7.07" fill="#c7c6cb"/>
<rect x="390.81" y="373.10" width="5.86" height="7.07" fill="#c7c6cb"/>
<rect x="390.81" y="380.67" width="5.86" height="7.07" fill="#c7c6cb"/>
<rect x="390.81" y="388.24" width="5.86" height="7.07" fill="#c7c6cb"/>
<rect x="390.81" y="395.81" width="5.86" height="7.07" fill="#c7c6cb"/>
<rect x="397.14" y="70.30" width="5.86" height="7.07" fill="#c7c6cb"/>
<rect x="397.14" y="77.87" width="5.86" height="7.07" fill="#c7c6cb"/>
<rect x="397.14" y="85.44" width="5.86" height="7.07" fill="#c7c6cb"/>
<rect x="397.14" y="93.01" width="5.86" height="7.07" fill="#c7c6cb"/>
<rect x="397.14" y="100.58" width="5.86" height="7.07" fill="#c7c6cb"/>
<rect x="397.14" y="108.15" width="5.86" height="7.07" fill="#c7c6cb"/>
<rect x="397.14" y="115.72" width="5.86" height="7.07" fill="#f2b2aa"/>
<rect x="397.14" y="123.29" width="5.86" height="7.07" fill="#c7c6cb"/>
<rect x="397.14" y="130.86" width="5.86" height="7.07" fill="#c7c6cb"/>
<rect x="397.14" y="138.43" width="5.86" height="7.07" fill="#c7c6cb"/>
<rect x="397.14" y="146.00" width="5.86" height="7.07" fill="#c7c6cb"/>
<rect x="397.14" y="153.57" width="5.86" height="7.07" fill="#c7c6cb"/>
<rect x="397.14" y="161.14" width="5.86" height="7.07" fill="#c7c6cb"/>
<rect x="397.14" y="168.71" width="5.86" height="7.07" fill="#c7c6cb"/>
<rect x="397.14" y="176.28" width="5.86" height="7.07" fill="#c7c6cb"/>
<rect x="397.14" y="183.85" width="5.86" height="7.07" fill="#c7c6cb"/>
<rect x="397.14" y="191.42" width="5.86" height="7.07" fill="#c7c6cb"/>
<rect x="397.14" y="198.99" width="5.86" height="7.07" fill="#c7c6cb"/>
<rect x="397.14" y="206.56" width="5.86" height="7.07" fill="#c7c6cb"/>
<rect x="397.14" y="214.13" width="5.86" height="7.07" fill="#c7c6cb"/>
<rect x="397.14" y="221.70" width="5.86" height="7.07" fill="#c7c6cb"/>
<rect x="397.14" y="229.27" width="5.86" height="7.07" fill="#c7c6cb"/>
<rect x="397.14" y="236.84" width="5.86" height="7.07" fill="#c7c6cb"/>
<rect x="397.14" y="244.41" width="5.86" height="7.07" fill="#c7c6cb"/>
<rect x="397.14" y="251.98" width="5.86" height="7.07" fill="#c7c6cb"/>
<rect x="397.14" y="259.55" width="5.86" height="7.07" fill="#c7c6cb"/>
<rect x="397.14" y="267.12" width="5.86" height="7.07" fill="#c7c6cb"/>
<rect x="397.14" y="274.69" width="5.86" height="7.07" fill="#c7c6cb"/>
<rect x="397.14" y="282.26" width="5.86" height="7.07" fill="#c7c6cb"/>
<rect x="397.14" y="289.83" width="5.86" height="7.07" fill="#c7c6cb"/>
<rect x="397.14" y="297.40" width="5.86" height="7.07" fill="#c7c6cb"/>
<rect x="397.14" y="304.97" width="5.86" height="7.07" fill="#c7c6cb"/>
<rect x="397.14" y="312.54" width="5.86" height="7.07" fill="#c7c6cb"/>
<rect x="397.14" y="320.11" width="5.86" height="7.07" fill="#c7c6cb"/>
<rect x="397.14" y="327.68" width="5.86" height="7.07" fill="#c7c6cb"/>
<rect x="397.14" y="335.25" width="5.86" height="7.07" fill="#c7c6cb"/>
<rect x="397.14" y="342.82" width="5.86" height="7.07" fill="#c7c6cb"/>
<rect x="397.14" y="350.39" width="5.86" height="7.07" fill="#c7c6cb"/>
<rect x="397.14" y="357.96" width="5.86" height="7.07" fill="#c7c6cb"/>
<rect x="397.14" y="365.53" width="5.86" height="7.07" fill="#c7c6cb"/>
<rect x="397.14" y="373.10" width="5.86" height="7.07" fill="#c7c6cb"/>
<rect x="397.14" y="380.67" width="5.86" height="7.07" fill="#c7c6cb"/>
<rect x="397.14" y="388.24" width="5.86" height="7.07" fill="#c7c6cb"/>
<rect x="397.14" y="395.81" width="5.86" height="7.07" fill="#c7c6cb"/>
<rect x="403.48" y="70.30" width="5.86" height="7.07" fill="#c7c6cb"/>
<rect x="403.48" y="77.87" width="5.86" height="7.07" fill="#c7c6cb"/>
<rect x="403.48" y="85.44" width="5.86" height="7.07" fill="#c7c6cb"/>
<rect x="403.48" y="93.01" width="5.86" height="7.07" fill="#c7c6cb"/>
<rect x="403.48" y="100.58" width="5.86" height="7.07" fill="#c7c6cb"/>
<rect x="403.48" y="108.15" width="5.86" height="7.07" fill="#c7c6cb"/>
<rect x="403.48" y="115.72" width="5.86" height="7.07" fill="#c7c6cb"/>
<rect x="403.48" y="123.29" width="5.86" height="7.07" fill="#c7c6cb"/>
<rect x="403.48" y="130.86" width="5.86" height="7.07" fill="#c7c6cb"/>
<rect x="403.48" y="138.43" width="5.86" height="7.07" fill="#c7c6cb"/>
<rect x="403.48" y="146.00" width="5.86" height="7.07" fill="#c7c6cb"/>
<rect x="403.48" y="153.57" width="5.86" height="7.07" fill="#c7c6cb"/>
<rect x="403.48" y="161.14" width="5.86" height="7.07" fill="#c7c6cb"/>
<rect x="403.48" y="168.71" width="5.86" height="7.07" fill="#c7c6cb"/>
<rect x="403.48" y="176.28" width="5.86" height="7.07" fill="#c7c6cb"/>
<rect x="403.48" y="183.85" width="5.86" height="7.07" fill="#c7c6cb"/>
<rect x="403.48" y="191.42" width="5.86" height="7.07" fill="#c7c6cb"/>
<rect x="403.48" y="198.99" width="5.86" height="7.07" fill="#c7c6cb"/>
<rect x="403.48" y="206.56" width="5.86" height="7.07" fill="#c7c6cb"/>
<rect x="403.48" y="214.13" width="5.86" height="7.07" fill="#c7c6cb"/>
<rect x="403.48" y="221.70" width="5.86" height="7.07" fill="#c7c6cb"/>
<rect x="403.48" y="229.27" width="5.86" height="7.07" fill="#c7c6cb"/>
<rect x="403.48" y="236.84" width="5.86" height="7.07" fill="#c7c6cb"/>
<rect x="403.48" y="244.41" width="5.86" height="7.07" fill="#c7c6cb"/>
<rect x="403.48" y="251.98" width="5.86" height="7.07" fill="#c7c6cb"/>
<rect x="403.48" y="259.55" width="5.86" height="7.07" fill="#c7c6cb"/>
<rect x="403.48" y="267.12" width="5.86" height="7.07" fill="#c7c6cb"/>
<rect x="403.48" y="274.69" width="5.86" height="7.07" fill="#c7c6cb"/>
<rect x="403.48" y="282.26" width="5.86" height="7.07" fill="#c7c6cb"/>
<rect x="403.48" y="289.83" width="5.86" height="7.07" fill="#c7c6cb"/>
<rect x="403.48" y="297.40" width="5.86" height="7.07" fill="#c7c6cb"/>
<rect x="403.48" y="304.97" width="5.86" height="7.07" fill="#ef8b82"/>
<rect x="403.48" y="312.54" width="5.86" height="7.07" fill="#c7c6cb"/>
<rect x="403.48" y="320.11" width="5.86" height="7.07" fill="#c7c6cb"/>
<rect x="403.48" y="327.68" width="5.86" height="7.07" fill="#c7c6cb"/>
<rect x="403.48" y="335.25" width="5.86" height="7.07" fill="#c7c6cb"/>
<rect x="403.48" y="342.82" width="5.86" height="7.07" fill="#c7c6cb"/>
<rect x="403.48" y="350.39" width="5.86" height="7.07" fill="#c7c6cb"/>
<rect x="403.48" y="357.96" width="5.86" height="7.07" fill="#c7c6cb"/>
<rect x="403.48" y="365.53" width="5.86" height="7.07" fill="#c7c6cb"/>
<rect x="403.48" y="373.10" width="5.86" height="7.07" fill="#c7c6cb"/>
<rect x="403.48" y="380.67" width="5.86" height="7.07" fill="#c7c6cb"/>
<rect x="403.48" y="388.24" width="5.86" height="7.07" fill="#c7c6cb"/>
<rect x="403.48" y="395.81" width="5.86" height="7.07" fill="#c7c6cb"/>
<rect x="414.75" y="70.30" width="5.86" height="7.07" fill="#c7c6cb"/>
<rect x="414.75" y="77.87" width="5.86" height="7.07" fill="#c7c6cb"/>
<rect x="414.75" y="85.44" width="5.86" height="7.07" fill="#c7c6cb"/>
<rect x="414.75" y="93.01" width="5.86" height="7.07" fill="#c7c6cb"/>
<rect x="414.75" y="100.58" width="5.86" height="7.07" fill="#c7c6cb"/>
<rect x="414.75" y="108.15" width="5.86" height="7.07" fill="#c7c6cb"/>
<rect x="414.75" y="115.72" width="5.86" height="7.07" fill="#f2b2aa"/>
<rect x="414.75" y="123.29" width="5.86" height="7.07" fill="#c7c6cb"/>
<rect x="414.75" y="130.86" width="5.86" height="7.07" fill="#c7c6cb"/>
<rect x="414.75" y="138.43" width="5.86" height="7.07" fill="#c7c6cb"/>
<rect x="414.75" y="146.00" width="5.86" height="7.07" fill="#c7c6cb"/>
<rect x="414.75" y="153.57" width="5.86" height="7.07" fill="#c7c6cb"/>
<rect x="414.75" y="161.14" width="5.86" height="7.07" fill="#c7c6cb"/>
<rect x="414.75" y="168.71" width="5.86" height="7.07" fill="#c7c6cb"/>
<rect x="414.75" y="176.28" width="5.86" height="7.07" fill="#c7c6cb"/>
<rect x="414.75" y="183.85" width="5.86" height="7.07" fill="#c7c6cb"/>
<rect x="414.75" y="191.42" width="5.86" height="7.07" fill="#c7c6cb"/>
<rect x="414.75" y="198.99" width="5.86" height="7.07" fill="#c7c6cb"/>
<rect x="414.75" y="206.56" width="5.86" height="7.07" fill="#c7c6cb"/>
<rect x="414.75" y="214.13" width="5.86" height="7.07" fill="#c7c6cb"/>
<rect x="414.75" y="221.70" width="5.86" height="7.07" fill="#c7c6cb"/>
<rect x="414.75" y="229.27" width="5.86" height="7.07" fill="#c7c6cb"/>
<rect x="414.75" y="236.84" width="5.86" height="7.07" fill="#c7c6cb"/>
<rect x="414.75" y="244.41" width="5.86" height="7.07" fill="#c7c6cb"/>
<rect x="414.75" y="251.98" width="5.86" height="7.07" fill="#c7c6cb"/>
<rect x="414.75" y="259.55" width="5.86" height="7.07" fill="#c7c6cb"/>
<rect x="414.75" y="267.12" width="5.86" height="7.07" fill="#c7c6cb"/>
<rect x="414.75" y="274.69" width="5.86" height="7.07" fill="#c7c6cb"/>
<rect x="414.75" y="282.26" width="5.86" height="7.07" fill="#c7c6cb"/>
<rect x="414.75" y="289.83" width="5.86" height="7.07" fill="#c7c6cb"/>
<rect x="414.75" y="297.40" width="5.86" height="7.07" fill="#c7c6cb"/>
<rect x="414.75" y="304.97" width="5.86" height="7.07" fill="#c7c6cb"/>
<rect x="414.75" y="312.54" width="5.86" height="7.07" fill="#c7c6cb"/>
<rect x="414.75" y="320.11" width="5.86" height="7.07" fill="#c7c6cb"/>
<rect x="414.75" y="327.68" width="5.86" height="7.07" fill="#c7c6cb"/>
<rect x="414.75" y="335.25" width="5.86" height="7.07" fill="#c7c6cb"/>
<rect x="414.75" y="342.82" width="5.86" height="7.07" fill="#c7c6cb"/>
<rect x="414.75" y="350.39" width="5.86" height="7.07" fill="#c7c6cb"/>
<rect x="414.75" y="357.96" width="5.86" height="7.07" fill="#c7c6cb"/>
<rect x="414.75" y="365.53" width="5.86" height="7.07" fill="#c7c6cb"/>
<rect x="414.75" y="373.10" width="5.86" height="7.07" fill="#c7c6cb"/>
<rect x="414.75" y="380.67" width="5.86" height="7.07" fill="#f2b2aa"/>
<rect x="414.75" y="388.24" width="5.86" height="7.07" fill="#c7c6cb"/>
<rect x="414.75" y="395.81" width="5.86" height="7.07" fill="#c7c6cb"/>
<rect x="421.08" y="70.30" width="5.86" height="7.07" fill="#c7c6cb"/>
<rect x="421.08" y="77.87" width="5.86" height="7.07" fill="#c7c6cb"/>
<rect x="421.08" y="85.44" width="5.86" height="7.07" fill="#c7c6cb"/>
<rect x="421.08" y="93.01" width="5.86" height="7.07" fill="#c7c6cb"/>
<rect x="421.08" y="100.58" width="5.86" height="7.07" fill="#c7c6cb"/>
<rect x="421.08" y="108.15" width="5.86" height="7.07" fill="#c7c6cb"/>
<rect x="421.08" y="115.72" width="5.86" height="7.07" fill="#c7c6cb"/>
<rect x="421.08" y="123.29" width="5.86" height="7.07" fill="#c7c6cb"/>
<rect x="421.08" y="130.86" width="5.86" height="7.07" fill="#c7c6cb"/>
<rect x="421.08" y="138.43" width="5.86" height="7.07" fill="#c7c6cb"/>
<rect x="421.08" y="146.00" width="5.86" height="7.07" fill="#c7c6cb"/>
<rect x="421.08" y="153.57" width="5.86" height="7.07" fill="#c7c6cb"/>
<rect x="421.08" y="161.14" width="5.86" height="7.07" fill="#c7c6cb"/>
<rect x="421.08" y="168.71" width="5.86" height="7.07" fill="#c7c6cb"/>
<rect x="421.08" y="176.28" width="5.86" height="7.07" fill="#c7c6cb"/>
<rect x="421.08" y="183.85" width="5.86" height="7.07" fill="#c7c6cb"/>
<rect x="421.08" y="191.42" width="5.86" height="7.07" fill="#c7c6cb"/>
<rect x="421.08" y="198.99" width="5.86" height="7.07" fill="#c7c6cb"/>
<rect x="421.08" y="206.56" width="5.86" height="7.07" fill="#c7c6cb"/>
<rect x="421.08" y="214.13" width="5.86" height="7.07" fill="#c7c6cb"/>
<rect x="421.08" y="221.70" width="5.86" height="7.07" fill="#c7c6cb"/>
<rect x="421.08" y="229.27" width="5.86" height="7.07" fill="#c7c6cb"/>
<rect x="421.08" y="236.84" width="5.86" height="7.07" fill="#c7c6cb"/>
<rect x="421.08" y="244.41" width="5.86" height="7.07" fill="#c7c6cb"/>
<rect x="421.08" y="251.98" width="5.86" height="7.07" fill="#c7c6cb"/>
<rect x="421.08" y="259.55" width="5.86" height="7.07" fill="#c7c6cb"/>
<rect x="421.08" y="267.12" width="5.86" height="7.07" fill="#c7c6cb"/>
<rect x="421.08" y="274.69" width="5.86" height="7.07" fill="#c7c6cb"/>
<rect x="421.08" y="282.26" width="5.86" height="7.07" fill="#c7c6cb"/>
<rect x="421.08" y="289.83" width="5.86" height="7.07" fill="#c7c6cb"/>
<rect x="421.08" y="297.40" width="5.86" height="7.07" fill="#c7c6cb"/>
<rect x="421.08" y="304.97" width="5.86" height="7.07" fill="#c7c6cb"/>
<rect x="421.08" y="312.54" width="5.86" height="7.07" fill="#c7c6cb"/>
<rect x="421.08" y="320.11" width="5.86" height="7.07" fill="#c7c6cb"/>
<rect x="421.08" y="327.68" width="5.86" height="7.07" fill="#c7c6cb"/>
<rect x="421.08" y="335.25" width="5.86" height="7.07" fill="#c7c6cb"/>
<rect x="421.08" y="342.82" width="5.86" height="7.07" fill="#c7c6cb"/>
<rect x="421.08" y="350.39" width="5.86" height="7.07" fill="#c7c6cb"/>
<rect x="421.08" y="357.96" width="5.86" height="7.07" fill="#c7c6cb"/>
<rect x="421.08" y="365.53" width="5.86" height="7.07" fill="#c7c6cb"/>
<rect x="421.08" y="373.10" width="5.86" height="7.07" fill="#f2b2aa"/>
<rect x="421.08" y="380.67" width="5.86" height="7.07" fill="#c7c6cb"/>
<rect x="421.08" y="388.24" width="5.86" height="7.07" fill="#c7c6cb"/>
<rect x="421.08" y="395.81" width="5.86" height="7.07" fill="#c7c6cb"/>
<rect x="427.42" y="70.30" width="5.86" height="7.07" fill="#c7c6cb"/>
<rect x="427.42" y="77.87" width="5.86" height="7.07" fill="#c7c6cb"/>
<rect x="427.42" y="85.44" width="5.86" height="7.07" fill="#c7c6cb"/>
<rect x="427.42" y="93.01" width="5.86" height="7.07" fill="#c7c6cb"/>
<rect x="427.42" y="100.58" width="5.86" height="7.07" fill="#c7c6cb"/>
<rect x="427.42" y="108.15" width="5.86" height="7.07" fill="#c7c6cb"/>
<rect x="427.42" y="115.72" width="5.86" height="7.07" fill="#c7c6cb"/>
<rect x="427.42" y="123.29" width="5.86" height="7.07" fill="#c7c6cb"/>
<rect x="427.42" y="130.86" width="5.86" height="7.07" fill="#c7c6cb"/>
<rect x="427.42" y="138.43" width="5.86" height="7.07" fill="#c7c6cb"/>
<rect x="427.42" y="146.00" width="5.86" height="7.07" fill="#c7c6cb"/>
<rect x="427.42" y="153.57" width="5.86" height="7.07" fill="#c7c6cb"/>
<rect x="427.42" y="161.14" width="5.86" height="7.07" fill="#c7c6cb"/>
<rect x="427.42" y="168.71" width="5.86" height="7.07" fill="#c7c6cb"/>
<rect x="427.42" y="176.28" width="5.86" height="7.07" fill="#c7c6cb"/>
<rect x="427.42" y="183.85" width="5.86" height="7.07" fill="#c7c6cb"/>
<rect x="427.42" y="191.42" width="5.86" height="7.07" fill="#c7c6cb"/>
<rect x="427.42" y="198.99" width="5.86" height="7.07" fill="#c7c6cb"/>
<rect x="427.42" y="206.56" width="5.86" height="7.07" fill="#c7c6cb"/>
<rect x="427.42" y="214.13" width="5.86" height="7.07" fill="#c7c6cb"/>
<rect x="427.42" y="221.70" width="5.86" height="7.07" fill="#c7c6cb"/>
<rect x="427.42" y="229.27" width="5.86" height="7.07" fill="#c7c6cb"/>
<rect x="427.42" y="236.84" width="5.86" height="7.07" fill="#c7c6cb"/>
<rect x="427.42" y="244.41" width="5.86" height="7.07" fill="#c7c6cb"/>
<rect x="427.42" y="251.98" width="5.86" height="7.07" fill="#c7c6cb"/>
<rect x="427.42" y="259.55" width="5.86" height="7.07" fill="#c7c6cb"/>
<rect x="427.42" y="267.12" width="5.86" height="7.07" fill="#c7c6cb"/>
<rect x="427.42" y="274.69" width="5.86" height="7.07" fill="#c7c6cb"/>
<rect x="427.42" y="282.26" width="5.86" height="7.07" fill="#c7c6cb"/>
<rect x="427.42" y="289.83" width="5.86" height="7.07" fill="#c7c6cb"/>
<rect x="427.42" y="297.40" width="5.86" height="7.07" fill="#c7c6cb"/>
<rect x="427.42" y="304.97" width="5.86" height="7.07" fill="#c7c6cb"/>
<rect x="427.42" y="312.54" width="5.86" height="7.07" fill="#c7c6cb"/>
<rect x="427.42" y="320.11" width="5.86" height="7.07" fill="#c7c6cb"/>
<rect x="427.42" y="327.68" width="5.86" height="7.07" fill="#c7c6cb"/>
<rect x="427.42" y="335.25" width="5.86" height="7.07" fill="#f2b2aa"/>
<rect x="427.42" y="342.82" width="5.86" height="7.07" fill="#c7c6cb"/>
<rect x="427.42" y="350.39" width="5.86" height="7.07" fill="#c7c6cb"/>
<rect x="427.42" y="357.96" width="5.86" height="7.07" fill="#c7c6cb"/>
<rect x="427.42" y="365.53" width="5.86" height="7.07" fill="#c7c6cb"/>
<rect x="427.42" y="373.10" width="5.86" height="7.07" fill="#c7c6cb"/>
<rect x="427.42" y="380.67" width="5.86" height="7.07" fill="#f2b2aa"/>
<rect x="427.42" y="388.24" width="5.86" height="7.07" fill="#c7c6cb"/>
<rect x="427.42" y="395.81" width="5.86" height="7.07" fill="#c7c6cb"/>
<circle cx="68.83" cy="73.83" r="2.5" fill="#6e2f24" stroke="#24090a" stroke-width="0.75"/><path d="M67.23 73.83H70.43M68.83 72.23V75.43" stroke="#b06a58" stroke-width="0.5"/>
<circle cx="75.16" cy="73.83" r="2.5" fill="#6e2f24" stroke="#24090a" stroke-width="0.75"/><path d="M73.56 73.83H76.76M75.16 72.23V75.43" stroke="#b06a58" stroke-width="0.5"/>
<circle cx="81.50" cy="73.83" r="2.5" fill="#6e2f24" stroke="#24090a" stroke-width="0.75"/><path d="M79.90 73.83H83.10M81.50 72.23V75.43" stroke="#b06a58" stroke-width="0.5"/>
<rect x="85.73" y="79.31" width="4.2" height="4.2" fill="#24090a"/>
<path d="M94.17 78.91L96.77 83.41H91.57Z" fill="#24090a"/>
<path d="M98.50 86.97L102.50 90.97M102.50 86.97L98.50 90.97" stroke="#6e2119" stroke-width="1.0"/>
<path d="M104.84 86.97L108.84 90.97M108.84 86.97L104.84 90.97" stroke="#6e2119" stroke-width="1.0"/>
<path d="M113.17 93.94L115.77 96.54L113.17 99.14L110.57 96.54Z" fill="#a8584a" stroke="#3a0f0a" stroke-width="0.85"/><path d="M110.77 96.54H115.57M113.17 94.14V98.94" stroke="#3a0f0a" stroke-width="0.75"/>
<path d="M119.51 93.94L122.11 96.54L119.51 99.14L116.91 96.54Z" fill="#a8584a" stroke="#3a0f0a" stroke-width="0.85"/><path d="M117.11 96.54H121.91M119.51 94.14V98.94" stroke="#3a0f0a" stroke-width="0.75"/>
<rect x="123.79" y="102.06" width="4.1" height="4.1" fill="#c07468" stroke="#3a0f0a" stroke-width="0.9"/><path d="M123.84 102.11L127.84 106.11M127.84 102.11L123.84 106.11" stroke="#3a0f0a" stroke-width="0.8"/>
<path d="M132.18 109.39L134.28 111.69L132.18 113.98L130.08 111.69Z" fill="#24090a"/>
<circle cx="138.51" cy="119.25" r="2.05" fill="#eaa08f" stroke="#66201a" stroke-width="1.05"/>
<rect x="142.80" y="124.77" width="4.1" height="4.1" fill="#c07468" stroke="#3a0f0a" stroke-width="0.9"/><path d="M142.85 124.82L146.85 128.82M146.85 124.82L142.85 128.82" stroke="#3a0f0a" stroke-width="0.8"/>
<path d="M149.18 132.40L153.18 136.40M153.18 132.40L149.18 136.40" stroke="#6e2119" stroke-width="1.0"/>
<path d="M155.22 140.27H159.82L157.52 144.16Z" fill="none" stroke="#4a120e" stroke-width="1.0"/>
<circle cx="163.85" cy="149.53" r="2.25" fill="#24090a"/>
<path d="M168.19 155.10L172.19 159.10M172.19 155.10L168.19 159.10" stroke="#6e2119" stroke-width="1.0"/>
<rect x="174.72" y="162.87" width="3.6" height="3.6" fill="none" stroke="#4a120e" stroke-width="1.0"/>
<circle cx="182.86" cy="172.24" r="2.05" fill="#eaa08f" stroke="#66201a" stroke-width="1.05"/>
<rect x="187.14" y="177.76" width="4.1" height="4.1" fill="#c07468" stroke="#3a0f0a" stroke-width="0.9"/><path d="M187.19 177.81L191.19 181.81M191.19 177.81L187.19 181.81" stroke="#3a0f0a" stroke-width="0.8"/>
<path d="M193.43 187.59H197.63M195.53 185.39V189.49M193.83 185.89H197.23" stroke="#4a120e" stroke-width="0.95"/>
<path d="M149.18 192.96L153.18 196.96M153.18 192.96L149.18 196.96" stroke="#6e2119" stroke-width="1.0"/>
<circle cx="68.83" cy="202.53" r="2.5" fill="#6e2f24" stroke="#24090a" stroke-width="0.75"/><path d="M67.23 202.53H70.43M68.83 200.93V204.12" stroke="#b06a58" stroke-width="0.5"/>
<path d="M299.68 187.59H303.88M301.78 185.39V189.49M300.08 185.89H303.48" stroke="#4a120e" stroke-width="0.95"/>
<path d="M293.45 192.96L297.45 196.96M297.45 192.96L293.45 196.96" stroke="#6e2119" stroke-width="1.0"/>
<path d="M282.78 359.30L285.08 363.30H280.48Z" fill="none" stroke="#24090a" stroke-width="1.0"/>
<path d="M293.45 367.07L297.45 371.07M297.45 367.07L293.45 371.07" stroke="#6e2119" stroke-width="1.0"/>
<path d="M282.78 397.15L285.08 401.15H280.48Z" fill="none" stroke="#24090a" stroke-width="1.0"/>
<path d="M289.11 397.15L291.41 401.15H286.81Z" fill="none" stroke="#24090a" stroke-width="1.0"/>
<path d="M323.23 140.27H327.83L325.53 144.16Z" fill="none" stroke="#4a120e" stroke-width="1.0"/>
<circle cx="331.86" cy="172.24" r="2.05" fill="#eaa08f" stroke="#66201a" stroke-width="1.05"/>
<path d="M355.73 78.91L358.33 83.41H353.13Z" fill="#24090a"/>
<rect x="359.96" y="79.31" width="4.2" height="4.2" fill="#24090a"/>
<path d="M368.40 78.91L371.00 83.41H365.80Z" fill="#24090a"/>
<circle cx="400.07" cy="119.25" r="2.05" fill="#eaa08f" stroke="#66201a" stroke-width="1.05"/>
<circle cx="387.40" cy="149.53" r="2.25" fill="#24090a"/>
<rect x="391.94" y="162.87" width="3.6" height="3.6" fill="none" stroke="#4a120e" stroke-width="1.0"/>
<path d="M355.73 313.58L358.33 318.08H353.13Z" fill="#24090a"/>
<circle cx="387.40" cy="346.36" r="2.25" fill="#24090a"/>
<rect x="372.63" y="374.54" width="4.2" height="4.2" fill="#24090a"/>
<circle cx="381.07" cy="391.78" r="1.2" fill="#24090a"/><path d="M379.17 391.78H382.97M381.07 389.88V393.68M379.67 390.38L382.47 393.18M382.47 390.38L379.67 393.18" stroke="#4a120e" stroke-width="0.55"/>
<circle cx="417.68" cy="119.25" r="2.25" fill="#24090a"/>
<circle cx="430.35" cy="338.79" r="2.25" fill="#24090a"/>
<rect x="421.91" y="374.54" width="4.2" height="4.2" fill="#24090a"/>
<circle cx="417.68" cy="384.21" r="2.25" fill="#24090a"/>
<circle cx="430.35" cy="384.21" r="2.25" fill="#24090a"/>
<text transform="translate(436.6 75.78) scale(0.93 1)" font-size="6.7" font-style="italic" fill="#36826c" stroke="#36826c" stroke-width="0.08">TREX1</text>
<text transform="translate(436.6 83.36) scale(0.93 1)" font-size="6.7" font-style="italic" fill="#36826c" stroke="#36826c" stroke-width="0.08">ELP1</text>
<text transform="translate(436.6 90.92) scale(0.93 1)" font-size="6.7" font-style="italic" fill="#cf3556" stroke="#cf3556" stroke-width="0.08">NOTCH1</text>
<text transform="translate(436.6 98.49) scale(0.93 1)" font-size="6.7" font-style="italic" fill="#3b5c88" stroke="#3b5c88" stroke-width="0.08">RECQL4</text>
<text transform="translate(436.6 106.06) scale(0.93 1)" font-size="6.7" font-style="italic" fill="#3b5c88" stroke="#3b5c88" stroke-width="0.08">AHI1</text>
<text transform="translate(436.6 113.64) scale(0.93 1)" font-size="6.7" font-style="italic" fill="#3b5c88" stroke="#3b5c88" stroke-width="0.08">CPT1A</text>
<text transform="translate(436.6 121.20) scale(0.93 1)" font-size="6.7" font-style="italic" fill="#3b5c88" stroke="#3b5c88" stroke-width="0.08">CSPP1</text>
<text transform="translate(436.6 128.77) scale(0.93 1)" font-size="6.7" font-style="italic" fill="#3b5c88" stroke="#3b5c88" stroke-width="0.08">CTSC</text>
<text transform="translate(436.6 136.34) scale(0.93 1)" font-size="6.7" font-style="italic" fill="#3b5c88" stroke="#3b5c88" stroke-width="0.08">DDC</text>
<text transform="translate(436.6 143.91) scale(0.93 1)" font-size="6.7" font-style="italic" fill="#3b5c88" stroke="#3b5c88" stroke-width="0.08">DRC1</text>
<text transform="translate(436.6 151.48) scale(0.93 1)" font-size="6.7" font-style="italic" fill="#3b5c88" stroke="#3b5c88" stroke-width="0.08">ETHE1</text>
<text transform="translate(436.6 159.05) scale(0.93 1)" font-size="6.7" font-style="italic" fill="#3b5c88" stroke="#3b5c88" stroke-width="0.08">LAMC3</text>
<text transform="translate(436.6 166.62) scale(0.93 1)" font-size="6.7" font-style="italic" fill="#3b5c88" stroke="#3b5c88" stroke-width="0.08">MNS1</text>
<text transform="translate(436.6 174.19) scale(0.93 1)" font-size="6.7" font-style="italic" fill="#3b5c88" stroke="#3b5c88" stroke-width="0.08">P3H1</text>
<text transform="translate(436.6 181.76) scale(0.93 1)" font-size="6.7" font-style="italic" fill="#3b5c88" stroke="#3b5c88" stroke-width="0.08">PIGV</text>
<text transform="translate(436.6 189.34) scale(0.93 1)" font-size="6.7" font-style="italic" fill="#36826c" stroke="#36826c" stroke-width="0.08">RP1</text>
<text transform="translate(436.6 196.91) scale(0.93 1)" font-size="6.7" font-style="italic" fill="#3b5c88" stroke="#3b5c88" stroke-width="0.08">TMIE</text>
<text transform="translate(436.6 204.47) scale(0.93 1)" font-size="6.7" font-style="italic" fill="#3b5c88" stroke="#3b5c88" stroke-width="0.08">XDH</text>
<text transform="translate(436.6 212.04) scale(0.93 1)" font-size="6.7" font-style="italic" fill="#3b5c88" stroke="#3b5c88" stroke-width="0.08">APRT</text>
<text transform="translate(436.6 219.61) scale(0.93 1)" font-size="6.7" font-style="italic" fill="#3b5c88" stroke="#3b5c88" stroke-width="0.08">ATP13A2</text>
<text transform="translate(436.6 227.18) scale(0.93 1)" font-size="6.7" font-style="italic" fill="#cf3556" stroke="#cf3556" stroke-width="0.08">CACNA1G</text>
<text transform="translate(436.6 234.75) scale(0.93 1)" font-size="6.7" font-style="italic" fill="#3b5c88" stroke="#3b5c88" stroke-width="0.08">CPS1</text>
<text transform="translate(436.6 242.33) scale(0.93 1)" font-size="6.7" font-style="italic" fill="#3b5c88" stroke="#3b5c88" stroke-width="0.08">DNAH1</text>
<text transform="translate(436.6 249.90) scale(0.93 1)" font-size="6.7" font-style="italic" fill="#cf3556" stroke="#cf3556" stroke-width="0.08">DNMT3A</text>
<text transform="translate(436.6 257.47) scale(0.93 1)" font-size="6.7" font-style="italic" fill="#36826c" stroke="#36826c" stroke-width="0.08">MECP2</text>
<text transform="translate(436.6 265.04) scale(0.93 1)" font-size="6.7" font-style="italic" fill="#3b5c88" stroke="#3b5c88" stroke-width="0.08">NFU1</text>
<text transform="translate(436.6 272.61) scale(0.93 1)" font-size="6.7" font-style="italic" fill="#3b5c88" stroke="#3b5c88" stroke-width="0.08">PLOD1</text>
<text transform="translate(436.6 280.18) scale(0.93 1)" font-size="6.7" font-style="italic" fill="#3b5c88" stroke="#3b5c88" stroke-width="0.08">PMS2</text>
<text transform="translate(436.6 287.75) scale(0.93 1)" font-size="6.7" font-style="italic" fill="#cf3556" stroke="#cf3556" stroke-width="0.08">POT1</text>
<text transform="translate(436.6 295.31) scale(0.93 1)" font-size="6.7" font-style="italic" fill="#3b5c88" stroke="#3b5c88" stroke-width="0.08">QARS1</text>
<text transform="translate(436.6 302.89) scale(0.93 1)" font-size="6.7" font-style="italic" fill="#3b5c88" stroke="#3b5c88" stroke-width="0.08">SNORD118</text>
<text transform="translate(436.6 310.46) scale(0.93 1)" font-size="6.7" font-style="italic" fill="#3b5c88" stroke="#3b5c88" stroke-width="0.08">ALG6</text>
<text transform="translate(436.6 318.03) scale(0.93 1)" font-size="6.7" font-style="italic" fill="#3b5c88" stroke="#3b5c88" stroke-width="0.08">CCDC65</text>
<text transform="translate(436.6 325.60) scale(0.93 1)" font-size="6.7" font-style="italic" fill="#3b5c88" stroke="#3b5c88" stroke-width="0.08">CYP17A1</text>
<text transform="translate(436.6 333.17) scale(0.93 1)" font-size="6.7" font-style="italic" fill="#36826c" stroke="#36826c" stroke-width="0.08">F5</text>
<text transform="translate(436.6 340.74) scale(0.93 1)" font-size="6.7" font-style="italic" fill="#3b5c88" stroke="#3b5c88" stroke-width="0.08">MYO15A</text>
<text transform="translate(436.6 348.31) scale(0.93 1)" font-size="6.7" font-style="italic" fill="#36826c" stroke="#36826c" stroke-width="0.08">NAGLU</text>
<text transform="translate(436.6 355.88) scale(0.93 1)" font-size="6.7" font-style="italic" fill="#3b5c88" stroke="#3b5c88" stroke-width="0.08">PC</text>
<text transform="translate(436.6 363.45) scale(0.93 1)" font-size="6.7" font-style="italic" fill="#cf3556" stroke="#cf3556" stroke-width="0.08">PTPN11</text>
<text transform="translate(436.6 371.02) scale(0.93 1)" font-size="6.7" font-style="italic" fill="#3b5c88" stroke="#3b5c88" stroke-width="0.08">RMND1</text>
<text transform="translate(436.6 378.59) scale(0.93 1)" font-size="6.7" font-style="italic" fill="#36826c" stroke="#36826c" stroke-width="0.08">SAMHD1</text>
<text transform="translate(436.6 386.16) scale(0.93 1)" font-size="6.7" font-style="italic" fill="#3b5c88" stroke="#3b5c88" stroke-width="0.08">SLC17A5</text>
<text transform="translate(436.6 393.73) scale(0.93 1)" font-size="6.7" font-style="italic" fill="#cf3556" stroke="#cf3556" stroke-width="0.08">TP53</text>
<text transform="translate(436.6 401.30) scale(0.93 1)" font-size="6.7" font-style="italic" fill="#3b5c88" stroke="#3b5c88" stroke-width="0.08">TTLL5</text>
<rect x="472.60" y="71.83" width="21.21" height="4.0" fill="#f2a54a"/>
<rect x="472.60" y="79.41" width="14.14" height="4.0" fill="#f2a54a"/>
<rect x="486.74" y="79.41" width="21.21" height="4.0" fill="#dc8478"/>
<rect x="472.60" y="86.97" width="14.14" height="4.0" fill="#f2a54a"/>
<rect x="472.60" y="94.54" width="14.14" height="4.0" fill="#f2a54a"/>
<rect x="472.60" y="102.11" width="7.07" height="4.0" fill="#f2a54a"/>
<rect x="472.60" y="109.69" width="7.07" height="4.0" fill="#f2a54a"/>
<rect x="472.60" y="117.25" width="7.07" height="4.0" fill="#f2a54a"/>
<rect x="479.67" y="117.25" width="7.07" height="4.0" fill="#efdde6"/>
<rect x="486.74" y="117.25" width="7.07" height="4.0" fill="#bdbcc4"/>
<rect x="472.60" y="124.82" width="7.07" height="4.0" fill="#f2a54a"/>
<rect x="472.60" y="132.40" width="7.07" height="4.0" fill="#f2a54a"/>
<rect x="472.60" y="139.97" width="7.07" height="4.0" fill="#f2a54a"/>
<rect x="479.67" y="139.97" width="7.07" height="4.0" fill="#f6ba10"/>
<rect x="472.60" y="147.53" width="7.07" height="4.0" fill="#f2a54a"/>
<rect x="479.67" y="147.53" width="7.07" height="4.0" fill="#ebe0ee"/>
<rect x="472.60" y="155.10" width="7.07" height="4.0" fill="#f2a54a"/>
<rect x="472.60" y="162.67" width="7.07" height="4.0" fill="#f2a54a"/>
<rect x="479.67" y="162.67" width="7.07" height="4.0" fill="#f3c3ec"/>
<rect x="472.60" y="170.24" width="7.07" height="4.0" fill="#f2a54a"/>
<rect x="479.67" y="170.24" width="7.07" height="4.0" fill="#f6ba10"/>
<rect x="472.60" y="177.81" width="7.07" height="4.0" fill="#f2a54a"/>
<rect x="472.60" y="185.39" width="7.07" height="4.0" fill="#f2a54a"/>
<rect x="479.67" y="185.39" width="7.07" height="4.0" fill="#9fb27a"/>
<rect x="472.60" y="192.96" width="7.07" height="4.0" fill="#f2a54a"/>
<rect x="479.67" y="192.96" width="7.07" height="4.0" fill="#9fb27a"/>
<rect x="472.60" y="200.53" width="7.07" height="4.0" fill="#f2a54a"/>
<rect x="472.60" y="208.09" width="7.07" height="4.0" fill="#f2a54a"/>
<rect x="472.60" y="215.66" width="7.07" height="4.0" fill="#f2a54a"/>
<rect x="472.60" y="223.23" width="7.07" height="4.0" fill="#f2a54a"/>
<rect x="472.60" y="230.80" width="7.07" height="4.0" fill="#f2a54a"/>
<rect x="472.60" y="238.38" width="7.07" height="4.0" fill="#f2a54a"/>
<rect x="472.60" y="245.95" width="7.07" height="4.0" fill="#f2a54a"/>
<rect x="472.60" y="253.52" width="7.07" height="4.0" fill="#f2a54a"/>
<rect x="472.60" y="261.09" width="7.07" height="4.0" fill="#f2a54a"/>
<rect x="472.60" y="268.66" width="7.07" height="4.0" fill="#f2a54a"/>
<rect x="472.60" y="276.23" width="7.07" height="4.0" fill="#f2a54a"/>
<rect x="472.60" y="283.80" width="7.07" height="4.0" fill="#f2a54a"/>
<rect x="472.60" y="291.37" width="7.07" height="4.0" fill="#f2a54a"/>
<rect x="472.60" y="298.94" width="7.07" height="4.0" fill="#f2a54a"/>
<rect x="472.60" y="306.51" width="7.07" height="4.0" fill="#8279b6"/>
<rect x="472.60" y="314.08" width="7.07" height="4.0" fill="#d97c80"/>
<rect x="472.60" y="321.65" width="7.07" height="4.0" fill="#f6ba10"/>
<rect x="472.60" y="329.22" width="7.07" height="4.0" fill="#9fb27a"/>
<rect x="472.60" y="336.79" width="7.07" height="4.0" fill="#bdbcc4"/>
<rect x="472.60" y="344.36" width="7.07" height="4.0" fill="#f3d9e8"/>
<rect x="472.60" y="351.93" width="7.07" height="4.0" fill="#6c69be"/>
<rect x="472.60" y="359.50" width="7.07" height="4.0" fill="#9fb27a"/>
<rect x="472.60" y="367.07" width="7.07" height="4.0" fill="#9fb27a"/>
<rect x="472.60" y="374.64" width="7.07" height="4.0" fill="#d8747a"/>
<rect x="479.67" y="374.64" width="7.07" height="4.0" fill="#bdbcc4"/>
<rect x="472.60" y="382.21" width="7.07" height="4.0" fill="#c1bed3"/>
<rect x="479.67" y="382.21" width="7.07" height="4.0" fill="#c7c0cd"/>
<rect x="472.60" y="389.78" width="7.07" height="4.0" fill="#9fb27a"/>
<rect x="479.67" y="389.78" width="7.07" height="4.0" fill="#de6068"/>
<rect x="472.60" y="397.35" width="14.14" height="4.0" fill="#9fb27a"/>
<path d="M472.3 69.6H510.3" stroke="#1a1a1a" stroke-width="0.8"/>
<path d="M472.60 67.2V69.6" stroke="#1a1a1a" stroke-width="0.7"/>
<text x="472.60" y="61.7" font-size="6.4" text-anchor="middle" fill="#1a1a1a" stroke="#1a1a1a" stroke-width="0.18">0</text>
<path d="M486.74 67.2V69.6" stroke="#1a1a1a" stroke-width="0.7"/>
<text x="486.74" y="61.7" font-size="6.4" text-anchor="middle" fill="#1a1a1a" stroke="#1a1a1a" stroke-width="0.18">2</text>
<path d="M500.88 67.2V69.6" stroke="#1a1a1a" stroke-width="0.7"/>
<text x="500.88" y="61.7" font-size="6.4" text-anchor="middle" fill="#1a1a1a" stroke="#1a1a1a" stroke-width="0.18">4</text>
<text x="487" y="49.8" font-size="8.2" text-anchor="middle" fill="#1a1a1a" transform="translate(487 0) scale(0.76 1) translate(-487 0)" stroke="#1a1a1a" stroke-width="0.18">Count</text>
<text x="319.4" y="12.9" font-size="7.55" fill="#1e1e1e" stroke="#1e1e1e" stroke-width="0.18">Waldenstrom macroglobulinemia</text>
<text x="64.2" y="418.0" font-size="7.35" font-weight="bold" fill="#111" stroke="#111" stroke-width="0.18">LPD Diagnosis</text>
<rect x="64.00" y="423.50" width="6.7" height="6.0" fill="#f4a95e"/>
<text x="73.80" y="429.00" font-size="7.1" fill="#333" stroke="#333" stroke-width="0.18">WM</text>
<rect x="64.00" y="432.95" width="6.7" height="6.0" fill="#a8bf8c"/>
<text x="73.80" y="438.45" font-size="7.1" fill="#333" stroke="#333" stroke-width="0.18">MGUS IgM</text>
<rect x="64.00" y="442.40" width="6.7" height="6.0" fill="#fddc9c"/>
<text x="73.80" y="447.90" font-size="7.1" fill="#333" stroke="#333" stroke-width="0.18">Other MGUS</text>
<rect x="64.00" y="451.85" width="6.7" height="6.0" fill="#e38b80"/>
<text x="73.80" y="457.35" font-size="7.1" fill="#333" stroke="#333" stroke-width="0.18">Related B-Cell disorder</text>
<rect x="64.00" y="461.30" width="6.7" height="6.0" fill="#dcdde0"/>
<text x="73.80" y="466.80" font-size="7.1" fill="#333" stroke="#333" stroke-width="0.18">Unknown</text>
<text x="153.5" y="418.0" font-size="7.35" font-weight="bold" fill="#111" stroke="#111" stroke-width="0.18">Family Type</text>
<rect x="153.30" y="423.50" width="6.7" height="6.0" fill="#c9731f"/>
<text x="163.10" y="429.00" font-size="7.1" fill="#333" stroke="#333" stroke-width="0.18">MIXED WM</text>
<rect x="153.30" y="432.95" width="6.7" height="6.0" fill="#42619b"/>
<text x="163.10" y="438.45" font-size="7.1" fill="#333" stroke="#333" stroke-width="0.18">WM</text>
<rect x="153.30" y="442.40" width="6.7" height="6.0" fill="#33a838"/>
<text x="163.10" y="447.90" font-size="7.1" fill="#333" stroke="#333" stroke-width="0.18">IgM MGUS</text>
<rect x="153.30" y="451.85" width="6.7" height="6.0" fill="#c0bfc4"/>
<text x="163.10" y="457.35" font-size="7.1" fill="#333" stroke="#333" stroke-width="0.18">Unknown</text>
<text x="209.7" y="418.0" font-size="7.35" font-weight="bold" fill="#111" stroke="#111" stroke-width="0.18">Age at Diagnosis</text>
<rect x="209.50" y="423.50" width="6.7" height="6.0" fill="#f9dde6"/>
<text x="219.30" y="429.00" font-size="7.1" fill="#333" stroke="#333" stroke-width="0.18">&lt;40</text>
<rect x="209.50" y="432.95" width="6.7" height="6.0" fill="#9c88c8"/>
<text x="219.30" y="438.45" font-size="7.1" fill="#333" stroke="#333" stroke-width="0.18">40-65</text>
<rect x="209.50" y="442.40" width="6.7" height="6.0" fill="#5f1b6d"/>
<text x="219.30" y="447.90" font-size="7.1" fill="#333" stroke="#333" stroke-width="0.18">&gt;65</text>
<text x="276.8" y="418.0" font-size="7.35" font-weight="bold" fill="#111" stroke="#111" stroke-width="0.18">Sex</text>
<rect x="276.60" y="423.50" width="6.7" height="6.0" fill="#f2a3c9"/>
<text x="286.40" y="429.00" font-size="7.1" fill="#333" stroke="#333" stroke-width="0.18">Female</text>
<rect x="276.60" y="432.95" width="6.7" height="6.0" fill="#2eaae0"/>
<text x="286.40" y="438.45" font-size="7.1" fill="#333" stroke="#333" stroke-width="0.18">Male</text>
<text x="317.6" y="418.0" font-size="7.35" font-weight="bold" fill="#111" stroke="#111" stroke-width="0.18">Ethnicity</text>
<rect x="317.40" y="423.50" width="6.7" height="6.0" fill="#b5121f"/>
<text x="327.20" y="429.00" font-size="7.1" fill="#333" stroke="#333" stroke-width="0.18">East European</text>
<rect x="317.40" y="432.95" width="6.7" height="6.0" fill="#fbbb08"/>
<text x="327.20" y="438.45" font-size="7.1" fill="#333" stroke="#333" stroke-width="0.18">European</text>
<rect x="317.40" y="442.40" width="6.7" height="6.0" fill="#f1f1f1"/>
<text x="327.20" y="447.90" font-size="7.1" fill="#333" stroke="#333" stroke-width="0.18">Unknown</text>
<text x="380.9" y="418.0" font-size="7.35" font-weight="bold" fill="#111" stroke="#111" stroke-width="0.18">Mode of Inheritance</text>
<text x="380.9" y="428.85" font-size="6.97" fill="#cc2d50" stroke="#cc2d50" stroke-width="0.18">Autosomal Dominant</text>
<text x="380.9" y="438.25" font-size="6.97" fill="#3b8a72" stroke="#3b8a72" stroke-width="0.18">Autosomal Dominant/Autosomal Recessive</text>
<text x="380.9" y="447.65" font-size="6.97" fill="#3b66a0" stroke="#3b66a0" stroke-width="0.18">Autosomal Recessive</text>
<rect x="0.5" y="0.5" width="519" height="468" fill="none" stroke="#4d4d4d" stroke-width="1"/>
</svg></body></html>
